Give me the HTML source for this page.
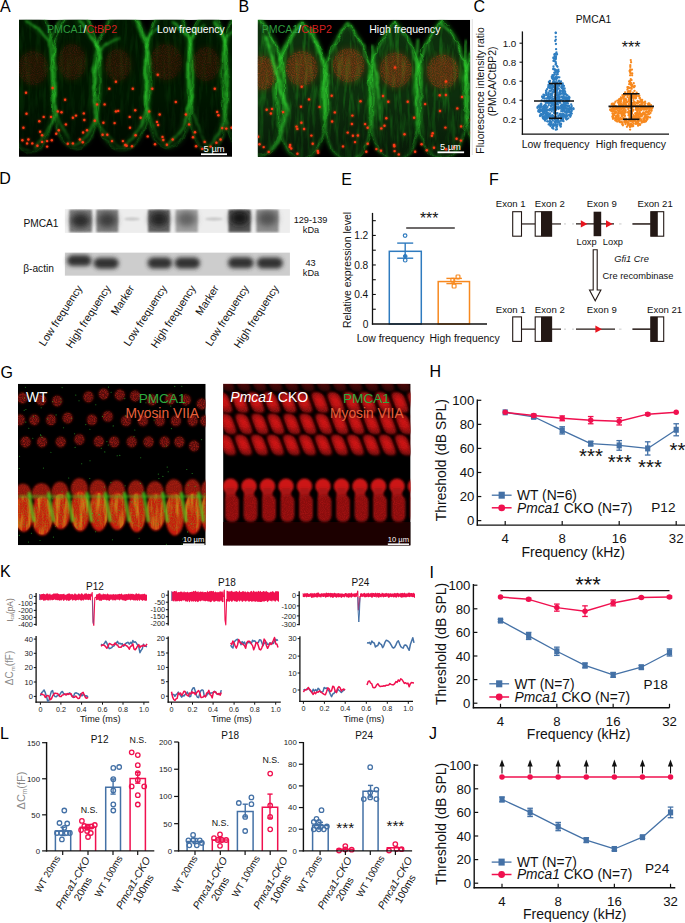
<!DOCTYPE html>
<html><head><meta charset="utf-8"><style>
html,body{margin:0;padding:0;background:#fff;width:685px;height:923px;overflow:hidden}
svg{display:block}
text{font-family:"Liberation Sans",sans-serif}
</style></head><body>
<svg width="685" height="923" viewBox="0 0 685 923">
<defs>
<filter id="b05" x="-50%" y="-50%" width="200%" height="200%"><feGaussianBlur stdDeviation="0.5"/></filter>
<filter id="b1" x="-50%" y="-50%" width="200%" height="200%"><feGaussianBlur stdDeviation="1"/></filter>
<filter id="b2" x="-50%" y="-50%" width="200%" height="200%"><feGaussianBlur stdDeviation="2"/></filter>
<filter id="b3" x="-50%" y="-50%" width="200%" height="200%"><feGaussianBlur stdDeviation="3"/></filter>
<filter id="b5" x="-50%" y="-50%" width="200%" height="200%"><feGaussianBlur stdDeviation="5"/></filter>
<filter id="speck" x="-20%" y="-20%" width="140%" height="140%"><feTurbulence type="fractalNoise" baseFrequency="0.9" numOctaves="2" seed="3" result="n"/><feColorMatrix in="n" type="matrix" values="0 0 0 0 0  0 0 0 0 0  0 0 0 0 0  0 0 0 -2.2 1.4" result="m"/><feComposite in="SourceGraphic" in2="m" operator="in"/></filter>
<filter id="wob" x="-10%" y="-10%" width="120%" height="120%"><feTurbulence type="fractalNoise" baseFrequency="0.06" numOctaves="2" seed="5" result="t"/><feDisplacementMap in="SourceGraphic" in2="t" scale="6" xChannelSelector="R" yChannelSelector="G" result="d"/><feGaussianBlur in="d" stdDeviation="0.9"/></filter>
<filter id="wob2" x="-10%" y="-10%" width="120%" height="120%"><feTurbulence type="fractalNoise" baseFrequency="0.09" numOctaves="2" seed="9" result="t"/><feDisplacementMap in="SourceGraphic" in2="t" scale="8" xChannelSelector="R" yChannelSelector="G" result="d"/><feGaussianBlur in="d" stdDeviation="0.6"/></filter>
<filter id="fib" x="0" y="0" width="100%" height="100%"><feTurbulence type="fractalNoise" baseFrequency="0.25 0.035" numOctaves="3" seed="2" result="n"/><feColorMatrix in="n" type="matrix" values="0 0 0 0 0  0 0 0 0 0  0 0 0 0 0  0 0 0 -3 1.7" result="m"/><feComposite in="SourceGraphic" in2="m" operator="in" result="c"/><feGaussianBlur in="c" stdDeviation="0.5"/></filter>
<filter id="dotglow" x="-100%" y="-100%" width="300%" height="300%"><feGaussianBlur in="SourceGraphic" stdDeviation="1.1" result="g"/><feMerge><feMergeNode in="g"/><feMergeNode in="SourceGraphic"/></feMerge></filter>
<linearGradient id="fadeB" x1="0" y1="0" x2="0" y2="1"><stop offset="0" stop-color="#000" stop-opacity="0"/><stop offset="0.55" stop-color="#000" stop-opacity="0"/><stop offset="1" stop-color="#000" stop-opacity="1"/></linearGradient>
</defs>
<text x="0.0" y="11.6" font-size="16" text-anchor="start" fill="#000" >A</text>
<text x="238.6" y="11.6" font-size="16" text-anchor="start" fill="#000" >B</text>
<text x="473.5" y="11.6" font-size="16" text-anchor="start" fill="#000" >C</text>
<text x="-0.8" y="184.3" font-size="16" text-anchor="start" fill="#000" >D</text>
<text x="341.3" y="185.0" font-size="16" text-anchor="start" fill="#000" >E</text>
<text x="489.0" y="184.5" font-size="16" text-anchor="start" fill="#000" >F</text>
<text x="0.5" y="377.5" font-size="16" text-anchor="start" fill="#000" >G</text>
<text x="429.5" y="377.0" font-size="16" text-anchor="start" fill="#000" >H</text>
<text x="429.5" y="577.6" font-size="16" text-anchor="start" fill="#000" >I</text>
<text x="429.0" y="738.5" font-size="16" text-anchor="start" fill="#000" >J</text>
<text x="0.0" y="576.8" font-size="16" text-anchor="start" fill="#000" >K</text>
<text x="0.0" y="738.7" font-size="16" text-anchor="start" fill="#000" >L</text>
<clipPath id="clipA"><rect x="19" y="19.8" width="213" height="137"/></clipPath>
<g clip-path="url(#clipA)">
<rect x="19.00" y="19.80" width="213.00" height="137.00" fill="#000" stroke="none" stroke-width="1" />
<path d="M30.0,-6.0 C21.2,6.0 5.0,29.5 5.0,73.0 C5.0,120.4 11.2,152.0 30.0,152.0 C48.8,152.0 55.0,120.4 55.0,73.0 C55.0,29.5 38.8,6.0 30.0,-6.0 Z" fill="#021202" filter="url(#b3)"/>
<path d="M76.0,0.0 C67.6,12.0 52.0,33.3 52.0,74.0 C52.0,118.4 58.0,148.0 76.0,148.0 C94.0,148.0 100.0,118.4 100.0,74.0 C100.0,33.3 84.4,12.0 76.0,0.0 Z" fill="#021202" filter="url(#b3)"/>
<path d="M122.0,2.0 C112.2,14.0 94.0,35.3 94.0,76.0 C94.0,120.4 101.0,150.0 122.0,150.0 C143.0,150.0 150.0,120.4 150.0,76.0 C150.0,35.3 131.8,14.0 122.0,2.0 Z" fill="#021202" filter="url(#b3)"/>
<path d="M169.0,-4.0 C160.6,8.0 145.0,30.2 145.0,72.0 C145.0,117.6 151.0,148.0 169.0,148.0 C187.0,148.0 193.0,117.6 193.0,72.0 C193.0,30.2 177.4,8.0 169.0,-4.0 Z" fill="#021202" filter="url(#b3)"/>
<path d="M208.0,0.0 C201.0,12.0 188.0,34.0 188.0,75.5 C188.0,120.8 193.0,151.0 208.0,151.0 C223.0,151.0 228.0,120.8 228.0,75.5 C228.0,34.0 215.0,12.0 208.0,0.0 Z" fill="#021202" filter="url(#b3)"/>
<path d="M246.0,-4.0 C237.6,8.0 222.0,30.6 222.0,73.0 C222.0,119.2 228.0,150.0 246.0,150.0 C264.0,150.0 270.0,119.2 270.0,73.0 C270.0,30.6 254.4,8.0 246.0,-4.0 Z" fill="#021202" filter="url(#b3)"/>
<path d="M30.0,-6.0 C21.2,6.0 5.0,29.5 5.0,73.0 C5.0,120.4 11.2,152.0 30.0,152.0 C48.8,152.0 55.0,120.4 55.0,73.0 C55.0,29.5 38.8,6.0 30.0,-6.0 Z" fill="#1f9a1f" opacity="0.12" filter="url(#fib)"/>
<path d="M76.0,0.0 C67.6,12.0 52.0,33.3 52.0,74.0 C52.0,118.4 58.0,148.0 76.0,148.0 C94.0,148.0 100.0,118.4 100.0,74.0 C100.0,33.3 84.4,12.0 76.0,0.0 Z" fill="#1f9a1f" opacity="0.12" filter="url(#fib)"/>
<path d="M122.0,2.0 C112.2,14.0 94.0,35.3 94.0,76.0 C94.0,120.4 101.0,150.0 122.0,150.0 C143.0,150.0 150.0,120.4 150.0,76.0 C150.0,35.3 131.8,14.0 122.0,2.0 Z" fill="#1f9a1f" opacity="0.12" filter="url(#fib)"/>
<path d="M169.0,-4.0 C160.6,8.0 145.0,30.2 145.0,72.0 C145.0,117.6 151.0,148.0 169.0,148.0 C187.0,148.0 193.0,117.6 193.0,72.0 C193.0,30.2 177.4,8.0 169.0,-4.0 Z" fill="#1f9a1f" opacity="0.12" filter="url(#fib)"/>
<path d="M208.0,0.0 C201.0,12.0 188.0,34.0 188.0,75.5 C188.0,120.8 193.0,151.0 208.0,151.0 C223.0,151.0 228.0,120.8 228.0,75.5 C228.0,34.0 215.0,12.0 208.0,0.0 Z" fill="#1f9a1f" opacity="0.12" filter="url(#fib)"/>
<path d="M246.0,-4.0 C237.6,8.0 222.0,30.6 222.0,73.0 C222.0,119.2 228.0,150.0 246.0,150.0 C264.0,150.0 270.0,119.2 270.0,73.0 C270.0,30.6 254.4,8.0 246.0,-4.0 Z" fill="#1f9a1f" opacity="0.12" filter="url(#fib)"/>
<ellipse cx="33" cy="68" rx="15" ry="17" fill="#6a1a0c" opacity="0.252" filter="url(#b3)"/>
<ellipse cx="33" cy="68" rx="15" ry="17" fill="#6a1a0c" opacity="0.42" filter="url(#speck)"/>
<ellipse cx="72" cy="62" rx="14" ry="18" fill="#6a1a0c" opacity="0.252" filter="url(#b3)"/>
<ellipse cx="72" cy="62" rx="14" ry="18" fill="#6a1a0c" opacity="0.42" filter="url(#speck)"/>
<ellipse cx="118" cy="65" rx="13" ry="16" fill="#6a1a0c" opacity="0.252" filter="url(#b3)"/>
<ellipse cx="118" cy="65" rx="13" ry="16" fill="#6a1a0c" opacity="0.42" filter="url(#speck)"/>
<ellipse cx="166" cy="62" rx="16" ry="18" fill="#6a1a0c" opacity="0.252" filter="url(#b3)"/>
<ellipse cx="166" cy="62" rx="16" ry="18" fill="#6a1a0c" opacity="0.42" filter="url(#speck)"/>
<ellipse cx="206" cy="64" rx="14" ry="17" fill="#6a1a0c" opacity="0.252" filter="url(#b3)"/>
<ellipse cx="206" cy="64" rx="14" ry="17" fill="#6a1a0c" opacity="0.42" filter="url(#speck)"/>
<path d="M30.0,-6.0 C21.2,6.0 5.0,29.5 5.0,73.0 C5.0,120.4 11.2,152.0 30.0,152.0 C48.8,152.0 55.0,120.4 55.0,73.0 C55.0,29.5 38.8,6.0 30.0,-6.0 Z" fill="none" stroke="#2ec82e" stroke-width="3.36" opacity="0.22" filter="url(#b2)"/>
<path d="M30.0,-6.0 C21.2,6.0 5.0,29.5 5.0,73.0 C5.0,120.4 11.2,152.0 30.0,152.0 C48.8,152.0 55.0,120.4 55.0,73.0 C55.0,29.5 38.8,6.0 30.0,-6.0 Z" fill="none" stroke="#2ec82e" stroke-width="1.2" opacity="0.7" filter="url(#wob)"/>
<path d="M30.0,-6.0 C21.2,6.0 5.0,29.5 5.0,73.0 C5.0,120.4 11.2,152.0 30.0,152.0 C48.8,152.0 55.0,120.4 55.0,73.0 C55.0,29.5 38.8,6.0 30.0,-6.0 Z" fill="none" stroke="#2ec82e" stroke-width="0.72" opacity="0.5" filter="url(#wob2)"/>
<path d="M76.0,0.0 C67.6,12.0 52.0,33.3 52.0,74.0 C52.0,118.4 58.0,148.0 76.0,148.0 C94.0,148.0 100.0,118.4 100.0,74.0 C100.0,33.3 84.4,12.0 76.0,0.0 Z" fill="none" stroke="#2ec82e" stroke-width="3.36" opacity="0.22" filter="url(#b2)"/>
<path d="M76.0,0.0 C67.6,12.0 52.0,33.3 52.0,74.0 C52.0,118.4 58.0,148.0 76.0,148.0 C94.0,148.0 100.0,118.4 100.0,74.0 C100.0,33.3 84.4,12.0 76.0,0.0 Z" fill="none" stroke="#2ec82e" stroke-width="1.2" opacity="0.7" filter="url(#wob)"/>
<path d="M76.0,0.0 C67.6,12.0 52.0,33.3 52.0,74.0 C52.0,118.4 58.0,148.0 76.0,148.0 C94.0,148.0 100.0,118.4 100.0,74.0 C100.0,33.3 84.4,12.0 76.0,0.0 Z" fill="none" stroke="#2ec82e" stroke-width="0.72" opacity="0.5" filter="url(#wob2)"/>
<path d="M122.0,2.0 C112.2,14.0 94.0,35.3 94.0,76.0 C94.0,120.4 101.0,150.0 122.0,150.0 C143.0,150.0 150.0,120.4 150.0,76.0 C150.0,35.3 131.8,14.0 122.0,2.0 Z" fill="none" stroke="#2ec82e" stroke-width="3.36" opacity="0.22" filter="url(#b2)"/>
<path d="M122.0,2.0 C112.2,14.0 94.0,35.3 94.0,76.0 C94.0,120.4 101.0,150.0 122.0,150.0 C143.0,150.0 150.0,120.4 150.0,76.0 C150.0,35.3 131.8,14.0 122.0,2.0 Z" fill="none" stroke="#2ec82e" stroke-width="1.2" opacity="0.7" filter="url(#wob)"/>
<path d="M122.0,2.0 C112.2,14.0 94.0,35.3 94.0,76.0 C94.0,120.4 101.0,150.0 122.0,150.0 C143.0,150.0 150.0,120.4 150.0,76.0 C150.0,35.3 131.8,14.0 122.0,2.0 Z" fill="none" stroke="#2ec82e" stroke-width="0.72" opacity="0.5" filter="url(#wob2)"/>
<path d="M169.0,-4.0 C160.6,8.0 145.0,30.2 145.0,72.0 C145.0,117.6 151.0,148.0 169.0,148.0 C187.0,148.0 193.0,117.6 193.0,72.0 C193.0,30.2 177.4,8.0 169.0,-4.0 Z" fill="none" stroke="#2ec82e" stroke-width="3.36" opacity="0.22" filter="url(#b2)"/>
<path d="M169.0,-4.0 C160.6,8.0 145.0,30.2 145.0,72.0 C145.0,117.6 151.0,148.0 169.0,148.0 C187.0,148.0 193.0,117.6 193.0,72.0 C193.0,30.2 177.4,8.0 169.0,-4.0 Z" fill="none" stroke="#2ec82e" stroke-width="1.2" opacity="0.7" filter="url(#wob)"/>
<path d="M169.0,-4.0 C160.6,8.0 145.0,30.2 145.0,72.0 C145.0,117.6 151.0,148.0 169.0,148.0 C187.0,148.0 193.0,117.6 193.0,72.0 C193.0,30.2 177.4,8.0 169.0,-4.0 Z" fill="none" stroke="#2ec82e" stroke-width="0.72" opacity="0.5" filter="url(#wob2)"/>
<path d="M208.0,0.0 C201.0,12.0 188.0,34.0 188.0,75.5 C188.0,120.8 193.0,151.0 208.0,151.0 C223.0,151.0 228.0,120.8 228.0,75.5 C228.0,34.0 215.0,12.0 208.0,0.0 Z" fill="none" stroke="#2ec82e" stroke-width="3.36" opacity="0.22" filter="url(#b2)"/>
<path d="M208.0,0.0 C201.0,12.0 188.0,34.0 188.0,75.5 C188.0,120.8 193.0,151.0 208.0,151.0 C223.0,151.0 228.0,120.8 228.0,75.5 C228.0,34.0 215.0,12.0 208.0,0.0 Z" fill="none" stroke="#2ec82e" stroke-width="1.2" opacity="0.7" filter="url(#wob)"/>
<path d="M208.0,0.0 C201.0,12.0 188.0,34.0 188.0,75.5 C188.0,120.8 193.0,151.0 208.0,151.0 C223.0,151.0 228.0,120.8 228.0,75.5 C228.0,34.0 215.0,12.0 208.0,0.0 Z" fill="none" stroke="#2ec82e" stroke-width="0.72" opacity="0.5" filter="url(#wob2)"/>
<path d="M246.0,-4.0 C237.6,8.0 222.0,30.6 222.0,73.0 C222.0,119.2 228.0,150.0 246.0,150.0 C264.0,150.0 270.0,119.2 270.0,73.0 C270.0,30.6 254.4,8.0 246.0,-4.0 Z" fill="none" stroke="#2ec82e" stroke-width="3.36" opacity="0.22" filter="url(#b2)"/>
<path d="M246.0,-4.0 C237.6,8.0 222.0,30.6 222.0,73.0 C222.0,119.2 228.0,150.0 246.0,150.0 C264.0,150.0 270.0,119.2 270.0,73.0 C270.0,30.6 254.4,8.0 246.0,-4.0 Z" fill="none" stroke="#2ec82e" stroke-width="1.2" opacity="0.7" filter="url(#wob)"/>
<path d="M246.0,-4.0 C237.6,8.0 222.0,30.6 222.0,73.0 C222.0,119.2 228.0,150.0 246.0,150.0 C264.0,150.0 270.0,119.2 270.0,73.0 C270.0,30.6 254.4,8.0 246.0,-4.0 Z" fill="none" stroke="#2ec82e" stroke-width="0.72" opacity="0.5" filter="url(#wob2)"/>
<path d="M25,20 Q40,30 50,42 Q53,75 55,113 Q50,128 35,149" fill="none" stroke="#2ec82e" stroke-width="3.9600000000000004" opacity="0.1875" filter="url(#b2)"/>
<path d="M25,20 Q40,30 50,42 Q53,75 55,113 Q50,128 35,149" fill="none" stroke="#2ec82e" stroke-width="1.8" opacity="0.75" filter="url(#wob)"/>
<path d="M60,20 Q54,30 50,42" fill="none" stroke="#2ec82e" stroke-width="3.5200000000000005" opacity="0.15" filter="url(#b2)"/>
<path d="M60,20 Q54,30 50,42" fill="none" stroke="#2ec82e" stroke-width="1.6" opacity="0.6" filter="url(#wob)"/>
<path d="M55,113 Q64,132 75,146" fill="none" stroke="#2ec82e" stroke-width="3.5200000000000005" opacity="0.15" filter="url(#b2)"/>
<path d="M55,113 Q64,132 75,146" fill="none" stroke="#2ec82e" stroke-width="1.6" opacity="0.6" filter="url(#wob)"/>
<path d="M78,20 Q92,35 100,51 Q93,80 93,100 Q94,110 96,118 Q88,138 75,146" fill="none" stroke="#2ec82e" stroke-width="4.840000000000001" opacity="0.1875" filter="url(#b2)"/>
<path d="M78,20 Q92,35 100,51 Q93,80 93,100 Q94,110 96,118 Q88,138 75,146" fill="none" stroke="#2ec82e" stroke-width="2.2" opacity="0.75" filter="url(#wob)"/>
<path d="M119,38 Q108,42 100,51" fill="none" stroke="#2ec82e" stroke-width="3.5200000000000005" opacity="0.15" filter="url(#b2)"/>
<path d="M119,38 Q108,42 100,51" fill="none" stroke="#2ec82e" stroke-width="1.6" opacity="0.6" filter="url(#wob)"/>
<path d="M96,118 Q106,140 121,147" fill="none" stroke="#2ec82e" stroke-width="3.5200000000000005" opacity="0.15" filter="url(#b2)"/>
<path d="M96,118 Q106,140 121,147" fill="none" stroke="#2ec82e" stroke-width="1.6" opacity="0.6" filter="url(#wob)"/>
<path d="M137,20 Q143,30 147,40 Q145,75 147,107 Q140,135 122,147" fill="none" stroke="#2ec82e" stroke-width="5.28" opacity="0.2" filter="url(#b2)"/>
<path d="M137,20 Q143,30 147,40 Q145,75 147,107 Q140,135 122,147" fill="none" stroke="#2ec82e" stroke-width="2.4" opacity="0.8" filter="url(#wob)"/>
<path d="M158,28 Q150,33 147,40" fill="none" stroke="#2ec82e" stroke-width="3.5200000000000005" opacity="0.15" filter="url(#b2)"/>
<path d="M158,28 Q150,33 147,40" fill="none" stroke="#2ec82e" stroke-width="1.6" opacity="0.6" filter="url(#wob)"/>
<path d="M147,107 Q154,135 168,146" fill="none" stroke="#2ec82e" stroke-width="3.5200000000000005" opacity="0.15" filter="url(#b2)"/>
<path d="M147,107 Q154,135 168,146" fill="none" stroke="#2ec82e" stroke-width="1.6" opacity="0.6" filter="url(#wob)"/>
<path d="M172,22 Q184,30 190,40 Q188,70 191,98 Q186,130 168,146" fill="none" stroke="#2ec82e" stroke-width="5.28" opacity="0.2" filter="url(#b2)"/>
<path d="M172,22 Q184,30 190,40 Q188,70 191,98 Q186,130 168,146" fill="none" stroke="#2ec82e" stroke-width="2.4" opacity="0.8" filter="url(#wob)"/>
<path d="M206,24 Q196,30 190,40" fill="none" stroke="#2ec82e" stroke-width="3.5200000000000005" opacity="0.15" filter="url(#b2)"/>
<path d="M206,24 Q196,30 190,40" fill="none" stroke="#2ec82e" stroke-width="1.6" opacity="0.6" filter="url(#wob)"/>
<path d="M191,98 Q198,132 208,148" fill="none" stroke="#2ec82e" stroke-width="3.5200000000000005" opacity="0.15" filter="url(#b2)"/>
<path d="M191,98 Q198,132 208,148" fill="none" stroke="#2ec82e" stroke-width="1.6" opacity="0.6" filter="url(#wob)"/>
<path d="M215,22 Q222,32 225,43 Q227,80 225,113 Q220,136 208,148" fill="none" stroke="#2ec82e" stroke-width="4.840000000000001" opacity="0.1875" filter="url(#b2)"/>
<path d="M215,22 Q222,32 225,43 Q227,80 225,113 Q220,136 208,148" fill="none" stroke="#2ec82e" stroke-width="2.2" opacity="0.75" filter="url(#wob)"/>
<path d="M234,30 Q228,36 225,43" fill="none" stroke="#2ec82e" stroke-width="3.5200000000000005" opacity="0.15" filter="url(#b2)"/>
<path d="M234,30 Q228,36 225,43" fill="none" stroke="#2ec82e" stroke-width="1.6" opacity="0.6" filter="url(#wob)"/>
<rect x="19" y="19.8" width="213" height="137" fill="url(#fadeB)" opacity="0.60"/>
<circle cx="26.0" cy="92.7" r="1.2" fill="#ff3a14" filter="url(#dotglow)"/>
<circle cx="26.5" cy="113.8" r="1.2" fill="#ff3a14" filter="url(#dotglow)"/>
<circle cx="23.4" cy="127.8" r="1.2" fill="#ff3a14" filter="url(#dotglow)"/>
<circle cx="22.4" cy="140.3" r="1.2" fill="#ff3a14" filter="url(#dotglow)"/>
<circle cx="28.4" cy="139.5" r="1.2" fill="#ff3a14" filter="url(#dotglow)"/>
<circle cx="27.1" cy="143.4" r="1.2" fill="#ff3a14" filter="url(#dotglow)"/>
<circle cx="32.3" cy="143.4" r="1.2" fill="#ff3a14" filter="url(#dotglow)"/>
<circle cx="37.4" cy="145.8" r="1.2" fill="#ff3a14" filter="url(#dotglow)"/>
<circle cx="42.1" cy="141.9" r="1.2" fill="#ff3a14" filter="url(#dotglow)"/>
<circle cx="47.1" cy="141.1" r="1.2" fill="#ff3a14" filter="url(#dotglow)"/>
<circle cx="51.8" cy="140.3" r="1.2" fill="#ff3a14" filter="url(#dotglow)"/>
<circle cx="47.1" cy="146.6" r="1.2" fill="#ff3a14" filter="url(#dotglow)"/>
<circle cx="40.1" cy="131.7" r="1.2" fill="#ff3a14" filter="url(#dotglow)"/>
<circle cx="42.1" cy="135.3" r="1.2" fill="#ff3a14" filter="url(#dotglow)"/>
<circle cx="39.3" cy="121.3" r="1.2" fill="#ff3a14" filter="url(#dotglow)"/>
<circle cx="43.7" cy="116.9" r="1.2" fill="#ff3a14" filter="url(#dotglow)"/>
<circle cx="51.0" cy="116.9" r="1.2" fill="#ff3a14" filter="url(#dotglow)"/>
<circle cx="52.6" cy="88.0" r="1.2" fill="#ff3a14" filter="url(#dotglow)"/>
<circle cx="57.8" cy="111.4" r="1.2" fill="#ff3a14" filter="url(#dotglow)"/>
<circle cx="61.5" cy="112.2" r="1.2" fill="#ff3a14" filter="url(#dotglow)"/>
<circle cx="65.1" cy="99.7" r="1.2" fill="#ff3a14" filter="url(#dotglow)"/>
<circle cx="56.2" cy="133.7" r="1.2" fill="#ff3a14" filter="url(#dotglow)"/>
<circle cx="58.8" cy="130.2" r="1.2" fill="#ff3a14" filter="url(#dotglow)"/>
<circle cx="65.9" cy="124.4" r="1.2" fill="#ff3a14" filter="url(#dotglow)"/>
<circle cx="72.9" cy="117.7" r="1.2" fill="#ff3a14" filter="url(#dotglow)"/>
<circle cx="76.0" cy="115.6" r="1.2" fill="#ff3a14" filter="url(#dotglow)"/>
<circle cx="83.8" cy="113.4" r="1.2" fill="#ff3a14" filter="url(#dotglow)"/>
<circle cx="84.3" cy="120.0" r="1.2" fill="#ff3a14" filter="url(#dotglow)"/>
<circle cx="83.1" cy="132.5" r="1.2" fill="#ff3a14" filter="url(#dotglow)"/>
<circle cx="87.0" cy="130.2" r="1.2" fill="#ff3a14" filter="url(#dotglow)"/>
<circle cx="79.9" cy="139.5" r="1.2" fill="#ff3a14" filter="url(#dotglow)"/>
<circle cx="82.8" cy="142.3" r="1.2" fill="#ff3a14" filter="url(#dotglow)"/>
<circle cx="72.9" cy="143.4" r="1.2" fill="#ff3a14" filter="url(#dotglow)"/>
<circle cx="67.8" cy="143.8" r="1.2" fill="#ff3a14" filter="url(#dotglow)"/>
<circle cx="94.8" cy="120.8" r="1.2" fill="#ff3a14" filter="url(#dotglow)"/>
<circle cx="97.1" cy="104.4" r="1.2" fill="#ff3a14" filter="url(#dotglow)"/>
<circle cx="104.6" cy="104.4" r="1.2" fill="#ff3a14" filter="url(#dotglow)"/>
<circle cx="103.4" cy="122.8" r="1.2" fill="#ff3a14" filter="url(#dotglow)"/>
<circle cx="109.3" cy="88.8" r="1.2" fill="#ff3a14" filter="url(#dotglow)"/>
<circle cx="115.9" cy="81.7" r="1.2" fill="#ff3a14" filter="url(#dotglow)"/>
<circle cx="115.9" cy="111.4" r="1.2" fill="#ff3a14" filter="url(#dotglow)"/>
<circle cx="118.2" cy="110.9" r="1.2" fill="#ff3a14" filter="url(#dotglow)"/>
<circle cx="114.6" cy="123.1" r="1.2" fill="#ff3a14" filter="url(#dotglow)"/>
<circle cx="102.6" cy="134.8" r="1.2" fill="#ff3a14" filter="url(#dotglow)"/>
<circle cx="107.3" cy="134.8" r="1.2" fill="#ff3a14" filter="url(#dotglow)"/>
<circle cx="112.0" cy="141.1" r="1.2" fill="#ff3a14" filter="url(#dotglow)"/>
<circle cx="122.9" cy="141.1" r="1.2" fill="#ff3a14" filter="url(#dotglow)"/>
<circle cx="125.3" cy="145.0" r="1.2" fill="#ff3a14" filter="url(#dotglow)"/>
<circle cx="157.8" cy="74.7" r="1.2" fill="#ff3a14" filter="url(#dotglow)"/>
<circle cx="132.8" cy="88.8" r="1.2" fill="#ff3a14" filter="url(#dotglow)"/>
<circle cx="152.3" cy="88.8" r="1.2" fill="#ff3a14" filter="url(#dotglow)"/>
<circle cx="175.8" cy="102.0" r="1.2" fill="#ff3a14" filter="url(#dotglow)"/>
<circle cx="135.2" cy="110.3" r="1.2" fill="#ff3a14" filter="url(#dotglow)"/>
<circle cx="149.2" cy="111.4" r="1.2" fill="#ff3a14" filter="url(#dotglow)"/>
<circle cx="129.7" cy="116.9" r="1.2" fill="#ff3a14" filter="url(#dotglow)"/>
<circle cx="140.6" cy="117.7" r="1.2" fill="#ff3a14" filter="url(#dotglow)"/>
<circle cx="159.7" cy="114.5" r="1.2" fill="#ff3a14" filter="url(#dotglow)"/>
<circle cx="157.0" cy="121.9" r="1.2" fill="#ff3a14" filter="url(#dotglow)"/>
<circle cx="158.1" cy="125.0" r="1.2" fill="#ff3a14" filter="url(#dotglow)"/>
<circle cx="130.0" cy="127.8" r="1.2" fill="#ff3a14" filter="url(#dotglow)"/>
<circle cx="135.6" cy="135.3" r="1.2" fill="#ff3a14" filter="url(#dotglow)"/>
<circle cx="147.7" cy="136.4" r="1.2" fill="#ff3a14" filter="url(#dotglow)"/>
<circle cx="162.5" cy="136.9" r="1.2" fill="#ff3a14" filter="url(#dotglow)"/>
<circle cx="163.3" cy="140.0" r="1.2" fill="#ff3a14" filter="url(#dotglow)"/>
<circle cx="172.7" cy="139.5" r="1.2" fill="#ff3a14" filter="url(#dotglow)"/>
<circle cx="166.9" cy="144.7" r="1.2" fill="#ff3a14" filter="url(#dotglow)"/>
<circle cx="155.0" cy="144.2" r="1.2" fill="#ff3a14" filter="url(#dotglow)"/>
<circle cx="126.6" cy="145.8" r="1.2" fill="#ff3a14" filter="url(#dotglow)"/>
<circle cx="132.0" cy="146.3" r="1.2" fill="#ff3a14" filter="url(#dotglow)"/>
<circle cx="185.9" cy="114.5" r="1.2" fill="#ff3a14" filter="url(#dotglow)"/>
<circle cx="189.1" cy="124.4" r="1.2" fill="#ff3a14" filter="url(#dotglow)"/>
<circle cx="195.0" cy="132.2" r="1.2" fill="#ff3a14" filter="url(#dotglow)"/>
<circle cx="193.0" cy="137.2" r="1.2" fill="#ff3a14" filter="url(#dotglow)"/>
<circle cx="196.1" cy="146.3" r="1.2" fill="#ff3a14" filter="url(#dotglow)"/>
<circle cx="202.3" cy="148.9" r="1.2" fill="#ff3a14" filter="url(#dotglow)"/>
<circle cx="204.7" cy="141.9" r="1.2" fill="#ff3a14" filter="url(#dotglow)"/>
<circle cx="214.8" cy="88.8" r="1.2" fill="#ff3a14" filter="url(#dotglow)"/>
<circle cx="217.2" cy="111.9" r="1.2" fill="#ff3a14" filter="url(#dotglow)"/>
<circle cx="218.4" cy="115.3" r="1.2" fill="#ff3a14" filter="url(#dotglow)"/>
<circle cx="222.2" cy="128.1" r="1.2" fill="#ff3a14" filter="url(#dotglow)"/>
<circle cx="226.3" cy="128.6" r="1.2" fill="#ff3a14" filter="url(#dotglow)"/>
<circle cx="220.6" cy="139.5" r="1.2" fill="#ff3a14" filter="url(#dotglow)"/>
<circle cx="216.4" cy="142.7" r="1.2" fill="#ff3a14" filter="url(#dotglow)"/>
<circle cx="210.6" cy="146.6" r="1.2" fill="#ff3a14" filter="url(#dotglow)"/>
<circle cx="231.6" cy="127.8" r="1.2" fill="#ff3a14" filter="url(#dotglow)"/>
</g>
<clipPath id="clipB"><rect x="257.8" y="19.8" width="212.4" height="137.2"/></clipPath>
<g clip-path="url(#clipB)">
<rect x="257.80" y="19.80" width="212.40" height="137.20" fill="#000" stroke="none" stroke-width="1" />
<path d="M259.0,18.0 C250.1,30.0 233.5,49.0 233.5,87.0 C233.5,128.4 239.9,156.0 259.0,156.0 C278.1,156.0 284.5,128.4 284.5,87.0 C284.5,49.0 267.9,30.0 259.0,18.0 Z" fill="#082e08" filter="url(#b3)"/>
<path d="M302.0,22.0 C293.1,34.0 276.5,52.6 276.5,90.0 C276.5,130.8 282.9,158.0 302.0,158.0 C321.1,158.0 327.5,130.8 327.5,90.0 C327.5,52.6 310.9,34.0 302.0,22.0 Z" fill="#082e08" filter="url(#b3)"/>
<path d="M348.0,24.0 C339.2,36.0 323.0,54.6 323.0,92.0 C323.0,132.8 329.2,160.0 348.0,160.0 C366.8,160.0 373.0,132.8 373.0,92.0 C373.0,54.6 356.8,36.0 348.0,24.0 Z" fill="#082e08" filter="url(#b3)"/>
<path d="M395.0,22.0 C385.9,34.0 369.0,53.0 369.0,91.0 C369.0,132.4 375.5,160.0 395.0,160.0 C414.5,160.0 421.0,132.4 421.0,91.0 C421.0,53.0 404.1,34.0 395.0,22.0 Z" fill="#082e08" filter="url(#b3)"/>
<path d="M442.0,20.0 C432.9,32.0 416.0,51.0 416.0,89.0 C416.0,130.4 422.5,158.0 442.0,158.0 C461.5,158.0 468.0,130.4 468.0,89.0 C468.0,51.0 451.1,32.0 442.0,20.0 Z" fill="#082e08" filter="url(#b3)"/>
<path d="M489.0,22.0 C480.6,34.0 465.0,52.1 465.0,89.0 C465.0,129.2 471.0,156.0 489.0,156.0 C507.0,156.0 513.0,129.2 513.0,89.0 C513.0,52.1 497.4,34.0 489.0,22.0 Z" fill="#082e08" filter="url(#b3)"/>
<path d="M259.0,18.0 C250.1,30.0 233.5,49.0 233.5,87.0 C233.5,128.4 239.9,156.0 259.0,156.0 C278.1,156.0 284.5,128.4 284.5,87.0 C284.5,49.0 267.9,30.0 259.0,18.0 Z" fill="#22a822" opacity="0.38" filter="url(#fib)"/>
<path d="M302.0,22.0 C293.1,34.0 276.5,52.6 276.5,90.0 C276.5,130.8 282.9,158.0 302.0,158.0 C321.1,158.0 327.5,130.8 327.5,90.0 C327.5,52.6 310.9,34.0 302.0,22.0 Z" fill="#22a822" opacity="0.38" filter="url(#fib)"/>
<path d="M348.0,24.0 C339.2,36.0 323.0,54.6 323.0,92.0 C323.0,132.8 329.2,160.0 348.0,160.0 C366.8,160.0 373.0,132.8 373.0,92.0 C373.0,54.6 356.8,36.0 348.0,24.0 Z" fill="#22a822" opacity="0.38" filter="url(#fib)"/>
<path d="M395.0,22.0 C385.9,34.0 369.0,53.0 369.0,91.0 C369.0,132.4 375.5,160.0 395.0,160.0 C414.5,160.0 421.0,132.4 421.0,91.0 C421.0,53.0 404.1,34.0 395.0,22.0 Z" fill="#22a822" opacity="0.38" filter="url(#fib)"/>
<path d="M442.0,20.0 C432.9,32.0 416.0,51.0 416.0,89.0 C416.0,130.4 422.5,158.0 442.0,158.0 C461.5,158.0 468.0,130.4 468.0,89.0 C468.0,51.0 451.1,32.0 442.0,20.0 Z" fill="#22a822" opacity="0.38" filter="url(#fib)"/>
<path d="M489.0,22.0 C480.6,34.0 465.0,52.1 465.0,89.0 C465.0,129.2 471.0,156.0 489.0,156.0 C507.0,156.0 513.0,129.2 513.0,89.0 C513.0,52.1 497.4,34.0 489.0,22.0 Z" fill="#22a822" opacity="0.38" filter="url(#fib)"/>
<ellipse cx="262" cy="73" rx="15" ry="17" fill="#a03a14" opacity="0.39" filter="url(#b3)"/>
<ellipse cx="262" cy="73" rx="15" ry="17" fill="#a03a14" opacity="0.65" filter="url(#speck)"/>
<ellipse cx="301.7" cy="68.4" rx="16" ry="17.5" fill="#a03a14" opacity="0.39" filter="url(#b3)"/>
<ellipse cx="301.7" cy="68.4" rx="16" ry="17.5" fill="#a03a14" opacity="0.65" filter="url(#speck)"/>
<ellipse cx="348.6" cy="65.3" rx="16" ry="17" fill="#a03a14" opacity="0.39" filter="url(#b3)"/>
<ellipse cx="348.6" cy="65.3" rx="16" ry="17" fill="#a03a14" opacity="0.65" filter="url(#speck)"/>
<ellipse cx="395.8" cy="70" rx="16" ry="17.5" fill="#a03a14" opacity="0.39" filter="url(#b3)"/>
<ellipse cx="395.8" cy="70" rx="16" ry="17.5" fill="#a03a14" opacity="0.65" filter="url(#speck)"/>
<ellipse cx="442.7" cy="71.6" rx="16" ry="17" fill="#a03a14" opacity="0.39" filter="url(#b3)"/>
<ellipse cx="442.7" cy="71.6" rx="16" ry="17" fill="#a03a14" opacity="0.65" filter="url(#speck)"/>
<path d="M259.0,18.0 C250.1,30.0 233.5,49.0 233.5,87.0 C233.5,128.4 239.9,156.0 259.0,156.0 C278.1,156.0 284.5,128.4 284.5,87.0 C284.5,49.0 267.9,30.0 259.0,18.0 Z" fill="none" stroke="#33d633" stroke-width="4.199999999999999" opacity="0.22" filter="url(#b2)"/>
<path d="M259.0,18.0 C250.1,30.0 233.5,49.0 233.5,87.0 C233.5,128.4 239.9,156.0 259.0,156.0 C278.1,156.0 284.5,128.4 284.5,87.0 C284.5,49.0 267.9,30.0 259.0,18.0 Z" fill="none" stroke="#33d633" stroke-width="1.5" opacity="0.7" filter="url(#wob)"/>
<path d="M259.0,18.0 C250.1,30.0 233.5,49.0 233.5,87.0 C233.5,128.4 239.9,156.0 259.0,156.0 C278.1,156.0 284.5,128.4 284.5,87.0 C284.5,49.0 267.9,30.0 259.0,18.0 Z" fill="none" stroke="#33d633" stroke-width="0.8999999999999999" opacity="0.5" filter="url(#wob2)"/>
<path d="M302.0,22.0 C293.1,34.0 276.5,52.6 276.5,90.0 C276.5,130.8 282.9,158.0 302.0,158.0 C321.1,158.0 327.5,130.8 327.5,90.0 C327.5,52.6 310.9,34.0 302.0,22.0 Z" fill="none" stroke="#33d633" stroke-width="4.199999999999999" opacity="0.22" filter="url(#b2)"/>
<path d="M302.0,22.0 C293.1,34.0 276.5,52.6 276.5,90.0 C276.5,130.8 282.9,158.0 302.0,158.0 C321.1,158.0 327.5,130.8 327.5,90.0 C327.5,52.6 310.9,34.0 302.0,22.0 Z" fill="none" stroke="#33d633" stroke-width="1.5" opacity="0.7" filter="url(#wob)"/>
<path d="M302.0,22.0 C293.1,34.0 276.5,52.6 276.5,90.0 C276.5,130.8 282.9,158.0 302.0,158.0 C321.1,158.0 327.5,130.8 327.5,90.0 C327.5,52.6 310.9,34.0 302.0,22.0 Z" fill="none" stroke="#33d633" stroke-width="0.8999999999999999" opacity="0.5" filter="url(#wob2)"/>
<path d="M348.0,24.0 C339.2,36.0 323.0,54.6 323.0,92.0 C323.0,132.8 329.2,160.0 348.0,160.0 C366.8,160.0 373.0,132.8 373.0,92.0 C373.0,54.6 356.8,36.0 348.0,24.0 Z" fill="none" stroke="#33d633" stroke-width="4.199999999999999" opacity="0.22" filter="url(#b2)"/>
<path d="M348.0,24.0 C339.2,36.0 323.0,54.6 323.0,92.0 C323.0,132.8 329.2,160.0 348.0,160.0 C366.8,160.0 373.0,132.8 373.0,92.0 C373.0,54.6 356.8,36.0 348.0,24.0 Z" fill="none" stroke="#33d633" stroke-width="1.5" opacity="0.7" filter="url(#wob)"/>
<path d="M348.0,24.0 C339.2,36.0 323.0,54.6 323.0,92.0 C323.0,132.8 329.2,160.0 348.0,160.0 C366.8,160.0 373.0,132.8 373.0,92.0 C373.0,54.6 356.8,36.0 348.0,24.0 Z" fill="none" stroke="#33d633" stroke-width="0.8999999999999999" opacity="0.5" filter="url(#wob2)"/>
<path d="M395.0,22.0 C385.9,34.0 369.0,53.0 369.0,91.0 C369.0,132.4 375.5,160.0 395.0,160.0 C414.5,160.0 421.0,132.4 421.0,91.0 C421.0,53.0 404.1,34.0 395.0,22.0 Z" fill="none" stroke="#33d633" stroke-width="4.199999999999999" opacity="0.22" filter="url(#b2)"/>
<path d="M395.0,22.0 C385.9,34.0 369.0,53.0 369.0,91.0 C369.0,132.4 375.5,160.0 395.0,160.0 C414.5,160.0 421.0,132.4 421.0,91.0 C421.0,53.0 404.1,34.0 395.0,22.0 Z" fill="none" stroke="#33d633" stroke-width="1.5" opacity="0.7" filter="url(#wob)"/>
<path d="M395.0,22.0 C385.9,34.0 369.0,53.0 369.0,91.0 C369.0,132.4 375.5,160.0 395.0,160.0 C414.5,160.0 421.0,132.4 421.0,91.0 C421.0,53.0 404.1,34.0 395.0,22.0 Z" fill="none" stroke="#33d633" stroke-width="0.8999999999999999" opacity="0.5" filter="url(#wob2)"/>
<path d="M442.0,20.0 C432.9,32.0 416.0,51.0 416.0,89.0 C416.0,130.4 422.5,158.0 442.0,158.0 C461.5,158.0 468.0,130.4 468.0,89.0 C468.0,51.0 451.1,32.0 442.0,20.0 Z" fill="none" stroke="#33d633" stroke-width="4.199999999999999" opacity="0.22" filter="url(#b2)"/>
<path d="M442.0,20.0 C432.9,32.0 416.0,51.0 416.0,89.0 C416.0,130.4 422.5,158.0 442.0,158.0 C461.5,158.0 468.0,130.4 468.0,89.0 C468.0,51.0 451.1,32.0 442.0,20.0 Z" fill="none" stroke="#33d633" stroke-width="1.5" opacity="0.7" filter="url(#wob)"/>
<path d="M442.0,20.0 C432.9,32.0 416.0,51.0 416.0,89.0 C416.0,130.4 422.5,158.0 442.0,158.0 C461.5,158.0 468.0,130.4 468.0,89.0 C468.0,51.0 451.1,32.0 442.0,20.0 Z" fill="none" stroke="#33d633" stroke-width="0.8999999999999999" opacity="0.5" filter="url(#wob2)"/>
<path d="M489.0,22.0 C480.6,34.0 465.0,52.1 465.0,89.0 C465.0,129.2 471.0,156.0 489.0,156.0 C507.0,156.0 513.0,129.2 513.0,89.0 C513.0,52.1 497.4,34.0 489.0,22.0 Z" fill="none" stroke="#33d633" stroke-width="4.199999999999999" opacity="0.22" filter="url(#b2)"/>
<path d="M489.0,22.0 C480.6,34.0 465.0,52.1 465.0,89.0 C465.0,129.2 471.0,156.0 489.0,156.0 C507.0,156.0 513.0,129.2 513.0,89.0 C513.0,52.1 497.4,34.0 489.0,22.0 Z" fill="none" stroke="#33d633" stroke-width="1.5" opacity="0.7" filter="url(#wob)"/>
<path d="M489.0,22.0 C480.6,34.0 465.0,52.1 465.0,89.0 C465.0,129.2 471.0,156.0 489.0,156.0 C507.0,156.0 513.0,129.2 513.0,89.0 C513.0,52.1 497.4,34.0 489.0,22.0 Z" fill="none" stroke="#33d633" stroke-width="0.8999999999999999" opacity="0.5" filter="url(#wob2)"/>
<path d="M266,36 Q276,70 287,112 Q284,135 270,150" fill="none" stroke="#33d633" stroke-width="5.720000000000001" opacity="0.2125" filter="url(#b2)"/>
<path d="M266,36 Q276,70 287,112 Q284,135 270,150" fill="none" stroke="#33d633" stroke-width="2.6" opacity="0.85" filter="url(#wob)"/>
<path d="M300,24 Q284,40 280,60" fill="none" stroke="#33d633" stroke-width="3.5200000000000005" opacity="0.15" filter="url(#b2)"/>
<path d="M300,24 Q284,40 280,60" fill="none" stroke="#33d633" stroke-width="1.6" opacity="0.6" filter="url(#wob)"/>
<path d="M311,28 Q322,50 324,80 Q326,100 323,120" fill="none" stroke="#33d633" stroke-width="4.840000000000001" opacity="0.1875" filter="url(#b2)"/>
<path d="M311,28 Q322,50 324,80 Q326,100 323,120" fill="none" stroke="#33d633" stroke-width="2.2" opacity="0.75" filter="url(#wob)"/>
<path d="M372,45 Q376,80 380,121" fill="none" stroke="#33d633" stroke-width="4.840000000000001" opacity="0.175" filter="url(#b2)"/>
<path d="M372,45 Q376,80 380,121" fill="none" stroke="#33d633" stroke-width="2.2" opacity="0.7" filter="url(#wob)"/>
<path d="M418,40 Q414,80 419,125" fill="none" stroke="#33d633" stroke-width="4.4" opacity="0.175" filter="url(#b2)"/>
<path d="M418,40 Q414,80 419,125" fill="none" stroke="#33d633" stroke-width="2.0" opacity="0.7" filter="url(#wob)"/>
<path d="M465,40 Q468,80 466,120" fill="none" stroke="#33d633" stroke-width="4.4" opacity="0.1625" filter="url(#b2)"/>
<path d="M465,40 Q468,80 466,120" fill="none" stroke="#33d633" stroke-width="2.0" opacity="0.65" filter="url(#wob)"/>
<rect x="257.8" y="19.8" width="212.4" height="137.2" fill="url(#fadeB)" opacity="0.45"/>
<circle cx="266.7" cy="109.7" r="1.2" fill="#ff3a14" filter="url(#dotglow)"/>
<circle cx="258.1" cy="136.7" r="1.2" fill="#ff3a14" filter="url(#dotglow)"/>
<circle cx="270.9" cy="113.5" r="1.2" fill="#ff3a14" filter="url(#dotglow)"/>
<circle cx="259.5" cy="144.3" r="1.2" fill="#ff3a14" filter="url(#dotglow)"/>
<circle cx="248.2" cy="130.5" r="1.2" fill="#ff3a14" filter="url(#dotglow)"/>
<circle cx="253.7" cy="90.0" r="1.2" fill="#ff3a14" filter="url(#dotglow)"/>
<circle cx="241.4" cy="134.4" r="1.2" fill="#ff3a14" filter="url(#dotglow)"/>
<circle cx="248.1" cy="143.7" r="1.2" fill="#ff3a14" filter="url(#dotglow)"/>
<circle cx="240.3" cy="114.7" r="1.2" fill="#ff3a14" filter="url(#dotglow)"/>
<circle cx="268.7" cy="151.9" r="1.2" fill="#ff3a14" filter="url(#dotglow)"/>
<circle cx="263.7" cy="147.1" r="1.2" fill="#ff3a14" filter="url(#dotglow)"/>
<circle cx="252.0" cy="96.4" r="1.2" fill="#ff3a14" filter="url(#dotglow)"/>
<circle cx="243.3" cy="130.1" r="1.2" fill="#ff3a14" filter="url(#dotglow)"/>
<circle cx="253.6" cy="150.1" r="1.2" fill="#ff3a14" filter="url(#dotglow)"/>
<circle cx="272.0" cy="108.9" r="1.2" fill="#ff3a14" filter="url(#dotglow)"/>
<circle cx="319.5" cy="106.9" r="1.2" fill="#ff3a14" filter="url(#dotglow)"/>
<circle cx="304.1" cy="129.0" r="1.2" fill="#ff3a14" filter="url(#dotglow)"/>
<circle cx="301.4" cy="122.7" r="1.2" fill="#ff3a14" filter="url(#dotglow)"/>
<circle cx="283.1" cy="112.1" r="1.2" fill="#ff3a14" filter="url(#dotglow)"/>
<circle cx="291.2" cy="148.5" r="1.2" fill="#ff3a14" filter="url(#dotglow)"/>
<circle cx="290.1" cy="144.9" r="1.2" fill="#ff3a14" filter="url(#dotglow)"/>
<circle cx="318.1" cy="152.8" r="1.2" fill="#ff3a14" filter="url(#dotglow)"/>
<circle cx="312.7" cy="143.7" r="1.2" fill="#ff3a14" filter="url(#dotglow)"/>
<circle cx="311.4" cy="135.6" r="1.2" fill="#ff3a14" filter="url(#dotglow)"/>
<circle cx="301.0" cy="106.7" r="1.2" fill="#ff3a14" filter="url(#dotglow)"/>
<circle cx="289.8" cy="146.9" r="1.2" fill="#ff3a14" filter="url(#dotglow)"/>
<circle cx="317.8" cy="150.9" r="1.2" fill="#ff3a14" filter="url(#dotglow)"/>
<circle cx="296.5" cy="126.6" r="1.2" fill="#ff3a14" filter="url(#dotglow)"/>
<circle cx="297.3" cy="128.9" r="1.2" fill="#ff3a14" filter="url(#dotglow)"/>
<circle cx="297.4" cy="153.8" r="1.2" fill="#ff3a14" filter="url(#dotglow)"/>
<circle cx="331.7" cy="95.8" r="1.2" fill="#ff3a14" filter="url(#dotglow)"/>
<circle cx="367.7" cy="143.7" r="1.2" fill="#ff3a14" filter="url(#dotglow)"/>
<circle cx="347.7" cy="132.6" r="1.2" fill="#ff3a14" filter="url(#dotglow)"/>
<circle cx="357.9" cy="135.5" r="1.2" fill="#ff3a14" filter="url(#dotglow)"/>
<circle cx="352.4" cy="115.6" r="1.2" fill="#ff3a14" filter="url(#dotglow)"/>
<circle cx="352.9" cy="135.8" r="1.2" fill="#ff3a14" filter="url(#dotglow)"/>
<circle cx="334.8" cy="112.4" r="1.2" fill="#ff3a14" filter="url(#dotglow)"/>
<circle cx="365.1" cy="124.1" r="1.2" fill="#ff3a14" filter="url(#dotglow)"/>
<circle cx="351.9" cy="124.0" r="1.2" fill="#ff3a14" filter="url(#dotglow)"/>
<circle cx="332.1" cy="121.5" r="1.2" fill="#ff3a14" filter="url(#dotglow)"/>
<circle cx="360.5" cy="101.3" r="1.2" fill="#ff3a14" filter="url(#dotglow)"/>
<circle cx="343.0" cy="146.4" r="1.2" fill="#ff3a14" filter="url(#dotglow)"/>
<circle cx="355.0" cy="142.1" r="1.2" fill="#ff3a14" filter="url(#dotglow)"/>
<circle cx="366.3" cy="151.8" r="1.2" fill="#ff3a14" filter="url(#dotglow)"/>
<circle cx="367.6" cy="127.7" r="1.2" fill="#ff3a14" filter="url(#dotglow)"/>
<circle cx="398.8" cy="154.4" r="1.2" fill="#ff3a14" filter="url(#dotglow)"/>
<circle cx="394.6" cy="151.1" r="1.2" fill="#ff3a14" filter="url(#dotglow)"/>
<circle cx="384.5" cy="125.8" r="1.2" fill="#ff3a14" filter="url(#dotglow)"/>
<circle cx="381.0" cy="150.8" r="1.2" fill="#ff3a14" filter="url(#dotglow)"/>
<circle cx="407.7" cy="101.7" r="1.2" fill="#ff3a14" filter="url(#dotglow)"/>
<circle cx="394.3" cy="146.3" r="1.2" fill="#ff3a14" filter="url(#dotglow)"/>
<circle cx="376.4" cy="149.1" r="1.2" fill="#ff3a14" filter="url(#dotglow)"/>
<circle cx="386.3" cy="118.2" r="1.2" fill="#ff3a14" filter="url(#dotglow)"/>
<circle cx="381.3" cy="128.4" r="1.2" fill="#ff3a14" filter="url(#dotglow)"/>
<circle cx="388.3" cy="101.7" r="1.2" fill="#ff3a14" filter="url(#dotglow)"/>
<circle cx="415.1" cy="151.8" r="1.2" fill="#ff3a14" filter="url(#dotglow)"/>
<circle cx="394.1" cy="145.0" r="1.2" fill="#ff3a14" filter="url(#dotglow)"/>
<circle cx="414.1" cy="117.8" r="1.2" fill="#ff3a14" filter="url(#dotglow)"/>
<circle cx="404.5" cy="134.2" r="1.2" fill="#ff3a14" filter="url(#dotglow)"/>
<circle cx="383.0" cy="96.0" r="1.2" fill="#ff3a14" filter="url(#dotglow)"/>
<circle cx="454.3" cy="147.4" r="1.2" fill="#ff3a14" filter="url(#dotglow)"/>
<circle cx="446.2" cy="149.2" r="1.2" fill="#ff3a14" filter="url(#dotglow)"/>
<circle cx="445.4" cy="127.6" r="1.2" fill="#ff3a14" filter="url(#dotglow)"/>
<circle cx="434.0" cy="147.8" r="1.2" fill="#ff3a14" filter="url(#dotglow)"/>
<circle cx="432.7" cy="133.3" r="1.2" fill="#ff3a14" filter="url(#dotglow)"/>
<circle cx="421.6" cy="144.3" r="1.2" fill="#ff3a14" filter="url(#dotglow)"/>
<circle cx="460.9" cy="140.6" r="1.2" fill="#ff3a14" filter="url(#dotglow)"/>
<circle cx="445.9" cy="95.0" r="1.2" fill="#ff3a14" filter="url(#dotglow)"/>
<circle cx="456.6" cy="138.7" r="1.2" fill="#ff3a14" filter="url(#dotglow)"/>
<circle cx="431.9" cy="135.8" r="1.2" fill="#ff3a14" filter="url(#dotglow)"/>
<circle cx="461.1" cy="126.4" r="1.2" fill="#ff3a14" filter="url(#dotglow)"/>
<circle cx="426.8" cy="150.2" r="1.2" fill="#ff3a14" filter="url(#dotglow)"/>
<circle cx="425.1" cy="104.1" r="1.2" fill="#ff3a14" filter="url(#dotglow)"/>
<circle cx="439.8" cy="95.3" r="1.2" fill="#ff3a14" filter="url(#dotglow)"/>
<circle cx="457.3" cy="108.4" r="1.2" fill="#ff3a14" filter="url(#dotglow)"/>
<circle cx="474.7" cy="137.7" r="1.2" fill="#ff3a14" filter="url(#dotglow)"/>
<circle cx="482.3" cy="132.2" r="1.2" fill="#ff3a14" filter="url(#dotglow)"/>
<circle cx="478.2" cy="129.9" r="1.2" fill="#ff3a14" filter="url(#dotglow)"/>
<circle cx="476.9" cy="109.8" r="1.2" fill="#ff3a14" filter="url(#dotglow)"/>
<circle cx="497.1" cy="123.7" r="1.2" fill="#ff3a14" filter="url(#dotglow)"/>
<circle cx="471.6" cy="132.7" r="1.2" fill="#ff3a14" filter="url(#dotglow)"/>
<circle cx="503.4" cy="140.2" r="1.2" fill="#ff3a14" filter="url(#dotglow)"/>
<circle cx="500.2" cy="142.9" r="1.2" fill="#ff3a14" filter="url(#dotglow)"/>
<circle cx="487.6" cy="91.5" r="1.2" fill="#ff3a14" filter="url(#dotglow)"/>
<circle cx="499.1" cy="100.2" r="1.2" fill="#ff3a14" filter="url(#dotglow)"/>
<circle cx="497.1" cy="110.5" r="1.2" fill="#ff3a14" filter="url(#dotglow)"/>
<circle cx="496.6" cy="116.1" r="1.2" fill="#ff3a14" filter="url(#dotglow)"/>
<circle cx="471.4" cy="119.9" r="1.2" fill="#ff3a14" filter="url(#dotglow)"/>
<circle cx="481.7" cy="124.3" r="1.2" fill="#ff3a14" filter="url(#dotglow)"/>
<circle cx="481.1" cy="148.1" r="1.2" fill="#ff3a14" filter="url(#dotglow)"/>
<circle cx="301.7" cy="86.8" r="1.2" fill="#ff3a14" filter="url(#dotglow)"/>
<circle cx="395.0" cy="67.5" r="1.2" fill="#ff3a14" filter="url(#dotglow)"/>
<circle cx="446.0" cy="81.5" r="1.2" fill="#ff3a14" filter="url(#dotglow)"/>
<circle cx="462.0" cy="97.0" r="1.2" fill="#ff3a14" filter="url(#dotglow)"/>
<circle cx="440.0" cy="111.0" r="1.2" fill="#ff3a14" filter="url(#dotglow)"/>
<circle cx="309.0" cy="99.4" r="1.2" fill="#ff3a14" filter="url(#dotglow)"/>
</g>
<text x="47" y="33.2" font-size="10.6" fill="#2e9a3e">PMCA1<tspan fill="#ffffff">/</tspan><tspan fill="#d42020">CtBP2</tspan></text>
<text x="157.1" y="33.2" font-size="10.4" text-anchor="start" fill="#fff" >Low frequency</text>
<text x="261.8" y="32.8" font-size="10.6" fill="#2e9a3e">PMCA1<tspan fill="#ffffff">/</tspan><tspan fill="#d42020">CtBP2</tspan></text>
<text x="369.2" y="32.8" font-size="10.6" text-anchor="start" fill="#fff" >High frequency</text>
<text x="214.1" y="151.8" font-size="9.4" text-anchor="middle" fill="#fff" >5 µm</text>
<line x1="201.00" y1="154.20" x2="227.00" y2="154.20" stroke="#fff" stroke-width="1.8" />
<text x="450.4" y="150.0" font-size="9.4" text-anchor="middle" fill="#fff" >5 µm</text>
<line x1="437.50" y1="152.30" x2="464.10" y2="152.30" stroke="#fff" stroke-width="1.8" />
<line x1="472.30" y1="19.00" x2="472.30" y2="155.00" stroke="#d8d8d8" stroke-width="0.8" />
<text x="593.5" y="23.3" font-size="10.3" text-anchor="middle" fill="#111" >PMCA1</text>
<text x="484.4" y="90.4" font-size="10.4" text-anchor="middle" fill="#111" transform="rotate(-90 484.4 90.4)" >Fluorescence intensity ratio</text>
<text x="496.2" y="81.4" font-size="10.4" text-anchor="middle" fill="#111" transform="rotate(-90 496.2 81.4)" >(PMCA/CtBP2)</text>
<circle cx="556.19" cy="78.18" r="1.15" fill="#2f7ec1" stroke="none" stroke-width="1" />
<circle cx="556.27" cy="84.75" r="1.15" fill="#2f7ec1" stroke="none" stroke-width="1" />
<circle cx="559.09" cy="107.80" r="1.15" fill="#2f7ec1" stroke="none" stroke-width="1" />
<circle cx="549.40" cy="101.49" r="1.15" fill="#2f7ec1" stroke="none" stroke-width="1" />
<circle cx="546.05" cy="90.71" r="1.15" fill="#2f7ec1" stroke="none" stroke-width="1" />
<circle cx="540.47" cy="104.47" r="1.15" fill="#2f7ec1" stroke="none" stroke-width="1" />
<circle cx="550.53" cy="116.13" r="1.15" fill="#2f7ec1" stroke="none" stroke-width="1" />
<circle cx="544.55" cy="110.12" r="1.15" fill="#2f7ec1" stroke="none" stroke-width="1" />
<circle cx="556.91" cy="120.85" r="1.15" fill="#2f7ec1" stroke="none" stroke-width="1" />
<circle cx="546.91" cy="107.48" r="1.15" fill="#2f7ec1" stroke="none" stroke-width="1" />
<circle cx="565.19" cy="108.59" r="1.15" fill="#2f7ec1" stroke="none" stroke-width="1" />
<circle cx="557.94" cy="119.45" r="1.15" fill="#2f7ec1" stroke="none" stroke-width="1" />
<circle cx="560.21" cy="100.13" r="1.15" fill="#2f7ec1" stroke="none" stroke-width="1" />
<circle cx="563.03" cy="114.83" r="1.15" fill="#2f7ec1" stroke="none" stroke-width="1" />
<circle cx="555.80" cy="124.39" r="1.15" fill="#2f7ec1" stroke="none" stroke-width="1" />
<circle cx="554.60" cy="125.47" r="1.15" fill="#2f7ec1" stroke="none" stroke-width="1" />
<circle cx="552.92" cy="82.06" r="1.15" fill="#2f7ec1" stroke="none" stroke-width="1" />
<circle cx="547.07" cy="89.21" r="1.15" fill="#2f7ec1" stroke="none" stroke-width="1" />
<circle cx="566.39" cy="108.48" r="1.15" fill="#2f7ec1" stroke="none" stroke-width="1" />
<circle cx="555.50" cy="94.84" r="1.15" fill="#2f7ec1" stroke="none" stroke-width="1" />
<circle cx="540.89" cy="107.37" r="1.15" fill="#2f7ec1" stroke="none" stroke-width="1" />
<circle cx="569.91" cy="112.15" r="1.15" fill="#2f7ec1" stroke="none" stroke-width="1" />
<circle cx="558.13" cy="104.68" r="1.15" fill="#2f7ec1" stroke="none" stroke-width="1" />
<circle cx="557.30" cy="82.88" r="1.15" fill="#2f7ec1" stroke="none" stroke-width="1" />
<circle cx="553.71" cy="117.29" r="1.15" fill="#2f7ec1" stroke="none" stroke-width="1" />
<circle cx="550.56" cy="124.86" r="1.15" fill="#2f7ec1" stroke="none" stroke-width="1" />
<circle cx="560.62" cy="126.63" r="1.15" fill="#2f7ec1" stroke="none" stroke-width="1" />
<circle cx="543.94" cy="111.20" r="1.15" fill="#2f7ec1" stroke="none" stroke-width="1" />
<circle cx="553.60" cy="124.20" r="1.15" fill="#2f7ec1" stroke="none" stroke-width="1" />
<circle cx="571.81" cy="113.59" r="1.15" fill="#2f7ec1" stroke="none" stroke-width="1" />
<circle cx="542.99" cy="112.91" r="1.15" fill="#2f7ec1" stroke="none" stroke-width="1" />
<circle cx="555.49" cy="117.70" r="1.15" fill="#2f7ec1" stroke="none" stroke-width="1" />
<circle cx="554.92" cy="98.10" r="1.15" fill="#2f7ec1" stroke="none" stroke-width="1" />
<circle cx="552.90" cy="126.61" r="1.15" fill="#2f7ec1" stroke="none" stroke-width="1" />
<circle cx="563.11" cy="85.80" r="1.15" fill="#2f7ec1" stroke="none" stroke-width="1" />
<circle cx="553.02" cy="98.97" r="1.15" fill="#2f7ec1" stroke="none" stroke-width="1" />
<circle cx="553.49" cy="66.45" r="1.15" fill="#2f7ec1" stroke="none" stroke-width="1" />
<circle cx="554.54" cy="107.16" r="1.15" fill="#2f7ec1" stroke="none" stroke-width="1" />
<circle cx="537.66" cy="106.94" r="1.15" fill="#2f7ec1" stroke="none" stroke-width="1" />
<circle cx="562.12" cy="115.17" r="1.15" fill="#2f7ec1" stroke="none" stroke-width="1" />
<circle cx="561.02" cy="123.73" r="1.15" fill="#2f7ec1" stroke="none" stroke-width="1" />
<circle cx="569.40" cy="105.84" r="1.15" fill="#2f7ec1" stroke="none" stroke-width="1" />
<circle cx="542.77" cy="97.76" r="1.15" fill="#2f7ec1" stroke="none" stroke-width="1" />
<circle cx="561.62" cy="106.21" r="1.15" fill="#2f7ec1" stroke="none" stroke-width="1" />
<circle cx="552.08" cy="85.32" r="1.15" fill="#2f7ec1" stroke="none" stroke-width="1" />
<circle cx="554.49" cy="109.28" r="1.15" fill="#2f7ec1" stroke="none" stroke-width="1" />
<circle cx="550.65" cy="94.79" r="1.15" fill="#2f7ec1" stroke="none" stroke-width="1" />
<circle cx="555.24" cy="40.88" r="1.15" fill="#2f7ec1" stroke="none" stroke-width="1" />
<circle cx="543.02" cy="111.96" r="1.15" fill="#2f7ec1" stroke="none" stroke-width="1" />
<circle cx="559.13" cy="99.09" r="1.15" fill="#2f7ec1" stroke="none" stroke-width="1" />
<circle cx="543.27" cy="116.95" r="1.15" fill="#2f7ec1" stroke="none" stroke-width="1" />
<circle cx="571.79" cy="110.97" r="1.15" fill="#2f7ec1" stroke="none" stroke-width="1" />
<circle cx="539.02" cy="110.06" r="1.15" fill="#2f7ec1" stroke="none" stroke-width="1" />
<circle cx="565.16" cy="91.99" r="1.15" fill="#2f7ec1" stroke="none" stroke-width="1" />
<circle cx="549.63" cy="88.20" r="1.15" fill="#2f7ec1" stroke="none" stroke-width="1" />
<circle cx="540.76" cy="106.50" r="1.15" fill="#2f7ec1" stroke="none" stroke-width="1" />
<circle cx="563.37" cy="104.69" r="1.15" fill="#2f7ec1" stroke="none" stroke-width="1" />
<circle cx="556.14" cy="91.99" r="1.15" fill="#2f7ec1" stroke="none" stroke-width="1" />
<circle cx="563.30" cy="101.22" r="1.15" fill="#2f7ec1" stroke="none" stroke-width="1" />
<circle cx="555.81" cy="107.77" r="1.15" fill="#2f7ec1" stroke="none" stroke-width="1" />
<circle cx="559.71" cy="114.38" r="1.15" fill="#2f7ec1" stroke="none" stroke-width="1" />
<circle cx="542.15" cy="114.79" r="1.15" fill="#2f7ec1" stroke="none" stroke-width="1" />
<circle cx="558.85" cy="121.38" r="1.15" fill="#2f7ec1" stroke="none" stroke-width="1" />
<circle cx="555.87" cy="103.24" r="1.15" fill="#2f7ec1" stroke="none" stroke-width="1" />
<circle cx="560.72" cy="126.04" r="1.15" fill="#2f7ec1" stroke="none" stroke-width="1" />
<circle cx="548.89" cy="82.00" r="1.15" fill="#2f7ec1" stroke="none" stroke-width="1" />
<circle cx="540.20" cy="110.68" r="1.15" fill="#2f7ec1" stroke="none" stroke-width="1" />
<circle cx="559.22" cy="92.31" r="1.15" fill="#2f7ec1" stroke="none" stroke-width="1" />
<circle cx="562.79" cy="84.90" r="1.15" fill="#2f7ec1" stroke="none" stroke-width="1" />
<circle cx="554.07" cy="86.35" r="1.15" fill="#2f7ec1" stroke="none" stroke-width="1" />
<circle cx="563.20" cy="107.38" r="1.15" fill="#2f7ec1" stroke="none" stroke-width="1" />
<circle cx="557.50" cy="113.10" r="1.15" fill="#2f7ec1" stroke="none" stroke-width="1" />
<circle cx="553.21" cy="92.18" r="1.15" fill="#2f7ec1" stroke="none" stroke-width="1" />
<circle cx="554.36" cy="113.20" r="1.15" fill="#2f7ec1" stroke="none" stroke-width="1" />
<circle cx="557.23" cy="84.87" r="1.15" fill="#2f7ec1" stroke="none" stroke-width="1" />
<circle cx="538.51" cy="110.13" r="1.15" fill="#2f7ec1" stroke="none" stroke-width="1" />
<circle cx="551.77" cy="88.94" r="1.15" fill="#2f7ec1" stroke="none" stroke-width="1" />
<circle cx="562.96" cy="115.69" r="1.15" fill="#2f7ec1" stroke="none" stroke-width="1" />
<circle cx="546.92" cy="110.64" r="1.15" fill="#2f7ec1" stroke="none" stroke-width="1" />
<circle cx="555.24" cy="78.46" r="1.15" fill="#2f7ec1" stroke="none" stroke-width="1" />
<circle cx="547.54" cy="113.52" r="1.15" fill="#2f7ec1" stroke="none" stroke-width="1" />
<circle cx="551.92" cy="95.34" r="1.15" fill="#2f7ec1" stroke="none" stroke-width="1" />
<circle cx="560.65" cy="105.80" r="1.15" fill="#2f7ec1" stroke="none" stroke-width="1" />
<circle cx="559.47" cy="122.91" r="1.15" fill="#2f7ec1" stroke="none" stroke-width="1" />
<circle cx="564.53" cy="90.51" r="1.15" fill="#2f7ec1" stroke="none" stroke-width="1" />
<circle cx="554.95" cy="119.50" r="1.15" fill="#2f7ec1" stroke="none" stroke-width="1" />
<circle cx="546.03" cy="115.01" r="1.15" fill="#2f7ec1" stroke="none" stroke-width="1" />
<circle cx="551.87" cy="93.31" r="1.15" fill="#2f7ec1" stroke="none" stroke-width="1" />
<circle cx="541.17" cy="113.96" r="1.15" fill="#2f7ec1" stroke="none" stroke-width="1" />
<circle cx="550.56" cy="87.97" r="1.15" fill="#2f7ec1" stroke="none" stroke-width="1" />
<circle cx="557.64" cy="95.45" r="1.15" fill="#2f7ec1" stroke="none" stroke-width="1" />
<circle cx="559.60" cy="108.03" r="1.15" fill="#2f7ec1" stroke="none" stroke-width="1" />
<circle cx="547.83" cy="102.90" r="1.15" fill="#2f7ec1" stroke="none" stroke-width="1" />
<circle cx="551.07" cy="124.40" r="1.15" fill="#2f7ec1" stroke="none" stroke-width="1" />
<circle cx="548.58" cy="85.00" r="1.15" fill="#2f7ec1" stroke="none" stroke-width="1" />
<circle cx="543.61" cy="108.48" r="1.15" fill="#2f7ec1" stroke="none" stroke-width="1" />
<circle cx="555.52" cy="123.68" r="1.15" fill="#2f7ec1" stroke="none" stroke-width="1" />
<circle cx="548.13" cy="116.72" r="1.15" fill="#2f7ec1" stroke="none" stroke-width="1" />
<circle cx="562.69" cy="87.24" r="1.15" fill="#2f7ec1" stroke="none" stroke-width="1" />
<circle cx="557.33" cy="97.77" r="1.15" fill="#2f7ec1" stroke="none" stroke-width="1" />
<circle cx="549.73" cy="110.08" r="1.15" fill="#2f7ec1" stroke="none" stroke-width="1" />
<circle cx="552.95" cy="108.08" r="1.15" fill="#2f7ec1" stroke="none" stroke-width="1" />
<circle cx="540.88" cy="115.14" r="1.15" fill="#2f7ec1" stroke="none" stroke-width="1" />
<circle cx="562.67" cy="116.20" r="1.15" fill="#2f7ec1" stroke="none" stroke-width="1" />
<circle cx="563.64" cy="114.05" r="1.15" fill="#2f7ec1" stroke="none" stroke-width="1" />
<circle cx="551.53" cy="101.83" r="1.15" fill="#2f7ec1" stroke="none" stroke-width="1" />
<circle cx="559.95" cy="90.39" r="1.15" fill="#2f7ec1" stroke="none" stroke-width="1" />
<circle cx="548.68" cy="116.80" r="1.15" fill="#2f7ec1" stroke="none" stroke-width="1" />
<circle cx="552.66" cy="78.98" r="1.15" fill="#2f7ec1" stroke="none" stroke-width="1" />
<circle cx="546.28" cy="112.00" r="1.15" fill="#2f7ec1" stroke="none" stroke-width="1" />
<circle cx="554.36" cy="54.51" r="1.15" fill="#2f7ec1" stroke="none" stroke-width="1" />
<circle cx="558.57" cy="99.94" r="1.15" fill="#2f7ec1" stroke="none" stroke-width="1" />
<circle cx="558.95" cy="94.75" r="1.15" fill="#2f7ec1" stroke="none" stroke-width="1" />
<circle cx="563.82" cy="109.61" r="1.15" fill="#2f7ec1" stroke="none" stroke-width="1" />
<circle cx="553.23" cy="69.22" r="1.15" fill="#2f7ec1" stroke="none" stroke-width="1" />
<circle cx="564.00" cy="114.92" r="1.15" fill="#2f7ec1" stroke="none" stroke-width="1" />
<circle cx="554.76" cy="105.65" r="1.15" fill="#2f7ec1" stroke="none" stroke-width="1" />
<circle cx="552.85" cy="120.31" r="1.15" fill="#2f7ec1" stroke="none" stroke-width="1" />
<circle cx="555.59" cy="100.00" r="1.15" fill="#2f7ec1" stroke="none" stroke-width="1" />
<circle cx="554.81" cy="79.09" r="1.15" fill="#2f7ec1" stroke="none" stroke-width="1" />
<circle cx="548.18" cy="94.86" r="1.15" fill="#2f7ec1" stroke="none" stroke-width="1" />
<circle cx="552.09" cy="104.90" r="1.15" fill="#2f7ec1" stroke="none" stroke-width="1" />
<circle cx="559.74" cy="101.18" r="1.15" fill="#2f7ec1" stroke="none" stroke-width="1" />
<circle cx="561.74" cy="99.66" r="1.15" fill="#2f7ec1" stroke="none" stroke-width="1" />
<circle cx="570.86" cy="108.46" r="1.15" fill="#2f7ec1" stroke="none" stroke-width="1" />
<circle cx="548.73" cy="93.23" r="1.15" fill="#2f7ec1" stroke="none" stroke-width="1" />
<circle cx="563.05" cy="89.27" r="1.15" fill="#2f7ec1" stroke="none" stroke-width="1" />
<circle cx="558.98" cy="80.55" r="1.15" fill="#2f7ec1" stroke="none" stroke-width="1" />
<circle cx="563.03" cy="110.77" r="1.15" fill="#2f7ec1" stroke="none" stroke-width="1" />
<circle cx="564.65" cy="88.46" r="1.15" fill="#2f7ec1" stroke="none" stroke-width="1" />
<circle cx="548.74" cy="87.08" r="1.15" fill="#2f7ec1" stroke="none" stroke-width="1" />
<circle cx="564.09" cy="115.96" r="1.15" fill="#2f7ec1" stroke="none" stroke-width="1" />
<circle cx="567.03" cy="99.02" r="1.15" fill="#2f7ec1" stroke="none" stroke-width="1" />
<circle cx="548.92" cy="85.20" r="1.15" fill="#2f7ec1" stroke="none" stroke-width="1" />
<circle cx="558.44" cy="115.97" r="1.15" fill="#2f7ec1" stroke="none" stroke-width="1" />
<circle cx="566.35" cy="119.36" r="1.15" fill="#2f7ec1" stroke="none" stroke-width="1" />
<circle cx="549.78" cy="97.21" r="1.15" fill="#2f7ec1" stroke="none" stroke-width="1" />
<circle cx="566.23" cy="103.42" r="1.15" fill="#2f7ec1" stroke="none" stroke-width="1" />
<circle cx="563.54" cy="90.55" r="1.15" fill="#2f7ec1" stroke="none" stroke-width="1" />
<circle cx="553.62" cy="101.07" r="1.15" fill="#2f7ec1" stroke="none" stroke-width="1" />
<circle cx="542.39" cy="108.91" r="1.15" fill="#2f7ec1" stroke="none" stroke-width="1" />
<circle cx="548.00" cy="96.19" r="1.15" fill="#2f7ec1" stroke="none" stroke-width="1" />
<circle cx="561.53" cy="86.36" r="1.15" fill="#2f7ec1" stroke="none" stroke-width="1" />
<circle cx="552.64" cy="109.33" r="1.15" fill="#2f7ec1" stroke="none" stroke-width="1" />
<circle cx="550.03" cy="116.97" r="1.15" fill="#2f7ec1" stroke="none" stroke-width="1" />
<circle cx="554.76" cy="81.75" r="1.15" fill="#2f7ec1" stroke="none" stroke-width="1" />
<circle cx="559.36" cy="77.36" r="1.15" fill="#2f7ec1" stroke="none" stroke-width="1" />
<circle cx="551.47" cy="122.85" r="1.15" fill="#2f7ec1" stroke="none" stroke-width="1" />
<circle cx="544.91" cy="120.24" r="1.15" fill="#2f7ec1" stroke="none" stroke-width="1" />
<circle cx="566.84" cy="118.99" r="1.15" fill="#2f7ec1" stroke="none" stroke-width="1" />
<circle cx="551.97" cy="89.10" r="1.15" fill="#2f7ec1" stroke="none" stroke-width="1" />
<circle cx="551.99" cy="103.74" r="1.15" fill="#2f7ec1" stroke="none" stroke-width="1" />
<circle cx="573.11" cy="108.29" r="1.15" fill="#2f7ec1" stroke="none" stroke-width="1" />
<circle cx="549.18" cy="99.94" r="1.15" fill="#2f7ec1" stroke="none" stroke-width="1" />
<circle cx="540.51" cy="110.00" r="1.15" fill="#2f7ec1" stroke="none" stroke-width="1" />
<circle cx="566.72" cy="99.37" r="1.15" fill="#2f7ec1" stroke="none" stroke-width="1" />
<circle cx="553.39" cy="75.96" r="1.15" fill="#2f7ec1" stroke="none" stroke-width="1" />
<circle cx="550.61" cy="122.19" r="1.15" fill="#2f7ec1" stroke="none" stroke-width="1" />
<circle cx="571.54" cy="109.47" r="1.15" fill="#2f7ec1" stroke="none" stroke-width="1" />
<circle cx="545.54" cy="107.76" r="1.15" fill="#2f7ec1" stroke="none" stroke-width="1" />
<circle cx="566.43" cy="118.18" r="1.15" fill="#2f7ec1" stroke="none" stroke-width="1" />
<circle cx="549.54" cy="110.44" r="1.15" fill="#2f7ec1" stroke="none" stroke-width="1" />
<circle cx="553.35" cy="126.24" r="1.15" fill="#2f7ec1" stroke="none" stroke-width="1" />
<circle cx="547.36" cy="98.49" r="1.15" fill="#2f7ec1" stroke="none" stroke-width="1" />
<circle cx="556.88" cy="113.62" r="1.15" fill="#2f7ec1" stroke="none" stroke-width="1" />
<circle cx="556.80" cy="92.82" r="1.15" fill="#2f7ec1" stroke="none" stroke-width="1" />
<circle cx="554.72" cy="74.46" r="1.15" fill="#2f7ec1" stroke="none" stroke-width="1" />
<circle cx="555.73" cy="116.39" r="1.15" fill="#2f7ec1" stroke="none" stroke-width="1" />
<circle cx="551.52" cy="90.41" r="1.15" fill="#2f7ec1" stroke="none" stroke-width="1" />
<circle cx="561.93" cy="88.27" r="1.15" fill="#2f7ec1" stroke="none" stroke-width="1" />
<circle cx="565.34" cy="93.63" r="1.15" fill="#2f7ec1" stroke="none" stroke-width="1" />
<circle cx="564.48" cy="106.57" r="1.15" fill="#2f7ec1" stroke="none" stroke-width="1" />
<circle cx="566.35" cy="111.99" r="1.15" fill="#2f7ec1" stroke="none" stroke-width="1" />
<circle cx="547.15" cy="121.29" r="1.15" fill="#2f7ec1" stroke="none" stroke-width="1" />
<circle cx="548.13" cy="117.08" r="1.15" fill="#2f7ec1" stroke="none" stroke-width="1" />
<circle cx="546.89" cy="101.67" r="1.15" fill="#2f7ec1" stroke="none" stroke-width="1" />
<circle cx="542.74" cy="108.88" r="1.15" fill="#2f7ec1" stroke="none" stroke-width="1" />
<circle cx="563.95" cy="85.97" r="1.15" fill="#2f7ec1" stroke="none" stroke-width="1" />
<circle cx="569.20" cy="112.14" r="1.15" fill="#2f7ec1" stroke="none" stroke-width="1" />
<circle cx="565.24" cy="94.24" r="1.15" fill="#2f7ec1" stroke="none" stroke-width="1" />
<circle cx="556.65" cy="90.78" r="1.15" fill="#2f7ec1" stroke="none" stroke-width="1" />
<circle cx="551.92" cy="77.90" r="1.15" fill="#2f7ec1" stroke="none" stroke-width="1" />
<circle cx="553.98" cy="92.02" r="1.15" fill="#2f7ec1" stroke="none" stroke-width="1" />
<circle cx="550.54" cy="126.10" r="1.15" fill="#2f7ec1" stroke="none" stroke-width="1" />
<circle cx="558.18" cy="71.07" r="1.15" fill="#2f7ec1" stroke="none" stroke-width="1" />
<circle cx="551.69" cy="84.15" r="1.15" fill="#2f7ec1" stroke="none" stroke-width="1" />
<circle cx="547.76" cy="109.63" r="1.15" fill="#2f7ec1" stroke="none" stroke-width="1" />
<circle cx="568.43" cy="100.58" r="1.15" fill="#2f7ec1" stroke="none" stroke-width="1" />
<circle cx="546.77" cy="102.00" r="1.15" fill="#2f7ec1" stroke="none" stroke-width="1" />
<circle cx="563.56" cy="88.40" r="1.15" fill="#2f7ec1" stroke="none" stroke-width="1" />
<circle cx="554.39" cy="69.46" r="1.15" fill="#2f7ec1" stroke="none" stroke-width="1" />
<circle cx="555.71" cy="36.81" r="1.15" fill="#2f7ec1" stroke="none" stroke-width="1" />
<circle cx="544.09" cy="101.23" r="1.15" fill="#2f7ec1" stroke="none" stroke-width="1" />
<circle cx="566.68" cy="97.65" r="1.15" fill="#2f7ec1" stroke="none" stroke-width="1" />
<circle cx="552.65" cy="117.81" r="1.15" fill="#2f7ec1" stroke="none" stroke-width="1" />
<circle cx="551.01" cy="100.99" r="1.15" fill="#2f7ec1" stroke="none" stroke-width="1" />
<circle cx="560.49" cy="114.26" r="1.15" fill="#2f7ec1" stroke="none" stroke-width="1" />
<circle cx="556.36" cy="127.23" r="1.15" fill="#2f7ec1" stroke="none" stroke-width="1" />
<circle cx="548.26" cy="101.66" r="1.15" fill="#2f7ec1" stroke="none" stroke-width="1" />
<circle cx="553.52" cy="68.47" r="1.15" fill="#2f7ec1" stroke="none" stroke-width="1" />
<circle cx="556.38" cy="125.79" r="1.15" fill="#2f7ec1" stroke="none" stroke-width="1" />
<circle cx="539.37" cy="111.99" r="1.15" fill="#2f7ec1" stroke="none" stroke-width="1" />
<circle cx="562.94" cy="90.94" r="1.15" fill="#2f7ec1" stroke="none" stroke-width="1" />
<circle cx="554.38" cy="72.76" r="1.15" fill="#2f7ec1" stroke="none" stroke-width="1" />
<circle cx="549.59" cy="122.03" r="1.15" fill="#2f7ec1" stroke="none" stroke-width="1" />
<circle cx="554.89" cy="54.06" r="1.15" fill="#2f7ec1" stroke="none" stroke-width="1" />
<circle cx="548.73" cy="85.35" r="1.15" fill="#2f7ec1" stroke="none" stroke-width="1" />
<circle cx="548.85" cy="109.89" r="1.15" fill="#2f7ec1" stroke="none" stroke-width="1" />
<circle cx="556.17" cy="83.55" r="1.15" fill="#2f7ec1" stroke="none" stroke-width="1" />
<circle cx="553.78" cy="86.76" r="1.15" fill="#2f7ec1" stroke="none" stroke-width="1" />
<circle cx="550.08" cy="113.52" r="1.15" fill="#2f7ec1" stroke="none" stroke-width="1" />
<circle cx="549.19" cy="103.39" r="1.15" fill="#2f7ec1" stroke="none" stroke-width="1" />
<circle cx="555.14" cy="96.32" r="1.15" fill="#2f7ec1" stroke="none" stroke-width="1" />
<circle cx="557.99" cy="77.23" r="1.15" fill="#2f7ec1" stroke="none" stroke-width="1" />
<circle cx="553.20" cy="107.99" r="1.15" fill="#2f7ec1" stroke="none" stroke-width="1" />
<circle cx="564.79" cy="106.07" r="1.15" fill="#2f7ec1" stroke="none" stroke-width="1" />
<circle cx="555.38" cy="72.17" r="1.15" fill="#2f7ec1" stroke="none" stroke-width="1" />
<circle cx="552.49" cy="75.22" r="1.15" fill="#2f7ec1" stroke="none" stroke-width="1" />
<circle cx="543.41" cy="107.57" r="1.15" fill="#2f7ec1" stroke="none" stroke-width="1" />
<circle cx="568.34" cy="108.97" r="1.15" fill="#2f7ec1" stroke="none" stroke-width="1" />
<circle cx="555.13" cy="122.04" r="1.15" fill="#2f7ec1" stroke="none" stroke-width="1" />
<circle cx="554.66" cy="72.82" r="1.15" fill="#2f7ec1" stroke="none" stroke-width="1" />
<circle cx="555.83" cy="120.72" r="1.15" fill="#2f7ec1" stroke="none" stroke-width="1" />
<circle cx="556.83" cy="65.78" r="1.15" fill="#2f7ec1" stroke="none" stroke-width="1" />
<circle cx="550.90" cy="109.11" r="1.15" fill="#2f7ec1" stroke="none" stroke-width="1" />
<circle cx="550.80" cy="105.66" r="1.15" fill="#2f7ec1" stroke="none" stroke-width="1" />
<circle cx="551.45" cy="103.44" r="1.15" fill="#2f7ec1" stroke="none" stroke-width="1" />
<circle cx="545.19" cy="120.60" r="1.15" fill="#2f7ec1" stroke="none" stroke-width="1" />
<circle cx="557.15" cy="107.73" r="1.15" fill="#2f7ec1" stroke="none" stroke-width="1" />
<circle cx="554.90" cy="117.53" r="1.15" fill="#2f7ec1" stroke="none" stroke-width="1" />
<circle cx="555.48" cy="57.94" r="1.15" fill="#2f7ec1" stroke="none" stroke-width="1" />
<circle cx="553.75" cy="109.95" r="1.15" fill="#2f7ec1" stroke="none" stroke-width="1" />
<circle cx="554.50" cy="107.35" r="1.15" fill="#2f7ec1" stroke="none" stroke-width="1" />
<circle cx="557.13" cy="74.22" r="1.15" fill="#2f7ec1" stroke="none" stroke-width="1" />
<circle cx="545.25" cy="113.59" r="1.15" fill="#2f7ec1" stroke="none" stroke-width="1" />
<circle cx="570.76" cy="115.23" r="1.15" fill="#2f7ec1" stroke="none" stroke-width="1" />
<circle cx="546.63" cy="93.89" r="1.15" fill="#2f7ec1" stroke="none" stroke-width="1" />
<circle cx="563.17" cy="92.12" r="1.15" fill="#2f7ec1" stroke="none" stroke-width="1" />
<circle cx="547.08" cy="118.72" r="1.15" fill="#2f7ec1" stroke="none" stroke-width="1" />
<circle cx="564.72" cy="115.81" r="1.15" fill="#2f7ec1" stroke="none" stroke-width="1" />
<circle cx="551.36" cy="85.08" r="1.15" fill="#2f7ec1" stroke="none" stroke-width="1" />
<circle cx="540.23" cy="107.09" r="1.15" fill="#2f7ec1" stroke="none" stroke-width="1" />
<circle cx="556.78" cy="104.34" r="1.15" fill="#2f7ec1" stroke="none" stroke-width="1" />
<circle cx="566.12" cy="115.68" r="1.15" fill="#2f7ec1" stroke="none" stroke-width="1" />
<circle cx="561.98" cy="87.35" r="1.15" fill="#2f7ec1" stroke="none" stroke-width="1" />
<circle cx="569.07" cy="110.18" r="1.15" fill="#2f7ec1" stroke="none" stroke-width="1" />
<circle cx="558.36" cy="69.61" r="1.15" fill="#2f7ec1" stroke="none" stroke-width="1" />
<circle cx="544.43" cy="95.09" r="1.15" fill="#2f7ec1" stroke="none" stroke-width="1" />
<circle cx="552.00" cy="99.29" r="1.15" fill="#2f7ec1" stroke="none" stroke-width="1" />
<circle cx="547.99" cy="121.44" r="1.15" fill="#2f7ec1" stroke="none" stroke-width="1" />
<circle cx="561.25" cy="93.52" r="1.15" fill="#2f7ec1" stroke="none" stroke-width="1" />
<circle cx="554.57" cy="88.63" r="1.15" fill="#2f7ec1" stroke="none" stroke-width="1" />
<circle cx="560.43" cy="120.96" r="1.15" fill="#2f7ec1" stroke="none" stroke-width="1" />
<circle cx="566.44" cy="108.42" r="1.15" fill="#2f7ec1" stroke="none" stroke-width="1" />
<circle cx="569.40" cy="97.42" r="1.15" fill="#2f7ec1" stroke="none" stroke-width="1" />
<circle cx="561.94" cy="107.27" r="1.15" fill="#2f7ec1" stroke="none" stroke-width="1" />
<circle cx="562.98" cy="90.81" r="1.15" fill="#2f7ec1" stroke="none" stroke-width="1" />
<circle cx="557.28" cy="107.53" r="1.15" fill="#2f7ec1" stroke="none" stroke-width="1" />
<circle cx="549.55" cy="124.23" r="1.15" fill="#2f7ec1" stroke="none" stroke-width="1" />
<circle cx="569.97" cy="108.42" r="1.15" fill="#2f7ec1" stroke="none" stroke-width="1" />
<circle cx="540.70" cy="110.01" r="1.15" fill="#2f7ec1" stroke="none" stroke-width="1" />
<circle cx="549.84" cy="124.57" r="1.15" fill="#2f7ec1" stroke="none" stroke-width="1" />
<circle cx="566.20" cy="114.10" r="1.15" fill="#2f7ec1" stroke="none" stroke-width="1" />
<circle cx="548.54" cy="115.25" r="1.15" fill="#2f7ec1" stroke="none" stroke-width="1" />
<circle cx="560.54" cy="115.98" r="1.15" fill="#2f7ec1" stroke="none" stroke-width="1" />
<circle cx="541.15" cy="103.60" r="1.15" fill="#2f7ec1" stroke="none" stroke-width="1" />
<circle cx="546.63" cy="116.29" r="1.15" fill="#2f7ec1" stroke="none" stroke-width="1" />
<circle cx="563.11" cy="106.44" r="1.15" fill="#2f7ec1" stroke="none" stroke-width="1" />
<circle cx="550.02" cy="80.78" r="1.15" fill="#2f7ec1" stroke="none" stroke-width="1" />
<circle cx="555.81" cy="99.55" r="1.15" fill="#2f7ec1" stroke="none" stroke-width="1" />
<circle cx="569.45" cy="114.98" r="1.15" fill="#2f7ec1" stroke="none" stroke-width="1" />
<circle cx="546.84" cy="116.57" r="1.15" fill="#2f7ec1" stroke="none" stroke-width="1" />
<circle cx="563.07" cy="108.83" r="1.15" fill="#2f7ec1" stroke="none" stroke-width="1" />
<circle cx="561.30" cy="119.55" r="1.15" fill="#2f7ec1" stroke="none" stroke-width="1" />
<circle cx="558.97" cy="99.14" r="1.15" fill="#2f7ec1" stroke="none" stroke-width="1" />
<circle cx="562.87" cy="97.25" r="1.15" fill="#2f7ec1" stroke="none" stroke-width="1" />
<circle cx="562.31" cy="111.59" r="1.15" fill="#2f7ec1" stroke="none" stroke-width="1" />
<circle cx="553.52" cy="60.89" r="1.15" fill="#2f7ec1" stroke="none" stroke-width="1" />
<circle cx="544.68" cy="110.95" r="1.15" fill="#2f7ec1" stroke="none" stroke-width="1" />
<circle cx="556.58" cy="116.92" r="1.15" fill="#2f7ec1" stroke="none" stroke-width="1" />
<circle cx="570.94" cy="113.27" r="1.15" fill="#2f7ec1" stroke="none" stroke-width="1" />
<circle cx="546.60" cy="115.55" r="1.15" fill="#2f7ec1" stroke="none" stroke-width="1" />
<circle cx="556.58" cy="125.33" r="1.15" fill="#2f7ec1" stroke="none" stroke-width="1" />
<circle cx="543.56" cy="114.55" r="1.15" fill="#2f7ec1" stroke="none" stroke-width="1" />
<circle cx="565.23" cy="117.83" r="1.15" fill="#2f7ec1" stroke="none" stroke-width="1" />
<circle cx="553.91" cy="101.00" r="1.15" fill="#2f7ec1" stroke="none" stroke-width="1" />
<circle cx="556.13" cy="98.80" r="1.15" fill="#2f7ec1" stroke="none" stroke-width="1" />
<circle cx="558.36" cy="84.73" r="1.15" fill="#2f7ec1" stroke="none" stroke-width="1" />
<circle cx="545.51" cy="118.08" r="1.15" fill="#2f7ec1" stroke="none" stroke-width="1" />
<circle cx="560.21" cy="91.75" r="1.15" fill="#2f7ec1" stroke="none" stroke-width="1" />
<circle cx="560.04" cy="83.29" r="1.15" fill="#2f7ec1" stroke="none" stroke-width="1" />
<circle cx="566.43" cy="116.51" r="1.15" fill="#2f7ec1" stroke="none" stroke-width="1" />
<circle cx="554.54" cy="56.23" r="1.15" fill="#2f7ec1" stroke="none" stroke-width="1" />
<circle cx="547.20" cy="115.79" r="1.15" fill="#2f7ec1" stroke="none" stroke-width="1" />
<circle cx="549.24" cy="87.16" r="1.15" fill="#2f7ec1" stroke="none" stroke-width="1" />
<circle cx="570.06" cy="109.71" r="1.15" fill="#2f7ec1" stroke="none" stroke-width="1" />
<circle cx="553.60" cy="103.82" r="1.15" fill="#2f7ec1" stroke="none" stroke-width="1" />
<circle cx="551.69" cy="111.43" r="1.15" fill="#2f7ec1" stroke="none" stroke-width="1" />
<circle cx="556.09" cy="101.38" r="1.15" fill="#2f7ec1" stroke="none" stroke-width="1" />
<circle cx="559.98" cy="93.56" r="1.15" fill="#2f7ec1" stroke="none" stroke-width="1" />
<circle cx="550.31" cy="98.25" r="1.15" fill="#2f7ec1" stroke="none" stroke-width="1" />
<circle cx="550.67" cy="102.70" r="1.15" fill="#2f7ec1" stroke="none" stroke-width="1" />
<circle cx="559.87" cy="84.30" r="1.15" fill="#2f7ec1" stroke="none" stroke-width="1" />
<circle cx="563.68" cy="102.78" r="1.15" fill="#2f7ec1" stroke="none" stroke-width="1" />
<circle cx="549.65" cy="98.55" r="1.15" fill="#2f7ec1" stroke="none" stroke-width="1" />
<circle cx="539.73" cy="108.46" r="1.15" fill="#2f7ec1" stroke="none" stroke-width="1" />
<circle cx="565.38" cy="93.92" r="1.15" fill="#2f7ec1" stroke="none" stroke-width="1" />
<circle cx="561.70" cy="96.65" r="1.15" fill="#2f7ec1" stroke="none" stroke-width="1" />
<circle cx="558.03" cy="96.58" r="1.15" fill="#2f7ec1" stroke="none" stroke-width="1" />
<circle cx="552.70" cy="102.50" r="1.15" fill="#2f7ec1" stroke="none" stroke-width="1" />
<circle cx="570.82" cy="112.58" r="1.15" fill="#2f7ec1" stroke="none" stroke-width="1" />
<circle cx="553.49" cy="100.28" r="1.15" fill="#2f7ec1" stroke="none" stroke-width="1" />
<circle cx="546.35" cy="114.28" r="1.15" fill="#2f7ec1" stroke="none" stroke-width="1" />
<circle cx="543.82" cy="117.24" r="1.15" fill="#2f7ec1" stroke="none" stroke-width="1" />
<circle cx="550.00" cy="108.93" r="1.15" fill="#2f7ec1" stroke="none" stroke-width="1" />
<circle cx="557.45" cy="89.49" r="1.15" fill="#2f7ec1" stroke="none" stroke-width="1" />
<circle cx="552.12" cy="119.09" r="1.15" fill="#2f7ec1" stroke="none" stroke-width="1" />
<circle cx="568.12" cy="97.85" r="1.15" fill="#2f7ec1" stroke="none" stroke-width="1" />
<circle cx="557.04" cy="126.61" r="1.15" fill="#2f7ec1" stroke="none" stroke-width="1" />
<circle cx="554.15" cy="104.71" r="1.15" fill="#2f7ec1" stroke="none" stroke-width="1" />
<circle cx="560.23" cy="102.71" r="1.15" fill="#2f7ec1" stroke="none" stroke-width="1" />
<circle cx="558.45" cy="100.11" r="1.15" fill="#2f7ec1" stroke="none" stroke-width="1" />
<circle cx="558.51" cy="95.67" r="1.15" fill="#2f7ec1" stroke="none" stroke-width="1" />
<circle cx="555.32" cy="109.54" r="1.15" fill="#2f7ec1" stroke="none" stroke-width="1" />
<circle cx="556.32" cy="106.75" r="1.15" fill="#2f7ec1" stroke="none" stroke-width="1" />
<circle cx="555.39" cy="124.95" r="1.15" fill="#2f7ec1" stroke="none" stroke-width="1" />
<circle cx="566.62" cy="105.46" r="1.15" fill="#2f7ec1" stroke="none" stroke-width="1" />
<circle cx="552.76" cy="77.18" r="1.15" fill="#2f7ec1" stroke="none" stroke-width="1" />
<circle cx="565.42" cy="106.11" r="1.15" fill="#2f7ec1" stroke="none" stroke-width="1" />
<circle cx="554.58" cy="58.67" r="1.15" fill="#2f7ec1" stroke="none" stroke-width="1" />
<circle cx="562.85" cy="92.26" r="1.15" fill="#2f7ec1" stroke="none" stroke-width="1" />
<circle cx="551.81" cy="76.72" r="1.15" fill="#2f7ec1" stroke="none" stroke-width="1" />
<circle cx="554.95" cy="107.90" r="1.15" fill="#2f7ec1" stroke="none" stroke-width="1" />
<circle cx="554.44" cy="121.73" r="1.15" fill="#2f7ec1" stroke="none" stroke-width="1" />
<circle cx="561.67" cy="117.26" r="1.15" fill="#2f7ec1" stroke="none" stroke-width="1" />
<circle cx="544.77" cy="110.13" r="1.15" fill="#2f7ec1" stroke="none" stroke-width="1" />
<circle cx="548.80" cy="97.83" r="1.15" fill="#2f7ec1" stroke="none" stroke-width="1" />
<circle cx="545.02" cy="117.59" r="1.15" fill="#2f7ec1" stroke="none" stroke-width="1" />
<circle cx="556.87" cy="93.29" r="1.15" fill="#2f7ec1" stroke="none" stroke-width="1" />
<circle cx="557.33" cy="119.50" r="1.15" fill="#2f7ec1" stroke="none" stroke-width="1" />
<circle cx="540.00" cy="115.99" r="1.15" fill="#2f7ec1" stroke="none" stroke-width="1" />
<circle cx="545.82" cy="103.27" r="1.15" fill="#2f7ec1" stroke="none" stroke-width="1" />
<circle cx="544.64" cy="107.07" r="1.15" fill="#2f7ec1" stroke="none" stroke-width="1" />
<circle cx="568.52" cy="98.21" r="1.15" fill="#2f7ec1" stroke="none" stroke-width="1" />
<circle cx="553.86" cy="109.71" r="1.15" fill="#2f7ec1" stroke="none" stroke-width="1" />
<circle cx="555.80" cy="57.05" r="1.15" fill="#2f7ec1" stroke="none" stroke-width="1" />
<circle cx="551.54" cy="121.56" r="1.15" fill="#2f7ec1" stroke="none" stroke-width="1" />
<circle cx="560.66" cy="114.19" r="1.15" fill="#2f7ec1" stroke="none" stroke-width="1" />
<circle cx="565.14" cy="116.20" r="1.15" fill="#2f7ec1" stroke="none" stroke-width="1" />
<circle cx="558.77" cy="88.48" r="1.15" fill="#2f7ec1" stroke="none" stroke-width="1" />
<circle cx="542.16" cy="96.48" r="1.15" fill="#2f7ec1" stroke="none" stroke-width="1" />
<circle cx="553.42" cy="105.94" r="1.15" fill="#2f7ec1" stroke="none" stroke-width="1" />
<circle cx="555.10" cy="106.98" r="1.15" fill="#2f7ec1" stroke="none" stroke-width="1" />
<circle cx="546.29" cy="91.25" r="1.15" fill="#2f7ec1" stroke="none" stroke-width="1" />
<circle cx="563.84" cy="98.78" r="1.15" fill="#2f7ec1" stroke="none" stroke-width="1" />
<circle cx="553.49" cy="80.10" r="1.15" fill="#2f7ec1" stroke="none" stroke-width="1" />
<circle cx="548.67" cy="105.19" r="1.15" fill="#2f7ec1" stroke="none" stroke-width="1" />
<circle cx="556.66" cy="77.82" r="1.15" fill="#2f7ec1" stroke="none" stroke-width="1" />
<circle cx="557.11" cy="88.21" r="1.15" fill="#2f7ec1" stroke="none" stroke-width="1" />
<circle cx="555.40" cy="117.12" r="1.15" fill="#2f7ec1" stroke="none" stroke-width="1" />
<circle cx="567.98" cy="106.11" r="1.15" fill="#2f7ec1" stroke="none" stroke-width="1" />
<circle cx="556.03" cy="97.90" r="1.15" fill="#2f7ec1" stroke="none" stroke-width="1" />
<circle cx="549.84" cy="110.08" r="1.15" fill="#2f7ec1" stroke="none" stroke-width="1" />
<circle cx="543.37" cy="97.42" r="1.15" fill="#2f7ec1" stroke="none" stroke-width="1" />
<circle cx="555.68" cy="53.75" r="1.15" fill="#2f7ec1" stroke="none" stroke-width="1" />
<circle cx="552.35" cy="93.92" r="1.15" fill="#2f7ec1" stroke="none" stroke-width="1" />
<circle cx="555.66" cy="59.45" r="1.15" fill="#2f7ec1" stroke="none" stroke-width="1" />
<circle cx="550.75" cy="115.90" r="1.15" fill="#2f7ec1" stroke="none" stroke-width="1" />
<circle cx="548.66" cy="124.43" r="1.15" fill="#2f7ec1" stroke="none" stroke-width="1" />
<circle cx="549.55" cy="81.60" r="1.15" fill="#2f7ec1" stroke="none" stroke-width="1" />
<circle cx="545.57" cy="101.40" r="1.15" fill="#2f7ec1" stroke="none" stroke-width="1" />
<circle cx="544.14" cy="117.86" r="1.15" fill="#2f7ec1" stroke="none" stroke-width="1" />
<circle cx="567.30" cy="112.37" r="1.15" fill="#2f7ec1" stroke="none" stroke-width="1" />
<circle cx="558.48" cy="107.94" r="1.15" fill="#2f7ec1" stroke="none" stroke-width="1" />
<circle cx="545.94" cy="109.60" r="1.15" fill="#2f7ec1" stroke="none" stroke-width="1" />
<circle cx="559.28" cy="85.82" r="1.15" fill="#2f7ec1" stroke="none" stroke-width="1" />
<circle cx="558.69" cy="94.37" r="1.15" fill="#2f7ec1" stroke="none" stroke-width="1" />
<circle cx="542.39" cy="116.82" r="1.15" fill="#2f7ec1" stroke="none" stroke-width="1" />
<circle cx="562.81" cy="117.31" r="1.15" fill="#2f7ec1" stroke="none" stroke-width="1" />
<circle cx="550.47" cy="86.79" r="1.15" fill="#2f7ec1" stroke="none" stroke-width="1" />
<circle cx="571.20" cy="104.37" r="1.15" fill="#2f7ec1" stroke="none" stroke-width="1" />
<circle cx="545.11" cy="101.17" r="1.15" fill="#2f7ec1" stroke="none" stroke-width="1" />
<circle cx="550.65" cy="93.62" r="1.15" fill="#2f7ec1" stroke="none" stroke-width="1" />
<circle cx="547.20" cy="112.98" r="1.15" fill="#2f7ec1" stroke="none" stroke-width="1" />
<circle cx="560.33" cy="124.79" r="1.15" fill="#2f7ec1" stroke="none" stroke-width="1" />
<circle cx="562.08" cy="120.78" r="1.15" fill="#2f7ec1" stroke="none" stroke-width="1" />
<circle cx="558.40" cy="107.39" r="1.15" fill="#2f7ec1" stroke="none" stroke-width="1" />
<circle cx="543.94" cy="113.16" r="1.15" fill="#2f7ec1" stroke="none" stroke-width="1" />
<circle cx="552.87" cy="109.09" r="1.15" fill="#2f7ec1" stroke="none" stroke-width="1" />
<circle cx="561.64" cy="116.50" r="1.15" fill="#2f7ec1" stroke="none" stroke-width="1" />
<circle cx="541.38" cy="104.58" r="1.15" fill="#2f7ec1" stroke="none" stroke-width="1" />
<circle cx="555.93" cy="43.98" r="1.15" fill="#2f7ec1" stroke="none" stroke-width="1" />
<circle cx="564.87" cy="97.04" r="1.15" fill="#2f7ec1" stroke="none" stroke-width="1" />
<circle cx="569.37" cy="114.58" r="1.15" fill="#2f7ec1" stroke="none" stroke-width="1" />
<circle cx="562.55" cy="106.58" r="1.15" fill="#2f7ec1" stroke="none" stroke-width="1" />
<circle cx="558.72" cy="96.94" r="1.15" fill="#2f7ec1" stroke="none" stroke-width="1" />
<circle cx="562.73" cy="83.34" r="1.15" fill="#2f7ec1" stroke="none" stroke-width="1" />
<circle cx="553.67" cy="75.05" r="1.15" fill="#2f7ec1" stroke="none" stroke-width="1" />
<circle cx="549.25" cy="114.58" r="1.15" fill="#2f7ec1" stroke="none" stroke-width="1" />
<circle cx="546.12" cy="95.18" r="1.15" fill="#2f7ec1" stroke="none" stroke-width="1" />
<circle cx="546.23" cy="100.56" r="1.15" fill="#2f7ec1" stroke="none" stroke-width="1" />
<circle cx="557.75" cy="74.21" r="1.15" fill="#2f7ec1" stroke="none" stroke-width="1" />
<circle cx="552.08" cy="127.61" r="1.15" fill="#2f7ec1" stroke="none" stroke-width="1" />
<circle cx="564.49" cy="107.78" r="1.15" fill="#2f7ec1" stroke="none" stroke-width="1" />
<circle cx="552.69" cy="96.78" r="1.15" fill="#2f7ec1" stroke="none" stroke-width="1" />
<circle cx="561.47" cy="83.79" r="1.15" fill="#2f7ec1" stroke="none" stroke-width="1" />
<circle cx="564.86" cy="106.98" r="1.15" fill="#2f7ec1" stroke="none" stroke-width="1" />
<circle cx="556.71" cy="70.72" r="1.15" fill="#2f7ec1" stroke="none" stroke-width="1" />
<circle cx="560.30" cy="82.39" r="1.15" fill="#2f7ec1" stroke="none" stroke-width="1" />
<circle cx="542.98" cy="118.13" r="1.15" fill="#2f7ec1" stroke="none" stroke-width="1" />
<circle cx="550.79" cy="91.07" r="1.15" fill="#2f7ec1" stroke="none" stroke-width="1" />
<circle cx="550.96" cy="105.99" r="1.15" fill="#2f7ec1" stroke="none" stroke-width="1" />
<circle cx="554.19" cy="86.82" r="1.15" fill="#2f7ec1" stroke="none" stroke-width="1" />
<circle cx="561.39" cy="106.01" r="1.15" fill="#2f7ec1" stroke="none" stroke-width="1" />
<circle cx="566.49" cy="100.61" r="1.15" fill="#2f7ec1" stroke="none" stroke-width="1" />
<circle cx="562.42" cy="117.45" r="1.15" fill="#2f7ec1" stroke="none" stroke-width="1" />
<circle cx="571.13" cy="107.33" r="1.15" fill="#2f7ec1" stroke="none" stroke-width="1" />
<circle cx="561.74" cy="104.53" r="1.15" fill="#2f7ec1" stroke="none" stroke-width="1" />
<circle cx="551.33" cy="101.62" r="1.15" fill="#2f7ec1" stroke="none" stroke-width="1" />
<circle cx="555.72" cy="97.72" r="1.15" fill="#2f7ec1" stroke="none" stroke-width="1" />
<circle cx="562.39" cy="97.30" r="1.15" fill="#2f7ec1" stroke="none" stroke-width="1" />
<circle cx="563.61" cy="95.75" r="1.15" fill="#2f7ec1" stroke="none" stroke-width="1" />
<circle cx="554.99" cy="61.33" r="1.15" fill="#2f7ec1" stroke="none" stroke-width="1" />
<circle cx="551.45" cy="97.59" r="1.15" fill="#2f7ec1" stroke="none" stroke-width="1" />
<circle cx="558.81" cy="99.25" r="1.15" fill="#2f7ec1" stroke="none" stroke-width="1" />
<circle cx="547.51" cy="117.13" r="1.15" fill="#2f7ec1" stroke="none" stroke-width="1" />
<circle cx="567.42" cy="115.89" r="1.15" fill="#2f7ec1" stroke="none" stroke-width="1" />
<circle cx="543.49" cy="94.59" r="1.15" fill="#2f7ec1" stroke="none" stroke-width="1" />
<circle cx="557.97" cy="122.73" r="1.15" fill="#2f7ec1" stroke="none" stroke-width="1" />
<circle cx="555.01" cy="105.57" r="1.15" fill="#2f7ec1" stroke="none" stroke-width="1" />
<circle cx="544.27" cy="107.77" r="1.15" fill="#2f7ec1" stroke="none" stroke-width="1" />
<circle cx="557.54" cy="101.42" r="1.15" fill="#2f7ec1" stroke="none" stroke-width="1" />
<circle cx="555.04" cy="122.06" r="1.15" fill="#2f7ec1" stroke="none" stroke-width="1" />
<circle cx="571.01" cy="112.38" r="1.15" fill="#2f7ec1" stroke="none" stroke-width="1" />
<circle cx="560.99" cy="124.18" r="1.15" fill="#2f7ec1" stroke="none" stroke-width="1" />
<circle cx="557.75" cy="118.72" r="1.15" fill="#2f7ec1" stroke="none" stroke-width="1" />
<circle cx="563.63" cy="93.01" r="1.15" fill="#2f7ec1" stroke="none" stroke-width="1" />
<circle cx="564.52" cy="94.23" r="1.15" fill="#2f7ec1" stroke="none" stroke-width="1" />
<circle cx="553.33" cy="128.70" r="1.15" fill="#2f7ec1" stroke="none" stroke-width="1" />
<circle cx="567.61" cy="108.30" r="1.15" fill="#2f7ec1" stroke="none" stroke-width="1" />
<circle cx="561.75" cy="87.30" r="1.15" fill="#2f7ec1" stroke="none" stroke-width="1" />
<circle cx="570.24" cy="116.76" r="1.15" fill="#2f7ec1" stroke="none" stroke-width="1" />
<circle cx="564.56" cy="106.19" r="1.15" fill="#2f7ec1" stroke="none" stroke-width="1" />
<circle cx="554.10" cy="81.71" r="1.15" fill="#2f7ec1" stroke="none" stroke-width="1" />
<circle cx="550.81" cy="83.93" r="1.15" fill="#2f7ec1" stroke="none" stroke-width="1" />
<circle cx="557.59" cy="124.57" r="1.15" fill="#2f7ec1" stroke="none" stroke-width="1" />
<circle cx="545.31" cy="106.40" r="1.15" fill="#2f7ec1" stroke="none" stroke-width="1" />
<circle cx="564.30" cy="111.74" r="1.15" fill="#2f7ec1" stroke="none" stroke-width="1" />
<circle cx="557.71" cy="103.01" r="1.15" fill="#2f7ec1" stroke="none" stroke-width="1" />
<circle cx="559.68" cy="125.09" r="1.15" fill="#2f7ec1" stroke="none" stroke-width="1" />
<circle cx="552.82" cy="87.10" r="1.15" fill="#2f7ec1" stroke="none" stroke-width="1" />
<circle cx="551.78" cy="87.61" r="1.15" fill="#2f7ec1" stroke="none" stroke-width="1" />
<circle cx="563.49" cy="121.16" r="1.15" fill="#2f7ec1" stroke="none" stroke-width="1" />
<circle cx="561.18" cy="111.10" r="1.15" fill="#2f7ec1" stroke="none" stroke-width="1" />
<circle cx="550.99" cy="108.35" r="1.15" fill="#2f7ec1" stroke="none" stroke-width="1" />
<circle cx="556.07" cy="78.01" r="1.15" fill="#2f7ec1" stroke="none" stroke-width="1" />
<circle cx="554.22" cy="90.76" r="1.15" fill="#2f7ec1" stroke="none" stroke-width="1" />
<circle cx="560.16" cy="113.72" r="1.15" fill="#2f7ec1" stroke="none" stroke-width="1" />
<circle cx="555.81" cy="86.69" r="1.15" fill="#2f7ec1" stroke="none" stroke-width="1" />
<circle cx="550.23" cy="94.98" r="1.15" fill="#2f7ec1" stroke="none" stroke-width="1" />
<circle cx="569.18" cy="98.25" r="1.15" fill="#2f7ec1" stroke="none" stroke-width="1" />
<circle cx="566.25" cy="97.49" r="1.15" fill="#2f7ec1" stroke="none" stroke-width="1" />
<circle cx="565.04" cy="107.92" r="1.15" fill="#2f7ec1" stroke="none" stroke-width="1" />
<circle cx="549.51" cy="118.27" r="1.15" fill="#2f7ec1" stroke="none" stroke-width="1" />
<circle cx="545.26" cy="105.42" r="1.15" fill="#2f7ec1" stroke="none" stroke-width="1" />
<circle cx="555.77" cy="33.00" r="1.15" fill="#2f7ec1" stroke="none" stroke-width="1" />
<circle cx="564.73" cy="98.47" r="1.15" fill="#2f7ec1" stroke="none" stroke-width="1" />
<circle cx="560.01" cy="102.67" r="1.15" fill="#2f7ec1" stroke="none" stroke-width="1" />
<circle cx="545.95" cy="105.34" r="1.15" fill="#2f7ec1" stroke="none" stroke-width="1" />
<circle cx="555.75" cy="32.66" r="1.15" fill="#2f7ec1" stroke="none" stroke-width="1" />
<circle cx="555.58" cy="64.38" r="1.15" fill="#2f7ec1" stroke="none" stroke-width="1" />
<circle cx="552.31" cy="119.01" r="1.15" fill="#2f7ec1" stroke="none" stroke-width="1" />
<circle cx="558.08" cy="99.74" r="1.15" fill="#2f7ec1" stroke="none" stroke-width="1" />
<circle cx="553.78" cy="112.34" r="1.15" fill="#2f7ec1" stroke="none" stroke-width="1" />
<circle cx="556.02" cy="63.78" r="1.15" fill="#2f7ec1" stroke="none" stroke-width="1" />
<circle cx="564.66" cy="107.28" r="1.15" fill="#2f7ec1" stroke="none" stroke-width="1" />
<circle cx="573.36" cy="108.34" r="1.15" fill="#2f7ec1" stroke="none" stroke-width="1" />
<circle cx="544.32" cy="98.69" r="1.15" fill="#2f7ec1" stroke="none" stroke-width="1" />
<circle cx="555.83" cy="58.17" r="1.15" fill="#2f7ec1" stroke="none" stroke-width="1" />
<circle cx="566.45" cy="94.97" r="1.15" fill="#2f7ec1" stroke="none" stroke-width="1" />
<circle cx="559.81" cy="97.03" r="1.15" fill="#2f7ec1" stroke="none" stroke-width="1" />
<circle cx="555.80" cy="62.14" r="1.15" fill="#2f7ec1" stroke="none" stroke-width="1" />
<circle cx="565.69" cy="98.99" r="1.15" fill="#2f7ec1" stroke="none" stroke-width="1" />
<circle cx="543.49" cy="118.84" r="1.15" fill="#2f7ec1" stroke="none" stroke-width="1" />
<circle cx="565.30" cy="105.42" r="1.15" fill="#2f7ec1" stroke="none" stroke-width="1" />
<circle cx="556.04" cy="56.12" r="1.15" fill="#2f7ec1" stroke="none" stroke-width="1" />
<circle cx="557.95" cy="101.68" r="1.15" fill="#2f7ec1" stroke="none" stroke-width="1" />
<circle cx="550.01" cy="100.92" r="1.15" fill="#2f7ec1" stroke="none" stroke-width="1" />
<circle cx="556.43" cy="74.81" r="1.15" fill="#2f7ec1" stroke="none" stroke-width="1" />
<circle cx="545.95" cy="118.90" r="1.15" fill="#2f7ec1" stroke="none" stroke-width="1" />
<circle cx="556.24" cy="99.44" r="1.15" fill="#2f7ec1" stroke="none" stroke-width="1" />
<circle cx="549.00" cy="96.54" r="1.15" fill="#2f7ec1" stroke="none" stroke-width="1" />
<circle cx="570.21" cy="111.86" r="1.15" fill="#2f7ec1" stroke="none" stroke-width="1" />
<circle cx="563.08" cy="119.13" r="1.15" fill="#2f7ec1" stroke="none" stroke-width="1" />
<circle cx="554.55" cy="111.05" r="1.15" fill="#2f7ec1" stroke="none" stroke-width="1" />
<circle cx="564.70" cy="110.09" r="1.15" fill="#2f7ec1" stroke="none" stroke-width="1" />
<circle cx="553.13" cy="91.67" r="1.15" fill="#2f7ec1" stroke="none" stroke-width="1" />
<circle cx="556.18" cy="98.78" r="1.15" fill="#2f7ec1" stroke="none" stroke-width="1" />
<circle cx="543.76" cy="106.07" r="1.15" fill="#2f7ec1" stroke="none" stroke-width="1" />
<circle cx="568.71" cy="109.03" r="1.15" fill="#2f7ec1" stroke="none" stroke-width="1" />
<circle cx="563.16" cy="101.17" r="1.15" fill="#2f7ec1" stroke="none" stroke-width="1" />
<circle cx="556.95" cy="129.23" r="1.15" fill="#2f7ec1" stroke="none" stroke-width="1" />
<circle cx="543.58" cy="117.55" r="1.15" fill="#2f7ec1" stroke="none" stroke-width="1" />
<circle cx="567.02" cy="110.12" r="1.15" fill="#2f7ec1" stroke="none" stroke-width="1" />
<circle cx="537.50" cy="107.92" r="1.15" fill="#2f7ec1" stroke="none" stroke-width="1" />
<circle cx="556.43" cy="82.67" r="1.15" fill="#2f7ec1" stroke="none" stroke-width="1" />
<circle cx="555.32" cy="82.97" r="1.15" fill="#2f7ec1" stroke="none" stroke-width="1" />
<circle cx="545.91" cy="92.90" r="1.15" fill="#2f7ec1" stroke="none" stroke-width="1" />
<circle cx="554.32" cy="83.27" r="1.15" fill="#2f7ec1" stroke="none" stroke-width="1" />
<circle cx="569.82" cy="108.14" r="1.15" fill="#2f7ec1" stroke="none" stroke-width="1" />
<circle cx="558.19" cy="120.36" r="1.15" fill="#2f7ec1" stroke="none" stroke-width="1" />
<circle cx="550.87" cy="95.20" r="1.15" fill="#2f7ec1" stroke="none" stroke-width="1" />
<circle cx="565.30" cy="104.13" r="1.15" fill="#2f7ec1" stroke="none" stroke-width="1" />
<circle cx="554.01" cy="79.23" r="1.15" fill="#2f7ec1" stroke="none" stroke-width="1" />
<circle cx="566.87" cy="98.48" r="1.15" fill="#2f7ec1" stroke="none" stroke-width="1" />
<circle cx="551.88" cy="109.63" r="1.15" fill="#2f7ec1" stroke="none" stroke-width="1" />
<circle cx="541.25" cy="105.56" r="1.15" fill="#2f7ec1" stroke="none" stroke-width="1" />
<circle cx="567.41" cy="95.41" r="1.15" fill="#2f7ec1" stroke="none" stroke-width="1" />
<circle cx="544.05" cy="96.44" r="1.15" fill="#2f7ec1" stroke="none" stroke-width="1" />
<circle cx="550.00" cy="120.14" r="1.15" fill="#2f7ec1" stroke="none" stroke-width="1" />
<circle cx="560.94" cy="91.01" r="1.15" fill="#2f7ec1" stroke="none" stroke-width="1" />
<circle cx="553.74" cy="58.57" r="1.15" fill="#2f7ec1" stroke="none" stroke-width="1" />
<circle cx="556.59" cy="95.05" r="1.15" fill="#2f7ec1" stroke="none" stroke-width="1" />
<circle cx="567.55" cy="112.39" r="1.15" fill="#2f7ec1" stroke="none" stroke-width="1" />
<circle cx="557.21" cy="88.21" r="1.15" fill="#2f7ec1" stroke="none" stroke-width="1" />
<circle cx="550.73" cy="115.59" r="1.15" fill="#2f7ec1" stroke="none" stroke-width="1" />
<circle cx="558.75" cy="81.41" r="1.15" fill="#2f7ec1" stroke="none" stroke-width="1" />
<circle cx="563.03" cy="93.95" r="1.15" fill="#2f7ec1" stroke="none" stroke-width="1" />
<circle cx="556.92" cy="122.02" r="1.15" fill="#2f7ec1" stroke="none" stroke-width="1" />
<circle cx="560.19" cy="108.11" r="1.15" fill="#2f7ec1" stroke="none" stroke-width="1" />
<circle cx="552.31" cy="85.86" r="1.15" fill="#2f7ec1" stroke="none" stroke-width="1" />
<circle cx="552.09" cy="109.14" r="1.15" fill="#2f7ec1" stroke="none" stroke-width="1" />
<circle cx="568.79" cy="96.68" r="1.15" fill="#2f7ec1" stroke="none" stroke-width="1" />
<circle cx="569.18" cy="100.11" r="1.15" fill="#2f7ec1" stroke="none" stroke-width="1" />
<circle cx="538.28" cy="111.43" r="1.15" fill="#2f7ec1" stroke="none" stroke-width="1" />
<circle cx="544.28" cy="108.99" r="1.15" fill="#2f7ec1" stroke="none" stroke-width="1" />
<circle cx="550.65" cy="122.14" r="1.15" fill="#2f7ec1" stroke="none" stroke-width="1" />
<circle cx="565.56" cy="111.63" r="1.15" fill="#2f7ec1" stroke="none" stroke-width="1" />
<circle cx="544.80" cy="110.42" r="1.15" fill="#2f7ec1" stroke="none" stroke-width="1" />
<circle cx="544.54" cy="112.87" r="1.15" fill="#2f7ec1" stroke="none" stroke-width="1" />
<circle cx="563.14" cy="98.63" r="1.15" fill="#2f7ec1" stroke="none" stroke-width="1" />
<circle cx="548.35" cy="92.75" r="1.15" fill="#2f7ec1" stroke="none" stroke-width="1" />
<circle cx="568.31" cy="118.36" r="1.15" fill="#2f7ec1" stroke="none" stroke-width="1" />
<circle cx="554.20" cy="102.08" r="1.15" fill="#2f7ec1" stroke="none" stroke-width="1" />
<circle cx="567.20" cy="102.45" r="1.15" fill="#2f7ec1" stroke="none" stroke-width="1" />
<circle cx="566.51" cy="111.54" r="1.15" fill="#2f7ec1" stroke="none" stroke-width="1" />
<circle cx="550.46" cy="85.02" r="1.15" fill="#2f7ec1" stroke="none" stroke-width="1" />
<circle cx="564.94" cy="105.18" r="1.15" fill="#2f7ec1" stroke="none" stroke-width="1" />
<circle cx="552.98" cy="116.99" r="1.15" fill="#2f7ec1" stroke="none" stroke-width="1" />
<circle cx="547.44" cy="101.18" r="1.15" fill="#2f7ec1" stroke="none" stroke-width="1" />
<circle cx="539.15" cy="106.95" r="1.15" fill="#2f7ec1" stroke="none" stroke-width="1" />
<circle cx="560.38" cy="94.57" r="1.15" fill="#2f7ec1" stroke="none" stroke-width="1" />
<circle cx="555.79" cy="129.72" r="1.15" fill="#2f7ec1" stroke="none" stroke-width="1" />
<circle cx="549.62" cy="103.13" r="1.15" fill="#2f7ec1" stroke="none" stroke-width="1" />
<circle cx="565.19" cy="101.91" r="1.15" fill="#2f7ec1" stroke="none" stroke-width="1" />
<circle cx="547.01" cy="117.84" r="1.15" fill="#2f7ec1" stroke="none" stroke-width="1" />
<circle cx="554.48" cy="86.74" r="1.15" fill="#2f7ec1" stroke="none" stroke-width="1" />
<circle cx="543.08" cy="116.71" r="1.15" fill="#2f7ec1" stroke="none" stroke-width="1" />
<circle cx="552.83" cy="85.70" r="1.15" fill="#2f7ec1" stroke="none" stroke-width="1" />
<circle cx="563.04" cy="90.15" r="1.15" fill="#2f7ec1" stroke="none" stroke-width="1" />
<circle cx="555.50" cy="97.47" r="1.15" fill="#2f7ec1" stroke="none" stroke-width="1" />
<circle cx="543.06" cy="106.86" r="1.15" fill="#2f7ec1" stroke="none" stroke-width="1" />
<circle cx="548.08" cy="97.78" r="1.15" fill="#2f7ec1" stroke="none" stroke-width="1" />
<circle cx="559.54" cy="97.54" r="1.15" fill="#2f7ec1" stroke="none" stroke-width="1" />
<circle cx="547.50" cy="106.93" r="1.15" fill="#2f7ec1" stroke="none" stroke-width="1" />
<circle cx="569.17" cy="106.45" r="1.15" fill="#2f7ec1" stroke="none" stroke-width="1" />
<circle cx="540.49" cy="105.79" r="1.15" fill="#2f7ec1" stroke="none" stroke-width="1" />
<circle cx="556.48" cy="52.31" r="1.15" fill="#2f7ec1" stroke="none" stroke-width="1" />
<circle cx="557.75" cy="86.62" r="1.15" fill="#2f7ec1" stroke="none" stroke-width="1" />
<circle cx="566.26" cy="112.57" r="1.15" fill="#2f7ec1" stroke="none" stroke-width="1" />
<circle cx="553.69" cy="125.37" r="1.15" fill="#2f7ec1" stroke="none" stroke-width="1" />
<circle cx="544.58" cy="118.95" r="1.15" fill="#2f7ec1" stroke="none" stroke-width="1" />
<circle cx="546.12" cy="98.41" r="1.15" fill="#2f7ec1" stroke="none" stroke-width="1" />
<circle cx="559.10" cy="98.09" r="1.15" fill="#2f7ec1" stroke="none" stroke-width="1" />
<circle cx="553.32" cy="57.75" r="1.15" fill="#2f7ec1" stroke="none" stroke-width="1" />
<circle cx="553.89" cy="60.69" r="1.15" fill="#2f7ec1" stroke="none" stroke-width="1" />
<circle cx="565.63" cy="106.84" r="1.15" fill="#2f7ec1" stroke="none" stroke-width="1" />
<circle cx="568.70" cy="111.13" r="1.15" fill="#2f7ec1" stroke="none" stroke-width="1" />
<circle cx="563.25" cy="92.91" r="1.15" fill="#2f7ec1" stroke="none" stroke-width="1" />
<circle cx="565.27" cy="99.48" r="1.15" fill="#2f7ec1" stroke="none" stroke-width="1" />
<circle cx="555.98" cy="76.88" r="1.15" fill="#2f7ec1" stroke="none" stroke-width="1" />
<circle cx="569.38" cy="108.28" r="1.15" fill="#2f7ec1" stroke="none" stroke-width="1" />
<circle cx="560.04" cy="93.86" r="1.15" fill="#2f7ec1" stroke="none" stroke-width="1" />
<circle cx="556.68" cy="91.70" r="1.15" fill="#2f7ec1" stroke="none" stroke-width="1" />
<circle cx="555.04" cy="70.00" r="1.15" fill="#2f7ec1" stroke="none" stroke-width="1" />
<circle cx="542.43" cy="97.08" r="1.15" fill="#2f7ec1" stroke="none" stroke-width="1" />
<circle cx="549.42" cy="83.05" r="1.15" fill="#2f7ec1" stroke="none" stroke-width="1" />
<circle cx="546.24" cy="108.28" r="1.15" fill="#2f7ec1" stroke="none" stroke-width="1" />
<circle cx="554.20" cy="112.81" r="1.15" fill="#2f7ec1" stroke="none" stroke-width="1" />
<circle cx="545.29" cy="118.31" r="1.15" fill="#2f7ec1" stroke="none" stroke-width="1" />
<circle cx="558.67" cy="71.35" r="1.15" fill="#2f7ec1" stroke="none" stroke-width="1" />
<circle cx="556.99" cy="89.88" r="1.15" fill="#2f7ec1" stroke="none" stroke-width="1" />
<circle cx="563.24" cy="114.45" r="1.15" fill="#2f7ec1" stroke="none" stroke-width="1" />
<circle cx="566.96" cy="102.10" r="1.15" fill="#2f7ec1" stroke="none" stroke-width="1" />
<circle cx="551.46" cy="123.85" r="1.15" fill="#2f7ec1" stroke="none" stroke-width="1" />
<circle cx="566.91" cy="102.73" r="1.15" fill="#2f7ec1" stroke="none" stroke-width="1" />
<circle cx="556.09" cy="49.20" r="1.15" fill="#2f7ec1" stroke="none" stroke-width="1" />
<circle cx="547.76" cy="112.69" r="1.15" fill="#2f7ec1" stroke="none" stroke-width="1" />
<circle cx="552.53" cy="127.90" r="1.15" fill="#2f7ec1" stroke="none" stroke-width="1" />
<circle cx="564.42" cy="102.96" r="1.15" fill="#2f7ec1" stroke="none" stroke-width="1" />
<circle cx="567.84" cy="115.29" r="1.15" fill="#2f7ec1" stroke="none" stroke-width="1" />
<circle cx="562.81" cy="119.28" r="1.15" fill="#2f7ec1" stroke="none" stroke-width="1" />
<circle cx="553.71" cy="89.90" r="1.15" fill="#2f7ec1" stroke="none" stroke-width="1" />
<circle cx="558.71" cy="115.58" r="1.15" fill="#2f7ec1" stroke="none" stroke-width="1" />
<circle cx="541.84" cy="110.74" r="1.15" fill="#2f7ec1" stroke="none" stroke-width="1" />
<circle cx="548.07" cy="97.56" r="1.15" fill="#2f7ec1" stroke="none" stroke-width="1" />
<circle cx="552.96" cy="115.66" r="1.15" fill="#2f7ec1" stroke="none" stroke-width="1" />
<circle cx="562.15" cy="96.81" r="1.15" fill="#2f7ec1" stroke="none" stroke-width="1" />
<circle cx="544.97" cy="118.85" r="1.15" fill="#2f7ec1" stroke="none" stroke-width="1" />
<circle cx="557.06" cy="54.25" r="1.15" fill="#2f7ec1" stroke="none" stroke-width="1" />
<circle cx="540.41" cy="114.64" r="1.15" fill="#2f7ec1" stroke="none" stroke-width="1" />
<circle cx="571.78" cy="106.06" r="1.15" fill="#2f7ec1" stroke="none" stroke-width="1" />
<circle cx="547.06" cy="114.66" r="1.15" fill="#2f7ec1" stroke="none" stroke-width="1" />
<circle cx="564.85" cy="102.39" r="1.15" fill="#2f7ec1" stroke="none" stroke-width="1" />
<circle cx="565.48" cy="115.65" r="1.15" fill="#2f7ec1" stroke="none" stroke-width="1" />
<circle cx="568.68" cy="101.24" r="1.15" fill="#2f7ec1" stroke="none" stroke-width="1" />
<circle cx="555.32" cy="69.61" r="1.15" fill="#2f7ec1" stroke="none" stroke-width="1" />
<circle cx="562.80" cy="109.35" r="1.15" fill="#2f7ec1" stroke="none" stroke-width="1" />
<circle cx="551.50" cy="89.01" r="1.15" fill="#2f7ec1" stroke="none" stroke-width="1" />
<circle cx="557.84" cy="72.37" r="1.15" fill="#2f7ec1" stroke="none" stroke-width="1" />
<circle cx="548.17" cy="87.26" r="1.15" fill="#2f7ec1" stroke="none" stroke-width="1" />
<circle cx="562.24" cy="85.37" r="1.15" fill="#2f7ec1" stroke="none" stroke-width="1" />
<circle cx="558.85" cy="107.22" r="1.15" fill="#2f7ec1" stroke="none" stroke-width="1" />
<circle cx="543.27" cy="97.49" r="1.15" fill="#2f7ec1" stroke="none" stroke-width="1" />
<circle cx="561.00" cy="81.29" r="1.15" fill="#2f7ec1" stroke="none" stroke-width="1" />
<circle cx="550.41" cy="97.26" r="1.15" fill="#2f7ec1" stroke="none" stroke-width="1" />
<circle cx="540.48" cy="111.25" r="1.15" fill="#2f7ec1" stroke="none" stroke-width="1" />
<circle cx="547.86" cy="115.24" r="1.15" fill="#2f7ec1" stroke="none" stroke-width="1" />
<circle cx="541.79" cy="100.40" r="1.15" fill="#2f7ec1" stroke="none" stroke-width="1" />
<circle cx="551.36" cy="87.91" r="1.15" fill="#2f7ec1" stroke="none" stroke-width="1" />
<circle cx="562.98" cy="106.65" r="1.15" fill="#2f7ec1" stroke="none" stroke-width="1" />
<circle cx="573.49" cy="109.19" r="1.15" fill="#2f7ec1" stroke="none" stroke-width="1" />
<circle cx="559.28" cy="98.81" r="1.15" fill="#2f7ec1" stroke="none" stroke-width="1" />
<circle cx="567.87" cy="106.23" r="1.15" fill="#2f7ec1" stroke="none" stroke-width="1" />
<circle cx="566.76" cy="111.11" r="1.15" fill="#2f7ec1" stroke="none" stroke-width="1" />
<circle cx="559.95" cy="91.86" r="1.15" fill="#2f7ec1" stroke="none" stroke-width="1" />
<circle cx="551.43" cy="106.40" r="1.15" fill="#2f7ec1" stroke="none" stroke-width="1" />
<circle cx="552.35" cy="125.19" r="1.15" fill="#2f7ec1" stroke="none" stroke-width="1" />
<circle cx="549.12" cy="86.81" r="1.15" fill="#2f7ec1" stroke="none" stroke-width="1" />
<circle cx="557.04" cy="113.41" r="1.15" fill="#2f7ec1" stroke="none" stroke-width="1" />
<circle cx="549.59" cy="90.88" r="1.15" fill="#2f7ec1" stroke="none" stroke-width="1" />
<circle cx="557.08" cy="70.97" r="1.15" fill="#2f7ec1" stroke="none" stroke-width="1" />
<circle cx="553.88" cy="77.41" r="1.15" fill="#2f7ec1" stroke="none" stroke-width="1" />
<circle cx="556.37" cy="79.95" r="1.15" fill="#2f7ec1" stroke="none" stroke-width="1" />
<circle cx="555.83" cy="72.45" r="1.15" fill="#2f7ec1" stroke="none" stroke-width="1" />
<circle cx="559.00" cy="118.12" r="1.15" fill="#2f7ec1" stroke="none" stroke-width="1" />
<circle cx="544.87" cy="116.15" r="1.15" fill="#2f7ec1" stroke="none" stroke-width="1" />
<circle cx="547.53" cy="113.54" r="1.15" fill="#2f7ec1" stroke="none" stroke-width="1" />
<circle cx="562.45" cy="109.16" r="1.15" fill="#2f7ec1" stroke="none" stroke-width="1" />
<circle cx="547.18" cy="100.78" r="1.15" fill="#2f7ec1" stroke="none" stroke-width="1" />
<circle cx="557.12" cy="78.09" r="1.15" fill="#2f7ec1" stroke="none" stroke-width="1" />
<circle cx="557.49" cy="66.81" r="1.15" fill="#2f7ec1" stroke="none" stroke-width="1" />
<circle cx="551.84" cy="105.15" r="1.15" fill="#2f7ec1" stroke="none" stroke-width="1" />
<circle cx="566.79" cy="119.29" r="1.15" fill="#2f7ec1" stroke="none" stroke-width="1" />
<circle cx="558.81" cy="100.54" r="1.15" fill="#2f7ec1" stroke="none" stroke-width="1" />
<circle cx="570.67" cy="111.82" r="1.15" fill="#2f7ec1" stroke="none" stroke-width="1" />
<circle cx="556.47" cy="108.59" r="1.15" fill="#2f7ec1" stroke="none" stroke-width="1" />
<circle cx="555.84" cy="39.54" r="1.15" fill="#2f7ec1" stroke="none" stroke-width="1" />
<circle cx="560.63" cy="117.81" r="1.15" fill="#2f7ec1" stroke="none" stroke-width="1" />
<circle cx="545.06" cy="111.71" r="1.15" fill="#2f7ec1" stroke="none" stroke-width="1" />
<circle cx="556.15" cy="109.71" r="1.15" fill="#2f7ec1" stroke="none" stroke-width="1" />
<circle cx="558.48" cy="109.11" r="1.15" fill="#2f7ec1" stroke="none" stroke-width="1" />
<circle cx="554.96" cy="83.08" r="1.15" fill="#2f7ec1" stroke="none" stroke-width="1" />
<circle cx="561.40" cy="109.14" r="1.15" fill="#2f7ec1" stroke="none" stroke-width="1" />
<circle cx="568.01" cy="103.71" r="1.15" fill="#2f7ec1" stroke="none" stroke-width="1" />
<circle cx="564.61" cy="116.11" r="1.15" fill="#2f7ec1" stroke="none" stroke-width="1" />
<circle cx="561.37" cy="87.44" r="1.15" fill="#2f7ec1" stroke="none" stroke-width="1" />
<circle cx="542.97" cy="110.92" r="1.15" fill="#2f7ec1" stroke="none" stroke-width="1" />
<circle cx="562.11" cy="104.91" r="1.15" fill="#2f7ec1" stroke="none" stroke-width="1" />
<circle cx="556.31" cy="70.47" r="1.15" fill="#2f7ec1" stroke="none" stroke-width="1" />
<circle cx="568.21" cy="100.33" r="1.15" fill="#2f7ec1" stroke="none" stroke-width="1" />
<circle cx="538.74" cy="105.53" r="1.15" fill="#2f7ec1" stroke="none" stroke-width="1" />
<circle cx="544.63" cy="105.26" r="1.15" fill="#2f7ec1" stroke="none" stroke-width="1" />
<circle cx="570.36" cy="115.79" r="1.15" fill="#2f7ec1" stroke="none" stroke-width="1" />
<circle cx="551.64" cy="116.59" r="1.15" fill="#2f7ec1" stroke="none" stroke-width="1" />
<circle cx="562.17" cy="114.04" r="1.15" fill="#2f7ec1" stroke="none" stroke-width="1" />
<circle cx="556.79" cy="82.51" r="1.15" fill="#2f7ec1" stroke="none" stroke-width="1" />
<circle cx="552.26" cy="115.13" r="1.15" fill="#2f7ec1" stroke="none" stroke-width="1" />
<circle cx="554.52" cy="83.87" r="1.15" fill="#2f7ec1" stroke="none" stroke-width="1" />
<circle cx="557.08" cy="95.49" r="1.15" fill="#2f7ec1" stroke="none" stroke-width="1" />
<circle cx="641.22" cy="119.78" r="1.15" fill="#f7891f" stroke="none" stroke-width="1" />
<circle cx="629.88" cy="126.28" r="1.15" fill="#f7891f" stroke="none" stroke-width="1" />
<circle cx="633.22" cy="126.11" r="1.15" fill="#f7891f" stroke="none" stroke-width="1" />
<circle cx="637.81" cy="107.42" r="1.15" fill="#f7891f" stroke="none" stroke-width="1" />
<circle cx="646.54" cy="114.67" r="1.15" fill="#f7891f" stroke="none" stroke-width="1" />
<circle cx="639.71" cy="112.63" r="1.15" fill="#f7891f" stroke="none" stroke-width="1" />
<circle cx="628.57" cy="108.08" r="1.15" fill="#f7891f" stroke="none" stroke-width="1" />
<circle cx="618.39" cy="113.29" r="1.15" fill="#f7891f" stroke="none" stroke-width="1" />
<circle cx="623.70" cy="109.07" r="1.15" fill="#f7891f" stroke="none" stroke-width="1" />
<circle cx="630.20" cy="72.71" r="1.15" fill="#f7891f" stroke="none" stroke-width="1" />
<circle cx="638.34" cy="115.40" r="1.15" fill="#f7891f" stroke="none" stroke-width="1" />
<circle cx="641.93" cy="114.83" r="1.15" fill="#f7891f" stroke="none" stroke-width="1" />
<circle cx="618.45" cy="113.25" r="1.15" fill="#f7891f" stroke="none" stroke-width="1" />
<circle cx="632.41" cy="109.45" r="1.15" fill="#f7891f" stroke="none" stroke-width="1" />
<circle cx="641.30" cy="101.38" r="1.15" fill="#f7891f" stroke="none" stroke-width="1" />
<circle cx="625.51" cy="112.02" r="1.15" fill="#f7891f" stroke="none" stroke-width="1" />
<circle cx="630.32" cy="65.21" r="1.15" fill="#f7891f" stroke="none" stroke-width="1" />
<circle cx="635.30" cy="113.41" r="1.15" fill="#f7891f" stroke="none" stroke-width="1" />
<circle cx="630.57" cy="70.32" r="1.15" fill="#f7891f" stroke="none" stroke-width="1" />
<circle cx="626.96" cy="126.87" r="1.15" fill="#f7891f" stroke="none" stroke-width="1" />
<circle cx="622.40" cy="114.82" r="1.15" fill="#f7891f" stroke="none" stroke-width="1" />
<circle cx="611.73" cy="104.24" r="1.15" fill="#f7891f" stroke="none" stroke-width="1" />
<circle cx="616.00" cy="106.37" r="1.15" fill="#f7891f" stroke="none" stroke-width="1" />
<circle cx="630.19" cy="91.68" r="1.15" fill="#f7891f" stroke="none" stroke-width="1" />
<circle cx="614.37" cy="109.35" r="1.15" fill="#f7891f" stroke="none" stroke-width="1" />
<circle cx="617.29" cy="100.54" r="1.15" fill="#f7891f" stroke="none" stroke-width="1" />
<circle cx="632.82" cy="119.01" r="1.15" fill="#f7891f" stroke="none" stroke-width="1" />
<circle cx="639.35" cy="95.74" r="1.15" fill="#f7891f" stroke="none" stroke-width="1" />
<circle cx="644.62" cy="113.05" r="1.15" fill="#f7891f" stroke="none" stroke-width="1" />
<circle cx="623.76" cy="110.06" r="1.15" fill="#f7891f" stroke="none" stroke-width="1" />
<circle cx="639.32" cy="124.52" r="1.15" fill="#f7891f" stroke="none" stroke-width="1" />
<circle cx="612.93" cy="107.46" r="1.15" fill="#f7891f" stroke="none" stroke-width="1" />
<circle cx="623.98" cy="96.85" r="1.15" fill="#f7891f" stroke="none" stroke-width="1" />
<circle cx="610.29" cy="109.51" r="1.15" fill="#f7891f" stroke="none" stroke-width="1" />
<circle cx="629.59" cy="70.91" r="1.15" fill="#f7891f" stroke="none" stroke-width="1" />
<circle cx="631.76" cy="86.15" r="1.15" fill="#f7891f" stroke="none" stroke-width="1" />
<circle cx="640.43" cy="118.86" r="1.15" fill="#f7891f" stroke="none" stroke-width="1" />
<circle cx="630.42" cy="99.92" r="1.15" fill="#f7891f" stroke="none" stroke-width="1" />
<circle cx="643.38" cy="112.45" r="1.15" fill="#f7891f" stroke="none" stroke-width="1" />
<circle cx="630.10" cy="95.84" r="1.15" fill="#f7891f" stroke="none" stroke-width="1" />
<circle cx="639.49" cy="124.33" r="1.15" fill="#f7891f" stroke="none" stroke-width="1" />
<circle cx="634.85" cy="103.06" r="1.15" fill="#f7891f" stroke="none" stroke-width="1" />
<circle cx="632.40" cy="103.80" r="1.15" fill="#f7891f" stroke="none" stroke-width="1" />
<circle cx="621.24" cy="121.68" r="1.15" fill="#f7891f" stroke="none" stroke-width="1" />
<circle cx="630.77" cy="79.13" r="1.15" fill="#f7891f" stroke="none" stroke-width="1" />
<circle cx="628.56" cy="112.21" r="1.15" fill="#f7891f" stroke="none" stroke-width="1" />
<circle cx="642.24" cy="102.80" r="1.15" fill="#f7891f" stroke="none" stroke-width="1" />
<circle cx="619.40" cy="106.65" r="1.15" fill="#f7891f" stroke="none" stroke-width="1" />
<circle cx="630.10" cy="129.55" r="1.15" fill="#f7891f" stroke="none" stroke-width="1" />
<circle cx="644.58" cy="106.64" r="1.15" fill="#f7891f" stroke="none" stroke-width="1" />
<circle cx="613.32" cy="110.79" r="1.15" fill="#f7891f" stroke="none" stroke-width="1" />
<circle cx="632.50" cy="104.89" r="1.15" fill="#f7891f" stroke="none" stroke-width="1" />
<circle cx="620.78" cy="119.02" r="1.15" fill="#f7891f" stroke="none" stroke-width="1" />
<circle cx="638.06" cy="106.41" r="1.15" fill="#f7891f" stroke="none" stroke-width="1" />
<circle cx="633.51" cy="100.11" r="1.15" fill="#f7891f" stroke="none" stroke-width="1" />
<circle cx="613.56" cy="107.00" r="1.15" fill="#f7891f" stroke="none" stroke-width="1" />
<circle cx="640.37" cy="114.17" r="1.15" fill="#f7891f" stroke="none" stroke-width="1" />
<circle cx="629.95" cy="126.88" r="1.15" fill="#f7891f" stroke="none" stroke-width="1" />
<circle cx="625.18" cy="120.72" r="1.15" fill="#f7891f" stroke="none" stroke-width="1" />
<circle cx="641.96" cy="101.53" r="1.15" fill="#f7891f" stroke="none" stroke-width="1" />
<circle cx="633.11" cy="86.72" r="1.15" fill="#f7891f" stroke="none" stroke-width="1" />
<circle cx="627.56" cy="95.64" r="1.15" fill="#f7891f" stroke="none" stroke-width="1" />
<circle cx="638.43" cy="109.79" r="1.15" fill="#f7891f" stroke="none" stroke-width="1" />
<circle cx="615.57" cy="111.43" r="1.15" fill="#f7891f" stroke="none" stroke-width="1" />
<circle cx="631.81" cy="108.37" r="1.15" fill="#f7891f" stroke="none" stroke-width="1" />
<circle cx="613.18" cy="108.50" r="1.15" fill="#f7891f" stroke="none" stroke-width="1" />
<circle cx="636.97" cy="106.02" r="1.15" fill="#f7891f" stroke="none" stroke-width="1" />
<circle cx="632.13" cy="75.28" r="1.15" fill="#f7891f" stroke="none" stroke-width="1" />
<circle cx="636.56" cy="113.26" r="1.15" fill="#f7891f" stroke="none" stroke-width="1" />
<circle cx="611.76" cy="109.66" r="1.15" fill="#f7891f" stroke="none" stroke-width="1" />
<circle cx="631.53" cy="104.72" r="1.15" fill="#f7891f" stroke="none" stroke-width="1" />
<circle cx="630.42" cy="124.72" r="1.15" fill="#f7891f" stroke="none" stroke-width="1" />
<circle cx="630.45" cy="90.71" r="1.15" fill="#f7891f" stroke="none" stroke-width="1" />
<circle cx="621.28" cy="122.21" r="1.15" fill="#f7891f" stroke="none" stroke-width="1" />
<circle cx="624.49" cy="121.76" r="1.15" fill="#f7891f" stroke="none" stroke-width="1" />
<circle cx="630.28" cy="93.55" r="1.15" fill="#f7891f" stroke="none" stroke-width="1" />
<circle cx="624.22" cy="94.39" r="1.15" fill="#f7891f" stroke="none" stroke-width="1" />
<circle cx="635.86" cy="122.21" r="1.15" fill="#f7891f" stroke="none" stroke-width="1" />
<circle cx="630.26" cy="69.34" r="1.15" fill="#f7891f" stroke="none" stroke-width="1" />
<circle cx="623.43" cy="119.19" r="1.15" fill="#f7891f" stroke="none" stroke-width="1" />
<circle cx="613.59" cy="108.69" r="1.15" fill="#f7891f" stroke="none" stroke-width="1" />
<circle cx="629.45" cy="87.95" r="1.15" fill="#f7891f" stroke="none" stroke-width="1" />
<circle cx="648.33" cy="104.70" r="1.15" fill="#f7891f" stroke="none" stroke-width="1" />
<circle cx="624.81" cy="121.64" r="1.15" fill="#f7891f" stroke="none" stroke-width="1" />
<circle cx="625.16" cy="93.68" r="1.15" fill="#f7891f" stroke="none" stroke-width="1" />
<circle cx="627.80" cy="124.20" r="1.15" fill="#f7891f" stroke="none" stroke-width="1" />
<circle cx="634.37" cy="86.72" r="1.15" fill="#f7891f" stroke="none" stroke-width="1" />
<circle cx="616.42" cy="119.53" r="1.15" fill="#f7891f" stroke="none" stroke-width="1" />
<circle cx="624.58" cy="113.48" r="1.15" fill="#f7891f" stroke="none" stroke-width="1" />
<circle cx="619.05" cy="111.17" r="1.15" fill="#f7891f" stroke="none" stroke-width="1" />
<circle cx="632.27" cy="84.94" r="1.15" fill="#f7891f" stroke="none" stroke-width="1" />
<circle cx="629.44" cy="114.06" r="1.15" fill="#f7891f" stroke="none" stroke-width="1" />
<circle cx="619.53" cy="122.01" r="1.15" fill="#f7891f" stroke="none" stroke-width="1" />
<circle cx="645.59" cy="115.59" r="1.15" fill="#f7891f" stroke="none" stroke-width="1" />
<circle cx="625.44" cy="120.78" r="1.15" fill="#f7891f" stroke="none" stroke-width="1" />
<circle cx="638.09" cy="117.97" r="1.15" fill="#f7891f" stroke="none" stroke-width="1" />
<circle cx="629.40" cy="120.21" r="1.15" fill="#f7891f" stroke="none" stroke-width="1" />
<circle cx="643.58" cy="120.20" r="1.15" fill="#f7891f" stroke="none" stroke-width="1" />
<circle cx="612.16" cy="108.57" r="1.15" fill="#f7891f" stroke="none" stroke-width="1" />
<circle cx="621.01" cy="103.41" r="1.15" fill="#f7891f" stroke="none" stroke-width="1" />
<circle cx="629.32" cy="87.93" r="1.15" fill="#f7891f" stroke="none" stroke-width="1" />
<circle cx="621.37" cy="111.93" r="1.15" fill="#f7891f" stroke="none" stroke-width="1" />
<circle cx="644.78" cy="108.29" r="1.15" fill="#f7891f" stroke="none" stroke-width="1" />
<circle cx="631.10" cy="107.70" r="1.15" fill="#f7891f" stroke="none" stroke-width="1" />
<circle cx="625.71" cy="102.71" r="1.15" fill="#f7891f" stroke="none" stroke-width="1" />
<circle cx="631.29" cy="106.83" r="1.15" fill="#f7891f" stroke="none" stroke-width="1" />
<circle cx="645.87" cy="107.32" r="1.15" fill="#f7891f" stroke="none" stroke-width="1" />
<circle cx="633.69" cy="117.67" r="1.15" fill="#f7891f" stroke="none" stroke-width="1" />
<circle cx="630.85" cy="73.57" r="1.15" fill="#f7891f" stroke="none" stroke-width="1" />
<circle cx="637.57" cy="109.65" r="1.15" fill="#f7891f" stroke="none" stroke-width="1" />
<circle cx="633.22" cy="96.35" r="1.15" fill="#f7891f" stroke="none" stroke-width="1" />
<circle cx="629.86" cy="92.40" r="1.15" fill="#f7891f" stroke="none" stroke-width="1" />
<circle cx="627.83" cy="107.53" r="1.15" fill="#f7891f" stroke="none" stroke-width="1" />
<circle cx="615.98" cy="112.69" r="1.15" fill="#f7891f" stroke="none" stroke-width="1" />
<circle cx="628.51" cy="112.33" r="1.15" fill="#f7891f" stroke="none" stroke-width="1" />
<circle cx="643.71" cy="120.32" r="1.15" fill="#f7891f" stroke="none" stroke-width="1" />
<circle cx="623.70" cy="118.31" r="1.15" fill="#f7891f" stroke="none" stroke-width="1" />
<circle cx="626.71" cy="120.96" r="1.15" fill="#f7891f" stroke="none" stroke-width="1" />
<circle cx="635.21" cy="104.96" r="1.15" fill="#f7891f" stroke="none" stroke-width="1" />
<circle cx="634.58" cy="116.61" r="1.15" fill="#f7891f" stroke="none" stroke-width="1" />
<circle cx="618.08" cy="116.33" r="1.15" fill="#f7891f" stroke="none" stroke-width="1" />
<circle cx="628.82" cy="115.39" r="1.15" fill="#f7891f" stroke="none" stroke-width="1" />
<circle cx="640.75" cy="109.99" r="1.15" fill="#f7891f" stroke="none" stroke-width="1" />
<circle cx="619.58" cy="99.42" r="1.15" fill="#f7891f" stroke="none" stroke-width="1" />
<circle cx="615.05" cy="113.39" r="1.15" fill="#f7891f" stroke="none" stroke-width="1" />
<circle cx="638.07" cy="122.27" r="1.15" fill="#f7891f" stroke="none" stroke-width="1" />
<circle cx="642.02" cy="100.33" r="1.15" fill="#f7891f" stroke="none" stroke-width="1" />
<circle cx="620.39" cy="99.27" r="1.15" fill="#f7891f" stroke="none" stroke-width="1" />
<circle cx="613.86" cy="111.47" r="1.15" fill="#f7891f" stroke="none" stroke-width="1" />
<circle cx="636.13" cy="114.94" r="1.15" fill="#f7891f" stroke="none" stroke-width="1" />
<circle cx="622.23" cy="114.08" r="1.15" fill="#f7891f" stroke="none" stroke-width="1" />
<circle cx="637.43" cy="111.17" r="1.15" fill="#f7891f" stroke="none" stroke-width="1" />
<circle cx="612.54" cy="104.46" r="1.15" fill="#f7891f" stroke="none" stroke-width="1" />
<circle cx="629.21" cy="110.92" r="1.15" fill="#f7891f" stroke="none" stroke-width="1" />
<circle cx="625.41" cy="94.77" r="1.15" fill="#f7891f" stroke="none" stroke-width="1" />
<circle cx="627.57" cy="97.05" r="1.15" fill="#f7891f" stroke="none" stroke-width="1" />
<circle cx="639.27" cy="106.38" r="1.15" fill="#f7891f" stroke="none" stroke-width="1" />
<circle cx="631.22" cy="124.01" r="1.15" fill="#f7891f" stroke="none" stroke-width="1" />
<circle cx="646.07" cy="108.57" r="1.15" fill="#f7891f" stroke="none" stroke-width="1" />
<circle cx="632.00" cy="69.54" r="1.15" fill="#f7891f" stroke="none" stroke-width="1" />
<circle cx="635.72" cy="116.65" r="1.15" fill="#f7891f" stroke="none" stroke-width="1" />
<circle cx="643.02" cy="102.72" r="1.15" fill="#f7891f" stroke="none" stroke-width="1" />
<circle cx="617.63" cy="110.33" r="1.15" fill="#f7891f" stroke="none" stroke-width="1" />
<circle cx="629.99" cy="116.46" r="1.15" fill="#f7891f" stroke="none" stroke-width="1" />
<circle cx="624.51" cy="119.26" r="1.15" fill="#f7891f" stroke="none" stroke-width="1" />
<circle cx="636.08" cy="114.64" r="1.15" fill="#f7891f" stroke="none" stroke-width="1" />
<circle cx="615.96" cy="117.52" r="1.15" fill="#f7891f" stroke="none" stroke-width="1" />
<circle cx="646.76" cy="111.68" r="1.15" fill="#f7891f" stroke="none" stroke-width="1" />
<circle cx="629.14" cy="93.65" r="1.15" fill="#f7891f" stroke="none" stroke-width="1" />
<circle cx="643.20" cy="107.33" r="1.15" fill="#f7891f" stroke="none" stroke-width="1" />
<circle cx="644.97" cy="121.05" r="1.15" fill="#f7891f" stroke="none" stroke-width="1" />
<circle cx="649.93" cy="107.76" r="1.15" fill="#f7891f" stroke="none" stroke-width="1" />
<circle cx="627.38" cy="102.22" r="1.15" fill="#f7891f" stroke="none" stroke-width="1" />
<circle cx="644.91" cy="117.28" r="1.15" fill="#f7891f" stroke="none" stroke-width="1" />
<circle cx="652.35" cy="107.93" r="1.15" fill="#f7891f" stroke="none" stroke-width="1" />
<circle cx="618.18" cy="102.75" r="1.15" fill="#f7891f" stroke="none" stroke-width="1" />
<circle cx="638.67" cy="121.24" r="1.15" fill="#f7891f" stroke="none" stroke-width="1" />
<circle cx="640.77" cy="106.86" r="1.15" fill="#f7891f" stroke="none" stroke-width="1" />
<circle cx="629.69" cy="101.61" r="1.15" fill="#f7891f" stroke="none" stroke-width="1" />
<circle cx="622.00" cy="114.90" r="1.15" fill="#f7891f" stroke="none" stroke-width="1" />
<circle cx="629.42" cy="81.65" r="1.15" fill="#f7891f" stroke="none" stroke-width="1" />
<circle cx="628.66" cy="100.05" r="1.15" fill="#f7891f" stroke="none" stroke-width="1" />
<circle cx="646.96" cy="118.72" r="1.15" fill="#f7891f" stroke="none" stroke-width="1" />
<circle cx="630.37" cy="83.89" r="1.15" fill="#f7891f" stroke="none" stroke-width="1" />
<circle cx="621.02" cy="112.73" r="1.15" fill="#f7891f" stroke="none" stroke-width="1" />
<circle cx="636.14" cy="107.79" r="1.15" fill="#f7891f" stroke="none" stroke-width="1" />
<circle cx="628.37" cy="109.56" r="1.15" fill="#f7891f" stroke="none" stroke-width="1" />
<circle cx="632.93" cy="95.05" r="1.15" fill="#f7891f" stroke="none" stroke-width="1" />
<circle cx="629.15" cy="113.23" r="1.15" fill="#f7891f" stroke="none" stroke-width="1" />
<circle cx="630.08" cy="80.94" r="1.15" fill="#f7891f" stroke="none" stroke-width="1" />
<circle cx="617.15" cy="121.62" r="1.15" fill="#f7891f" stroke="none" stroke-width="1" />
<circle cx="644.68" cy="106.79" r="1.15" fill="#f7891f" stroke="none" stroke-width="1" />
<circle cx="637.46" cy="114.43" r="1.15" fill="#f7891f" stroke="none" stroke-width="1" />
<circle cx="620.55" cy="112.79" r="1.15" fill="#f7891f" stroke="none" stroke-width="1" />
<circle cx="630.97" cy="115.42" r="1.15" fill="#f7891f" stroke="none" stroke-width="1" />
<circle cx="632.55" cy="124.65" r="1.15" fill="#f7891f" stroke="none" stroke-width="1" />
<circle cx="631.15" cy="114.84" r="1.15" fill="#f7891f" stroke="none" stroke-width="1" />
<circle cx="632.23" cy="73.51" r="1.15" fill="#f7891f" stroke="none" stroke-width="1" />
<circle cx="635.59" cy="94.75" r="1.15" fill="#f7891f" stroke="none" stroke-width="1" />
<circle cx="622.76" cy="106.20" r="1.15" fill="#f7891f" stroke="none" stroke-width="1" />
<circle cx="624.41" cy="111.86" r="1.15" fill="#f7891f" stroke="none" stroke-width="1" />
<circle cx="634.68" cy="102.21" r="1.15" fill="#f7891f" stroke="none" stroke-width="1" />
<circle cx="616.51" cy="108.02" r="1.15" fill="#f7891f" stroke="none" stroke-width="1" />
<circle cx="648.13" cy="116.77" r="1.15" fill="#f7891f" stroke="none" stroke-width="1" />
<circle cx="612.47" cy="113.45" r="1.15" fill="#f7891f" stroke="none" stroke-width="1" />
<circle cx="630.98" cy="105.50" r="1.15" fill="#f7891f" stroke="none" stroke-width="1" />
<circle cx="621.96" cy="116.21" r="1.15" fill="#f7891f" stroke="none" stroke-width="1" />
<circle cx="632.06" cy="113.39" r="1.15" fill="#f7891f" stroke="none" stroke-width="1" />
<circle cx="614.41" cy="103.33" r="1.15" fill="#f7891f" stroke="none" stroke-width="1" />
<circle cx="626.79" cy="94.10" r="1.15" fill="#f7891f" stroke="none" stroke-width="1" />
<circle cx="651.21" cy="110.56" r="1.15" fill="#f7891f" stroke="none" stroke-width="1" />
<circle cx="642.71" cy="114.37" r="1.15" fill="#f7891f" stroke="none" stroke-width="1" />
<circle cx="627.74" cy="92.16" r="1.15" fill="#f7891f" stroke="none" stroke-width="1" />
<circle cx="630.70" cy="84.52" r="1.15" fill="#f7891f" stroke="none" stroke-width="1" />
<circle cx="611.61" cy="110.31" r="1.15" fill="#f7891f" stroke="none" stroke-width="1" />
<circle cx="623.20" cy="97.17" r="1.15" fill="#f7891f" stroke="none" stroke-width="1" />
<circle cx="618.62" cy="115.74" r="1.15" fill="#f7891f" stroke="none" stroke-width="1" />
<circle cx="645.49" cy="121.59" r="1.15" fill="#f7891f" stroke="none" stroke-width="1" />
<circle cx="625.96" cy="100.19" r="1.15" fill="#f7891f" stroke="none" stroke-width="1" />
<circle cx="620.20" cy="106.50" r="1.15" fill="#f7891f" stroke="none" stroke-width="1" />
<circle cx="613.29" cy="113.82" r="1.15" fill="#f7891f" stroke="none" stroke-width="1" />
<circle cx="615.76" cy="117.17" r="1.15" fill="#f7891f" stroke="none" stroke-width="1" />
<circle cx="634.64" cy="85.88" r="1.15" fill="#f7891f" stroke="none" stroke-width="1" />
<circle cx="641.25" cy="106.31" r="1.15" fill="#f7891f" stroke="none" stroke-width="1" />
<circle cx="649.07" cy="107.58" r="1.15" fill="#f7891f" stroke="none" stroke-width="1" />
<circle cx="644.66" cy="114.17" r="1.15" fill="#f7891f" stroke="none" stroke-width="1" />
<circle cx="641.76" cy="103.87" r="1.15" fill="#f7891f" stroke="none" stroke-width="1" />
<circle cx="621.00" cy="112.31" r="1.15" fill="#f7891f" stroke="none" stroke-width="1" />
<circle cx="617.56" cy="114.59" r="1.15" fill="#f7891f" stroke="none" stroke-width="1" />
<circle cx="621.79" cy="116.03" r="1.15" fill="#f7891f" stroke="none" stroke-width="1" />
<circle cx="621.32" cy="98.13" r="1.15" fill="#f7891f" stroke="none" stroke-width="1" />
<circle cx="617.93" cy="115.57" r="1.15" fill="#f7891f" stroke="none" stroke-width="1" />
<circle cx="640.19" cy="105.57" r="1.15" fill="#f7891f" stroke="none" stroke-width="1" />
<circle cx="630.70" cy="120.55" r="1.15" fill="#f7891f" stroke="none" stroke-width="1" />
<circle cx="612.92" cy="118.74" r="1.15" fill="#f7891f" stroke="none" stroke-width="1" />
<circle cx="623.71" cy="118.48" r="1.15" fill="#f7891f" stroke="none" stroke-width="1" />
<circle cx="644.87" cy="116.50" r="1.15" fill="#f7891f" stroke="none" stroke-width="1" />
<circle cx="643.97" cy="118.72" r="1.15" fill="#f7891f" stroke="none" stroke-width="1" />
<circle cx="640.85" cy="108.04" r="1.15" fill="#f7891f" stroke="none" stroke-width="1" />
<circle cx="640.92" cy="106.61" r="1.15" fill="#f7891f" stroke="none" stroke-width="1" />
<circle cx="647.29" cy="116.64" r="1.15" fill="#f7891f" stroke="none" stroke-width="1" />
<circle cx="633.38" cy="110.02" r="1.15" fill="#f7891f" stroke="none" stroke-width="1" />
<circle cx="626.21" cy="105.13" r="1.15" fill="#f7891f" stroke="none" stroke-width="1" />
<circle cx="633.90" cy="116.54" r="1.15" fill="#f7891f" stroke="none" stroke-width="1" />
<circle cx="621.73" cy="108.61" r="1.15" fill="#f7891f" stroke="none" stroke-width="1" />
<circle cx="613.29" cy="103.92" r="1.15" fill="#f7891f" stroke="none" stroke-width="1" />
<circle cx="624.00" cy="101.02" r="1.15" fill="#f7891f" stroke="none" stroke-width="1" />
<circle cx="629.27" cy="113.65" r="1.15" fill="#f7891f" stroke="none" stroke-width="1" />
<circle cx="621.48" cy="99.49" r="1.15" fill="#f7891f" stroke="none" stroke-width="1" />
<circle cx="618.76" cy="101.03" r="1.15" fill="#f7891f" stroke="none" stroke-width="1" />
<circle cx="627.09" cy="94.21" r="1.15" fill="#f7891f" stroke="none" stroke-width="1" />
<circle cx="625.82" cy="104.32" r="1.15" fill="#f7891f" stroke="none" stroke-width="1" />
<circle cx="633.73" cy="83.22" r="1.15" fill="#f7891f" stroke="none" stroke-width="1" />
<circle cx="630.60" cy="121.35" r="1.15" fill="#f7891f" stroke="none" stroke-width="1" />
<circle cx="644.53" cy="104.69" r="1.15" fill="#f7891f" stroke="none" stroke-width="1" />
<circle cx="635.76" cy="96.48" r="1.15" fill="#f7891f" stroke="none" stroke-width="1" />
<circle cx="631.75" cy="88.78" r="1.15" fill="#f7891f" stroke="none" stroke-width="1" />
<circle cx="623.83" cy="115.44" r="1.15" fill="#f7891f" stroke="none" stroke-width="1" />
<circle cx="626.38" cy="107.28" r="1.15" fill="#f7891f" stroke="none" stroke-width="1" />
<circle cx="623.53" cy="105.01" r="1.15" fill="#f7891f" stroke="none" stroke-width="1" />
<circle cx="632.01" cy="86.45" r="1.15" fill="#f7891f" stroke="none" stroke-width="1" />
<circle cx="642.10" cy="101.70" r="1.15" fill="#f7891f" stroke="none" stroke-width="1" />
<circle cx="643.49" cy="107.88" r="1.15" fill="#f7891f" stroke="none" stroke-width="1" />
<circle cx="625.55" cy="122.57" r="1.15" fill="#f7891f" stroke="none" stroke-width="1" />
<circle cx="619.78" cy="101.93" r="1.15" fill="#f7891f" stroke="none" stroke-width="1" />
<circle cx="622.88" cy="125.35" r="1.15" fill="#f7891f" stroke="none" stroke-width="1" />
<circle cx="634.27" cy="117.51" r="1.15" fill="#f7891f" stroke="none" stroke-width="1" />
<circle cx="619.65" cy="109.89" r="1.15" fill="#f7891f" stroke="none" stroke-width="1" />
<circle cx="615.48" cy="101.73" r="1.15" fill="#f7891f" stroke="none" stroke-width="1" />
<circle cx="622.49" cy="107.89" r="1.15" fill="#f7891f" stroke="none" stroke-width="1" />
<circle cx="620.66" cy="118.00" r="1.15" fill="#f7891f" stroke="none" stroke-width="1" />
<circle cx="618.86" cy="110.87" r="1.15" fill="#f7891f" stroke="none" stroke-width="1" />
<circle cx="638.07" cy="107.29" r="1.15" fill="#f7891f" stroke="none" stroke-width="1" />
<circle cx="634.36" cy="116.28" r="1.15" fill="#f7891f" stroke="none" stroke-width="1" />
<circle cx="622.03" cy="111.08" r="1.15" fill="#f7891f" stroke="none" stroke-width="1" />
<circle cx="640.77" cy="106.00" r="1.15" fill="#f7891f" stroke="none" stroke-width="1" />
<circle cx="618.38" cy="107.31" r="1.15" fill="#f7891f" stroke="none" stroke-width="1" />
<circle cx="638.99" cy="96.17" r="1.15" fill="#f7891f" stroke="none" stroke-width="1" />
<circle cx="614.77" cy="106.20" r="1.15" fill="#f7891f" stroke="none" stroke-width="1" />
<circle cx="633.98" cy="102.06" r="1.15" fill="#f7891f" stroke="none" stroke-width="1" />
<circle cx="634.58" cy="95.29" r="1.15" fill="#f7891f" stroke="none" stroke-width="1" />
<circle cx="637.69" cy="100.89" r="1.15" fill="#f7891f" stroke="none" stroke-width="1" />
<circle cx="630.49" cy="104.53" r="1.15" fill="#f7891f" stroke="none" stroke-width="1" />
<circle cx="640.59" cy="99.81" r="1.15" fill="#f7891f" stroke="none" stroke-width="1" />
<circle cx="636.18" cy="115.86" r="1.15" fill="#f7891f" stroke="none" stroke-width="1" />
<circle cx="638.73" cy="115.02" r="1.15" fill="#f7891f" stroke="none" stroke-width="1" />
<circle cx="612.96" cy="108.19" r="1.15" fill="#f7891f" stroke="none" stroke-width="1" />
<circle cx="617.63" cy="108.48" r="1.15" fill="#f7891f" stroke="none" stroke-width="1" />
<circle cx="630.31" cy="96.84" r="1.15" fill="#f7891f" stroke="none" stroke-width="1" />
<circle cx="631.68" cy="125.77" r="1.15" fill="#f7891f" stroke="none" stroke-width="1" />
<circle cx="623.31" cy="96.19" r="1.15" fill="#f7891f" stroke="none" stroke-width="1" />
<circle cx="640.71" cy="115.78" r="1.15" fill="#f7891f" stroke="none" stroke-width="1" />
<circle cx="625.68" cy="102.75" r="1.15" fill="#f7891f" stroke="none" stroke-width="1" />
<circle cx="630.45" cy="98.08" r="1.15" fill="#f7891f" stroke="none" stroke-width="1" />
<circle cx="631.86" cy="117.05" r="1.15" fill="#f7891f" stroke="none" stroke-width="1" />
<circle cx="645.44" cy="106.24" r="1.15" fill="#f7891f" stroke="none" stroke-width="1" />
<circle cx="623.02" cy="104.77" r="1.15" fill="#f7891f" stroke="none" stroke-width="1" />
<circle cx="633.09" cy="102.83" r="1.15" fill="#f7891f" stroke="none" stroke-width="1" />
<circle cx="635.41" cy="105.57" r="1.15" fill="#f7891f" stroke="none" stroke-width="1" />
<circle cx="637.34" cy="112.76" r="1.15" fill="#f7891f" stroke="none" stroke-width="1" />
<circle cx="626.13" cy="99.86" r="1.15" fill="#f7891f" stroke="none" stroke-width="1" />
<circle cx="621.65" cy="105.96" r="1.15" fill="#f7891f" stroke="none" stroke-width="1" />
<circle cx="629.80" cy="104.83" r="1.15" fill="#f7891f" stroke="none" stroke-width="1" />
<circle cx="634.30" cy="120.64" r="1.15" fill="#f7891f" stroke="none" stroke-width="1" />
<circle cx="636.54" cy="117.84" r="1.15" fill="#f7891f" stroke="none" stroke-width="1" />
<circle cx="619.23" cy="120.84" r="1.15" fill="#f7891f" stroke="none" stroke-width="1" />
<circle cx="629.32" cy="101.65" r="1.15" fill="#f7891f" stroke="none" stroke-width="1" />
<circle cx="632.03" cy="125.18" r="1.15" fill="#f7891f" stroke="none" stroke-width="1" />
<circle cx="622.61" cy="122.32" r="1.15" fill="#f7891f" stroke="none" stroke-width="1" />
<circle cx="629.16" cy="81.35" r="1.15" fill="#f7891f" stroke="none" stroke-width="1" />
<circle cx="648.94" cy="105.57" r="1.15" fill="#f7891f" stroke="none" stroke-width="1" />
<circle cx="610.39" cy="106.92" r="1.15" fill="#f7891f" stroke="none" stroke-width="1" />
<circle cx="630.99" cy="87.87" r="1.15" fill="#f7891f" stroke="none" stroke-width="1" />
<circle cx="622.40" cy="105.60" r="1.15" fill="#f7891f" stroke="none" stroke-width="1" />
<circle cx="615.64" cy="120.62" r="1.15" fill="#f7891f" stroke="none" stroke-width="1" />
<circle cx="621.27" cy="109.09" r="1.15" fill="#f7891f" stroke="none" stroke-width="1" />
<circle cx="620.93" cy="101.22" r="1.15" fill="#f7891f" stroke="none" stroke-width="1" />
<circle cx="628.95" cy="124.27" r="1.15" fill="#f7891f" stroke="none" stroke-width="1" />
<circle cx="647.67" cy="114.35" r="1.15" fill="#f7891f" stroke="none" stroke-width="1" />
<circle cx="613.92" cy="104.90" r="1.15" fill="#f7891f" stroke="none" stroke-width="1" />
<circle cx="624.64" cy="108.16" r="1.15" fill="#f7891f" stroke="none" stroke-width="1" />
<circle cx="638.33" cy="118.32" r="1.15" fill="#f7891f" stroke="none" stroke-width="1" />
<circle cx="636.08" cy="114.11" r="1.15" fill="#f7891f" stroke="none" stroke-width="1" />
<circle cx="611.28" cy="110.93" r="1.15" fill="#f7891f" stroke="none" stroke-width="1" />
<circle cx="621.16" cy="119.09" r="1.15" fill="#f7891f" stroke="none" stroke-width="1" />
<circle cx="622.25" cy="116.11" r="1.15" fill="#f7891f" stroke="none" stroke-width="1" />
<circle cx="644.41" cy="102.53" r="1.15" fill="#f7891f" stroke="none" stroke-width="1" />
<circle cx="628.66" cy="115.22" r="1.15" fill="#f7891f" stroke="none" stroke-width="1" />
<circle cx="621.32" cy="104.59" r="1.15" fill="#f7891f" stroke="none" stroke-width="1" />
<circle cx="630.75" cy="126.45" r="1.15" fill="#f7891f" stroke="none" stroke-width="1" />
<circle cx="630.40" cy="114.97" r="1.15" fill="#f7891f" stroke="none" stroke-width="1" />
<circle cx="616.70" cy="112.43" r="1.15" fill="#f7891f" stroke="none" stroke-width="1" />
<circle cx="637.26" cy="118.40" r="1.15" fill="#f7891f" stroke="none" stroke-width="1" />
<circle cx="635.95" cy="98.20" r="1.15" fill="#f7891f" stroke="none" stroke-width="1" />
<circle cx="630.02" cy="106.63" r="1.15" fill="#f7891f" stroke="none" stroke-width="1" />
<circle cx="632.61" cy="107.06" r="1.15" fill="#f7891f" stroke="none" stroke-width="1" />
<circle cx="641.80" cy="104.58" r="1.15" fill="#f7891f" stroke="none" stroke-width="1" />
<circle cx="645.08" cy="101.57" r="1.15" fill="#f7891f" stroke="none" stroke-width="1" />
<circle cx="635.60" cy="113.34" r="1.15" fill="#f7891f" stroke="none" stroke-width="1" />
<circle cx="613.00" cy="116.72" r="1.15" fill="#f7891f" stroke="none" stroke-width="1" />
<circle cx="631.17" cy="102.32" r="1.15" fill="#f7891f" stroke="none" stroke-width="1" />
<circle cx="637.63" cy="111.90" r="1.15" fill="#f7891f" stroke="none" stroke-width="1" />
<circle cx="625.04" cy="119.60" r="1.15" fill="#f7891f" stroke="none" stroke-width="1" />
<circle cx="638.80" cy="105.96" r="1.15" fill="#f7891f" stroke="none" stroke-width="1" />
<circle cx="626.13" cy="118.79" r="1.15" fill="#f7891f" stroke="none" stroke-width="1" />
<circle cx="635.99" cy="108.11" r="1.15" fill="#f7891f" stroke="none" stroke-width="1" />
<circle cx="633.46" cy="97.70" r="1.15" fill="#f7891f" stroke="none" stroke-width="1" />
<circle cx="637.93" cy="113.64" r="1.15" fill="#f7891f" stroke="none" stroke-width="1" />
<circle cx="647.45" cy="117.54" r="1.15" fill="#f7891f" stroke="none" stroke-width="1" />
<circle cx="635.52" cy="123.93" r="1.15" fill="#f7891f" stroke="none" stroke-width="1" />
<circle cx="637.92" cy="120.50" r="1.15" fill="#f7891f" stroke="none" stroke-width="1" />
<circle cx="639.70" cy="108.60" r="1.15" fill="#f7891f" stroke="none" stroke-width="1" />
<circle cx="619.89" cy="110.74" r="1.15" fill="#f7891f" stroke="none" stroke-width="1" />
<circle cx="633.50" cy="97.92" r="1.15" fill="#f7891f" stroke="none" stroke-width="1" />
<circle cx="636.18" cy="107.29" r="1.15" fill="#f7891f" stroke="none" stroke-width="1" />
<circle cx="621.37" cy="97.95" r="1.15" fill="#f7891f" stroke="none" stroke-width="1" />
<circle cx="641.93" cy="107.06" r="1.15" fill="#f7891f" stroke="none" stroke-width="1" />
<circle cx="629.20" cy="84.16" r="1.15" fill="#f7891f" stroke="none" stroke-width="1" />
<circle cx="630.87" cy="125.27" r="1.15" fill="#f7891f" stroke="none" stroke-width="1" />
<circle cx="631.72" cy="121.42" r="1.15" fill="#f7891f" stroke="none" stroke-width="1" />
<circle cx="640.05" cy="113.81" r="1.15" fill="#f7891f" stroke="none" stroke-width="1" />
<circle cx="636.06" cy="96.23" r="1.15" fill="#f7891f" stroke="none" stroke-width="1" />
<circle cx="629.86" cy="119.42" r="1.15" fill="#f7891f" stroke="none" stroke-width="1" />
<circle cx="649.04" cy="105.11" r="1.15" fill="#f7891f" stroke="none" stroke-width="1" />
<circle cx="628.83" cy="103.88" r="1.15" fill="#f7891f" stroke="none" stroke-width="1" />
<circle cx="633.59" cy="117.31" r="1.15" fill="#f7891f" stroke="none" stroke-width="1" />
<circle cx="650.06" cy="117.45" r="1.15" fill="#f7891f" stroke="none" stroke-width="1" />
<circle cx="623.82" cy="113.20" r="1.15" fill="#f7891f" stroke="none" stroke-width="1" />
<circle cx="639.72" cy="113.51" r="1.15" fill="#f7891f" stroke="none" stroke-width="1" />
<circle cx="644.02" cy="122.01" r="1.15" fill="#f7891f" stroke="none" stroke-width="1" />
<circle cx="614.20" cy="115.25" r="1.15" fill="#f7891f" stroke="none" stroke-width="1" />
<circle cx="637.34" cy="123.62" r="1.15" fill="#f7891f" stroke="none" stroke-width="1" />
<circle cx="635.69" cy="121.27" r="1.15" fill="#f7891f" stroke="none" stroke-width="1" />
<circle cx="631.58" cy="93.82" r="1.15" fill="#f7891f" stroke="none" stroke-width="1" />
<circle cx="642.78" cy="114.17" r="1.15" fill="#f7891f" stroke="none" stroke-width="1" />
<circle cx="645.72" cy="111.77" r="1.15" fill="#f7891f" stroke="none" stroke-width="1" />
<circle cx="616.08" cy="109.18" r="1.15" fill="#f7891f" stroke="none" stroke-width="1" />
<circle cx="630.45" cy="105.04" r="1.15" fill="#f7891f" stroke="none" stroke-width="1" />
<circle cx="633.66" cy="123.59" r="1.15" fill="#f7891f" stroke="none" stroke-width="1" />
<circle cx="638.86" cy="116.67" r="1.15" fill="#f7891f" stroke="none" stroke-width="1" />
<circle cx="650.47" cy="106.09" r="1.15" fill="#f7891f" stroke="none" stroke-width="1" />
<circle cx="641.42" cy="119.98" r="1.15" fill="#f7891f" stroke="none" stroke-width="1" />
<circle cx="643.36" cy="118.30" r="1.15" fill="#f7891f" stroke="none" stroke-width="1" />
<circle cx="613.28" cy="114.19" r="1.15" fill="#f7891f" stroke="none" stroke-width="1" />
<circle cx="628.98" cy="100.42" r="1.15" fill="#f7891f" stroke="none" stroke-width="1" />
<circle cx="642.86" cy="121.97" r="1.15" fill="#f7891f" stroke="none" stroke-width="1" />
<circle cx="636.66" cy="92.73" r="1.15" fill="#f7891f" stroke="none" stroke-width="1" />
<circle cx="641.17" cy="116.44" r="1.15" fill="#f7891f" stroke="none" stroke-width="1" />
<circle cx="624.70" cy="103.79" r="1.15" fill="#f7891f" stroke="none" stroke-width="1" />
<circle cx="636.99" cy="123.81" r="1.15" fill="#f7891f" stroke="none" stroke-width="1" />
<circle cx="632.16" cy="118.92" r="1.15" fill="#f7891f" stroke="none" stroke-width="1" />
<circle cx="636.95" cy="103.02" r="1.15" fill="#f7891f" stroke="none" stroke-width="1" />
<circle cx="636.59" cy="114.43" r="1.15" fill="#f7891f" stroke="none" stroke-width="1" />
<circle cx="634.54" cy="90.81" r="1.15" fill="#f7891f" stroke="none" stroke-width="1" />
<circle cx="639.80" cy="111.12" r="1.15" fill="#f7891f" stroke="none" stroke-width="1" />
<circle cx="651.03" cy="108.66" r="1.15" fill="#f7891f" stroke="none" stroke-width="1" />
<circle cx="630.74" cy="114.82" r="1.15" fill="#f7891f" stroke="none" stroke-width="1" />
<circle cx="630.78" cy="102.48" r="1.15" fill="#f7891f" stroke="none" stroke-width="1" />
<circle cx="637.14" cy="117.23" r="1.15" fill="#f7891f" stroke="none" stroke-width="1" />
<circle cx="632.75" cy="122.10" r="1.15" fill="#f7891f" stroke="none" stroke-width="1" />
<circle cx="612.98" cy="104.60" r="1.15" fill="#f7891f" stroke="none" stroke-width="1" />
<circle cx="638.07" cy="125.68" r="1.15" fill="#f7891f" stroke="none" stroke-width="1" />
<circle cx="630.03" cy="82.33" r="1.15" fill="#f7891f" stroke="none" stroke-width="1" />
<circle cx="630.99" cy="123.86" r="1.15" fill="#f7891f" stroke="none" stroke-width="1" />
<circle cx="627.48" cy="87.20" r="1.15" fill="#f7891f" stroke="none" stroke-width="1" />
<circle cx="619.39" cy="118.40" r="1.15" fill="#f7891f" stroke="none" stroke-width="1" />
<circle cx="648.64" cy="105.17" r="1.15" fill="#f7891f" stroke="none" stroke-width="1" />
<circle cx="621.74" cy="105.43" r="1.15" fill="#f7891f" stroke="none" stroke-width="1" />
<circle cx="627.80" cy="94.43" r="1.15" fill="#f7891f" stroke="none" stroke-width="1" />
<circle cx="636.84" cy="96.02" r="1.15" fill="#f7891f" stroke="none" stroke-width="1" />
<circle cx="625.44" cy="124.00" r="1.15" fill="#f7891f" stroke="none" stroke-width="1" />
<circle cx="635.77" cy="122.03" r="1.15" fill="#f7891f" stroke="none" stroke-width="1" />
<circle cx="633.38" cy="119.80" r="1.15" fill="#f7891f" stroke="none" stroke-width="1" />
<circle cx="639.53" cy="124.00" r="1.15" fill="#f7891f" stroke="none" stroke-width="1" />
<circle cx="630.01" cy="106.48" r="1.15" fill="#f7891f" stroke="none" stroke-width="1" />
<circle cx="623.65" cy="106.65" r="1.15" fill="#f7891f" stroke="none" stroke-width="1" />
<circle cx="624.80" cy="99.78" r="1.15" fill="#f7891f" stroke="none" stroke-width="1" />
<circle cx="627.13" cy="122.04" r="1.15" fill="#f7891f" stroke="none" stroke-width="1" />
<circle cx="612.35" cy="103.60" r="1.15" fill="#f7891f" stroke="none" stroke-width="1" />
<circle cx="615.47" cy="112.40" r="1.15" fill="#f7891f" stroke="none" stroke-width="1" />
<circle cx="623.28" cy="97.96" r="1.15" fill="#f7891f" stroke="none" stroke-width="1" />
<circle cx="627.76" cy="95.29" r="1.15" fill="#f7891f" stroke="none" stroke-width="1" />
<circle cx="642.39" cy="108.91" r="1.15" fill="#f7891f" stroke="none" stroke-width="1" />
<circle cx="649.16" cy="111.08" r="1.15" fill="#f7891f" stroke="none" stroke-width="1" />
<circle cx="627.16" cy="122.66" r="1.15" fill="#f7891f" stroke="none" stroke-width="1" />
<circle cx="621.37" cy="104.02" r="1.15" fill="#f7891f" stroke="none" stroke-width="1" />
<circle cx="622.16" cy="108.34" r="1.15" fill="#f7891f" stroke="none" stroke-width="1" />
<circle cx="632.84" cy="125.99" r="1.15" fill="#f7891f" stroke="none" stroke-width="1" />
<circle cx="630.25" cy="102.95" r="1.15" fill="#f7891f" stroke="none" stroke-width="1" />
<circle cx="614.95" cy="109.57" r="1.15" fill="#f7891f" stroke="none" stroke-width="1" />
<circle cx="631.78" cy="120.61" r="1.15" fill="#f7891f" stroke="none" stroke-width="1" />
<circle cx="625.67" cy="98.55" r="1.15" fill="#f7891f" stroke="none" stroke-width="1" />
<circle cx="617.78" cy="118.62" r="1.15" fill="#f7891f" stroke="none" stroke-width="1" />
<circle cx="643.07" cy="105.95" r="1.15" fill="#f7891f" stroke="none" stroke-width="1" />
<circle cx="627.87" cy="88.24" r="1.15" fill="#f7891f" stroke="none" stroke-width="1" />
<circle cx="628.46" cy="105.60" r="1.15" fill="#f7891f" stroke="none" stroke-width="1" />
<circle cx="639.37" cy="101.76" r="1.15" fill="#f7891f" stroke="none" stroke-width="1" />
<circle cx="632.76" cy="110.97" r="1.15" fill="#f7891f" stroke="none" stroke-width="1" />
<circle cx="633.88" cy="87.28" r="1.15" fill="#f7891f" stroke="none" stroke-width="1" />
<circle cx="624.19" cy="103.59" r="1.15" fill="#f7891f" stroke="none" stroke-width="1" />
<circle cx="649.41" cy="110.70" r="1.15" fill="#f7891f" stroke="none" stroke-width="1" />
<circle cx="613.80" cy="118.27" r="1.15" fill="#f7891f" stroke="none" stroke-width="1" />
<circle cx="647.78" cy="108.84" r="1.15" fill="#f7891f" stroke="none" stroke-width="1" />
<circle cx="627.75" cy="106.80" r="1.15" fill="#f7891f" stroke="none" stroke-width="1" />
<circle cx="610.32" cy="110.07" r="1.15" fill="#f7891f" stroke="none" stroke-width="1" />
<circle cx="630.76" cy="60.08" r="1.15" fill="#f7891f" stroke="none" stroke-width="1" />
<circle cx="650.99" cy="105.04" r="1.15" fill="#f7891f" stroke="none" stroke-width="1" />
<circle cx="639.76" cy="104.85" r="1.15" fill="#f7891f" stroke="none" stroke-width="1" />
<circle cx="640.66" cy="113.97" r="1.15" fill="#f7891f" stroke="none" stroke-width="1" />
<circle cx="643.98" cy="109.87" r="1.15" fill="#f7891f" stroke="none" stroke-width="1" />
<circle cx="622.48" cy="95.18" r="1.15" fill="#f7891f" stroke="none" stroke-width="1" />
<circle cx="623.99" cy="103.27" r="1.15" fill="#f7891f" stroke="none" stroke-width="1" />
<circle cx="629.67" cy="117.40" r="1.15" fill="#f7891f" stroke="none" stroke-width="1" />
<circle cx="647.73" cy="111.83" r="1.15" fill="#f7891f" stroke="none" stroke-width="1" />
<circle cx="648.53" cy="106.79" r="1.15" fill="#f7891f" stroke="none" stroke-width="1" />
<circle cx="624.67" cy="95.63" r="1.15" fill="#f7891f" stroke="none" stroke-width="1" />
<circle cx="640.14" cy="124.75" r="1.15" fill="#f7891f" stroke="none" stroke-width="1" />
<circle cx="631.07" cy="62.27" r="1.15" fill="#f7891f" stroke="none" stroke-width="1" />
<circle cx="627.80" cy="125.40" r="1.15" fill="#f7891f" stroke="none" stroke-width="1" />
<circle cx="627.39" cy="89.72" r="1.15" fill="#f7891f" stroke="none" stroke-width="1" />
<circle cx="630.13" cy="92.24" r="1.15" fill="#f7891f" stroke="none" stroke-width="1" />
<circle cx="631.86" cy="109.98" r="1.15" fill="#f7891f" stroke="none" stroke-width="1" />
<circle cx="629.07" cy="105.31" r="1.15" fill="#f7891f" stroke="none" stroke-width="1" />
<circle cx="622.86" cy="107.97" r="1.15" fill="#f7891f" stroke="none" stroke-width="1" />
<circle cx="649.22" cy="114.13" r="1.15" fill="#f7891f" stroke="none" stroke-width="1" />
<circle cx="630.50" cy="97.05" r="1.15" fill="#f7891f" stroke="none" stroke-width="1" />
<circle cx="623.35" cy="104.53" r="1.15" fill="#f7891f" stroke="none" stroke-width="1" />
<circle cx="640.20" cy="120.48" r="1.15" fill="#f7891f" stroke="none" stroke-width="1" />
<circle cx="620.00" cy="107.66" r="1.15" fill="#f7891f" stroke="none" stroke-width="1" />
<circle cx="629.91" cy="126.05" r="1.15" fill="#f7891f" stroke="none" stroke-width="1" />
<circle cx="614.86" cy="112.92" r="1.15" fill="#f7891f" stroke="none" stroke-width="1" />
<circle cx="630.15" cy="71.43" r="1.15" fill="#f7891f" stroke="none" stroke-width="1" />
<circle cx="651.50" cy="110.72" r="1.15" fill="#f7891f" stroke="none" stroke-width="1" />
<circle cx="633.46" cy="96.98" r="1.15" fill="#f7891f" stroke="none" stroke-width="1" />
<circle cx="631.16" cy="84.54" r="1.15" fill="#f7891f" stroke="none" stroke-width="1" />
<circle cx="633.15" cy="92.59" r="1.15" fill="#f7891f" stroke="none" stroke-width="1" />
<circle cx="634.43" cy="96.74" r="1.15" fill="#f7891f" stroke="none" stroke-width="1" />
<circle cx="631.87" cy="112.22" r="1.15" fill="#f7891f" stroke="none" stroke-width="1" />
<circle cx="625.28" cy="106.74" r="1.15" fill="#f7891f" stroke="none" stroke-width="1" />
<circle cx="617.11" cy="116.85" r="1.15" fill="#f7891f" stroke="none" stroke-width="1" />
<circle cx="619.70" cy="99.03" r="1.15" fill="#f7891f" stroke="none" stroke-width="1" />
<circle cx="618.62" cy="120.65" r="1.15" fill="#f7891f" stroke="none" stroke-width="1" />
<circle cx="629.98" cy="91.59" r="1.15" fill="#f7891f" stroke="none" stroke-width="1" />
<circle cx="625.12" cy="92.35" r="1.15" fill="#f7891f" stroke="none" stroke-width="1" />
<circle cx="638.08" cy="114.92" r="1.15" fill="#f7891f" stroke="none" stroke-width="1" />
<circle cx="624.00" cy="107.63" r="1.15" fill="#f7891f" stroke="none" stroke-width="1" />
<circle cx="619.67" cy="108.73" r="1.15" fill="#f7891f" stroke="none" stroke-width="1" />
<circle cx="624.57" cy="102.70" r="1.15" fill="#f7891f" stroke="none" stroke-width="1" />
<circle cx="630.75" cy="119.69" r="1.15" fill="#f7891f" stroke="none" stroke-width="1" />
<circle cx="619.18" cy="104.94" r="1.15" fill="#f7891f" stroke="none" stroke-width="1" />
<circle cx="646.15" cy="107.04" r="1.15" fill="#f7891f" stroke="none" stroke-width="1" />
<circle cx="630.27" cy="107.78" r="1.15" fill="#f7891f" stroke="none" stroke-width="1" />
<circle cx="623.08" cy="95.81" r="1.15" fill="#f7891f" stroke="none" stroke-width="1" />
<circle cx="622.47" cy="124.25" r="1.15" fill="#f7891f" stroke="none" stroke-width="1" />
<circle cx="639.73" cy="98.18" r="1.15" fill="#f7891f" stroke="none" stroke-width="1" />
<circle cx="632.04" cy="126.27" r="1.15" fill="#f7891f" stroke="none" stroke-width="1" />
<circle cx="623.10" cy="118.15" r="1.15" fill="#f7891f" stroke="none" stroke-width="1" />
<circle cx="638.41" cy="102.78" r="1.15" fill="#f7891f" stroke="none" stroke-width="1" />
<circle cx="612.40" cy="111.45" r="1.15" fill="#f7891f" stroke="none" stroke-width="1" />
<circle cx="645.41" cy="103.51" r="1.15" fill="#f7891f" stroke="none" stroke-width="1" />
<circle cx="648.87" cy="111.57" r="1.15" fill="#f7891f" stroke="none" stroke-width="1" />
<circle cx="637.70" cy="113.58" r="1.15" fill="#f7891f" stroke="none" stroke-width="1" />
<circle cx="612.88" cy="115.52" r="1.15" fill="#f7891f" stroke="none" stroke-width="1" />
<circle cx="628.86" cy="100.89" r="1.15" fill="#f7891f" stroke="none" stroke-width="1" />
<circle cx="645.22" cy="109.19" r="1.15" fill="#f7891f" stroke="none" stroke-width="1" />
<circle cx="632.67" cy="95.55" r="1.15" fill="#f7891f" stroke="none" stroke-width="1" />
<circle cx="618.50" cy="107.94" r="1.15" fill="#f7891f" stroke="none" stroke-width="1" />
<circle cx="620.67" cy="104.17" r="1.15" fill="#f7891f" stroke="none" stroke-width="1" />
<circle cx="613.11" cy="111.36" r="1.15" fill="#f7891f" stroke="none" stroke-width="1" />
<circle cx="631.13" cy="83.26" r="1.15" fill="#f7891f" stroke="none" stroke-width="1" />
<circle cx="618.50" cy="117.00" r="1.15" fill="#f7891f" stroke="none" stroke-width="1" />
<circle cx="629.18" cy="120.36" r="1.15" fill="#f7891f" stroke="none" stroke-width="1" />
<circle cx="639.70" cy="97.97" r="1.15" fill="#f7891f" stroke="none" stroke-width="1" />
<circle cx="641.38" cy="99.84" r="1.15" fill="#f7891f" stroke="none" stroke-width="1" />
<circle cx="630.68" cy="116.79" r="1.15" fill="#f7891f" stroke="none" stroke-width="1" />
<circle cx="642.57" cy="113.49" r="1.15" fill="#f7891f" stroke="none" stroke-width="1" />
<circle cx="615.26" cy="106.88" r="1.15" fill="#f7891f" stroke="none" stroke-width="1" />
<circle cx="645.59" cy="120.68" r="1.15" fill="#f7891f" stroke="none" stroke-width="1" />
<circle cx="646.35" cy="109.50" r="1.15" fill="#f7891f" stroke="none" stroke-width="1" />
<circle cx="630.37" cy="119.03" r="1.15" fill="#f7891f" stroke="none" stroke-width="1" />
<circle cx="646.78" cy="111.85" r="1.15" fill="#f7891f" stroke="none" stroke-width="1" />
<circle cx="622.73" cy="112.43" r="1.15" fill="#f7891f" stroke="none" stroke-width="1" />
<circle cx="646.01" cy="121.15" r="1.15" fill="#f7891f" stroke="none" stroke-width="1" />
<circle cx="623.79" cy="114.25" r="1.15" fill="#f7891f" stroke="none" stroke-width="1" />
<circle cx="648.40" cy="111.31" r="1.15" fill="#f7891f" stroke="none" stroke-width="1" />
<circle cx="642.39" cy="102.48" r="1.15" fill="#f7891f" stroke="none" stroke-width="1" />
<circle cx="649.68" cy="107.39" r="1.15" fill="#f7891f" stroke="none" stroke-width="1" />
<circle cx="640.49" cy="105.56" r="1.15" fill="#f7891f" stroke="none" stroke-width="1" />
<circle cx="615.23" cy="118.73" r="1.15" fill="#f7891f" stroke="none" stroke-width="1" />
<circle cx="623.66" cy="102.32" r="1.15" fill="#f7891f" stroke="none" stroke-width="1" />
<circle cx="637.34" cy="113.92" r="1.15" fill="#f7891f" stroke="none" stroke-width="1" />
<circle cx="647.05" cy="116.96" r="1.15" fill="#f7891f" stroke="none" stroke-width="1" />
<circle cx="638.65" cy="109.13" r="1.15" fill="#f7891f" stroke="none" stroke-width="1" />
<circle cx="615.34" cy="120.15" r="1.15" fill="#f7891f" stroke="none" stroke-width="1" />
<circle cx="624.89" cy="115.91" r="1.15" fill="#f7891f" stroke="none" stroke-width="1" />
<circle cx="625.66" cy="102.69" r="1.15" fill="#f7891f" stroke="none" stroke-width="1" />
<circle cx="630.31" cy="66.89" r="1.15" fill="#f7891f" stroke="none" stroke-width="1" />
<circle cx="619.85" cy="104.86" r="1.15" fill="#f7891f" stroke="none" stroke-width="1" />
<circle cx="631.68" cy="105.96" r="1.15" fill="#f7891f" stroke="none" stroke-width="1" />
<circle cx="626.91" cy="101.97" r="1.15" fill="#f7891f" stroke="none" stroke-width="1" />
<circle cx="621.54" cy="114.66" r="1.15" fill="#f7891f" stroke="none" stroke-width="1" />
<circle cx="629.03" cy="98.23" r="1.15" fill="#f7891f" stroke="none" stroke-width="1" />
<circle cx="647.51" cy="118.75" r="1.15" fill="#f7891f" stroke="none" stroke-width="1" />
<circle cx="634.60" cy="118.56" r="1.15" fill="#f7891f" stroke="none" stroke-width="1" />
<circle cx="639.18" cy="102.07" r="1.15" fill="#f7891f" stroke="none" stroke-width="1" />
<circle cx="649.27" cy="109.17" r="1.15" fill="#f7891f" stroke="none" stroke-width="1" />
<circle cx="612.48" cy="116.74" r="1.15" fill="#f7891f" stroke="none" stroke-width="1" />
<circle cx="645.55" cy="117.87" r="1.15" fill="#f7891f" stroke="none" stroke-width="1" />
<circle cx="622.49" cy="124.13" r="1.15" fill="#f7891f" stroke="none" stroke-width="1" />
<circle cx="619.12" cy="104.26" r="1.15" fill="#f7891f" stroke="none" stroke-width="1" />
<circle cx="636.06" cy="97.48" r="1.15" fill="#f7891f" stroke="none" stroke-width="1" />
<circle cx="641.27" cy="114.64" r="1.15" fill="#f7891f" stroke="none" stroke-width="1" />
<circle cx="635.19" cy="119.00" r="1.15" fill="#f7891f" stroke="none" stroke-width="1" />
<circle cx="630.02" cy="111.13" r="1.15" fill="#f7891f" stroke="none" stroke-width="1" />
<circle cx="639.48" cy="117.94" r="1.15" fill="#f7891f" stroke="none" stroke-width="1" />
<circle cx="629.30" cy="98.80" r="1.15" fill="#f7891f" stroke="none" stroke-width="1" />
<circle cx="620.10" cy="119.41" r="1.15" fill="#f7891f" stroke="none" stroke-width="1" />
<circle cx="624.15" cy="99.22" r="1.15" fill="#f7891f" stroke="none" stroke-width="1" />
<circle cx="622.89" cy="97.36" r="1.15" fill="#f7891f" stroke="none" stroke-width="1" />
<circle cx="612.78" cy="116.90" r="1.15" fill="#f7891f" stroke="none" stroke-width="1" />
<circle cx="648.26" cy="103.91" r="1.15" fill="#f7891f" stroke="none" stroke-width="1" />
<circle cx="650.36" cy="107.37" r="1.15" fill="#f7891f" stroke="none" stroke-width="1" />
<circle cx="625.41" cy="118.75" r="1.15" fill="#f7891f" stroke="none" stroke-width="1" />
<circle cx="627.43" cy="112.41" r="1.15" fill="#f7891f" stroke="none" stroke-width="1" />
<circle cx="623.56" cy="102.43" r="1.15" fill="#f7891f" stroke="none" stroke-width="1" />
<circle cx="642.32" cy="115.64" r="1.15" fill="#f7891f" stroke="none" stroke-width="1" />
<circle cx="630.70" cy="116.52" r="1.15" fill="#f7891f" stroke="none" stroke-width="1" />
<circle cx="620.41" cy="101.97" r="1.15" fill="#f7891f" stroke="none" stroke-width="1" />
<circle cx="647.52" cy="107.09" r="1.15" fill="#f7891f" stroke="none" stroke-width="1" />
<circle cx="648.48" cy="113.05" r="1.15" fill="#f7891f" stroke="none" stroke-width="1" />
<circle cx="618.72" cy="100.29" r="1.15" fill="#f7891f" stroke="none" stroke-width="1" />
<circle cx="629.48" cy="118.60" r="1.15" fill="#f7891f" stroke="none" stroke-width="1" />
<circle cx="619.11" cy="108.61" r="1.15" fill="#f7891f" stroke="none" stroke-width="1" />
<circle cx="636.65" cy="114.55" r="1.15" fill="#f7891f" stroke="none" stroke-width="1" />
<circle cx="625.17" cy="110.74" r="1.15" fill="#f7891f" stroke="none" stroke-width="1" />
<circle cx="622.67" cy="110.77" r="1.15" fill="#f7891f" stroke="none" stroke-width="1" />
<circle cx="622.59" cy="106.20" r="1.15" fill="#f7891f" stroke="none" stroke-width="1" />
<circle cx="635.15" cy="117.53" r="1.15" fill="#f7891f" stroke="none" stroke-width="1" />
<circle cx="631.14" cy="106.26" r="1.15" fill="#f7891f" stroke="none" stroke-width="1" />
<circle cx="630.50" cy="111.84" r="1.15" fill="#f7891f" stroke="none" stroke-width="1" />
<circle cx="634.73" cy="97.17" r="1.15" fill="#f7891f" stroke="none" stroke-width="1" />
<circle cx="629.91" cy="114.03" r="1.15" fill="#f7891f" stroke="none" stroke-width="1" />
<circle cx="646.65" cy="119.71" r="1.15" fill="#f7891f" stroke="none" stroke-width="1" />
<circle cx="628.36" cy="106.80" r="1.15" fill="#f7891f" stroke="none" stroke-width="1" />
<circle cx="642.88" cy="113.89" r="1.15" fill="#f7891f" stroke="none" stroke-width="1" />
<circle cx="642.17" cy="99.85" r="1.15" fill="#f7891f" stroke="none" stroke-width="1" />
<circle cx="635.93" cy="114.88" r="1.15" fill="#f7891f" stroke="none" stroke-width="1" />
<circle cx="631.65" cy="85.59" r="1.15" fill="#f7891f" stroke="none" stroke-width="1" />
<circle cx="635.62" cy="94.47" r="1.15" fill="#f7891f" stroke="none" stroke-width="1" />
<circle cx="637.59" cy="121.21" r="1.15" fill="#f7891f" stroke="none" stroke-width="1" />
<circle cx="619.47" cy="103.70" r="1.15" fill="#f7891f" stroke="none" stroke-width="1" />
<circle cx="628.68" cy="122.21" r="1.15" fill="#f7891f" stroke="none" stroke-width="1" />
<circle cx="630.07" cy="75.34" r="1.15" fill="#f7891f" stroke="none" stroke-width="1" />
<circle cx="612.12" cy="104.38" r="1.15" fill="#f7891f" stroke="none" stroke-width="1" />
<circle cx="637.44" cy="102.66" r="1.15" fill="#f7891f" stroke="none" stroke-width="1" />
<circle cx="625.63" cy="121.12" r="1.15" fill="#f7891f" stroke="none" stroke-width="1" />
<circle cx="628.54" cy="91.06" r="1.15" fill="#f7891f" stroke="none" stroke-width="1" />
<circle cx="619.18" cy="99.44" r="1.15" fill="#f7891f" stroke="none" stroke-width="1" />
<circle cx="620.90" cy="97.49" r="1.15" fill="#f7891f" stroke="none" stroke-width="1" />
<circle cx="637.36" cy="103.51" r="1.15" fill="#f7891f" stroke="none" stroke-width="1" />
<circle cx="628.98" cy="93.55" r="1.15" fill="#f7891f" stroke="none" stroke-width="1" />
<circle cx="630.02" cy="94.15" r="1.15" fill="#f7891f" stroke="none" stroke-width="1" />
<circle cx="637.73" cy="117.86" r="1.15" fill="#f7891f" stroke="none" stroke-width="1" />
<circle cx="641.70" cy="122.68" r="1.15" fill="#f7891f" stroke="none" stroke-width="1" />
<circle cx="635.55" cy="98.34" r="1.15" fill="#f7891f" stroke="none" stroke-width="1" />
<circle cx="619.56" cy="113.47" r="1.15" fill="#f7891f" stroke="none" stroke-width="1" />
<circle cx="649.47" cy="103.76" r="1.15" fill="#f7891f" stroke="none" stroke-width="1" />
<circle cx="617.92" cy="110.53" r="1.15" fill="#f7891f" stroke="none" stroke-width="1" />
<circle cx="633.46" cy="121.41" r="1.15" fill="#f7891f" stroke="none" stroke-width="1" />
<circle cx="636.98" cy="110.19" r="1.15" fill="#f7891f" stroke="none" stroke-width="1" />
<circle cx="622.33" cy="112.77" r="1.15" fill="#f7891f" stroke="none" stroke-width="1" />
<circle cx="644.40" cy="119.95" r="1.15" fill="#f7891f" stroke="none" stroke-width="1" />
<circle cx="633.41" cy="97.92" r="1.15" fill="#f7891f" stroke="none" stroke-width="1" />
<circle cx="639.18" cy="117.28" r="1.15" fill="#f7891f" stroke="none" stroke-width="1" />
<circle cx="618.58" cy="119.99" r="1.15" fill="#f7891f" stroke="none" stroke-width="1" />
<circle cx="641.46" cy="121.07" r="1.15" fill="#f7891f" stroke="none" stroke-width="1" />
<circle cx="622.40" cy="115.20" r="1.15" fill="#f7891f" stroke="none" stroke-width="1" />
<circle cx="635.95" cy="109.68" r="1.15" fill="#f7891f" stroke="none" stroke-width="1" />
<circle cx="636.92" cy="123.05" r="1.15" fill="#f7891f" stroke="none" stroke-width="1" />
<circle cx="623.74" cy="112.32" r="1.15" fill="#f7891f" stroke="none" stroke-width="1" />
<circle cx="621.42" cy="112.29" r="1.15" fill="#f7891f" stroke="none" stroke-width="1" />
<circle cx="624.36" cy="104.27" r="1.15" fill="#f7891f" stroke="none" stroke-width="1" />
<circle cx="650.50" cy="112.91" r="1.15" fill="#f7891f" stroke="none" stroke-width="1" />
<circle cx="631.59" cy="80.09" r="1.15" fill="#f7891f" stroke="none" stroke-width="1" />
<circle cx="629.88" cy="117.18" r="1.15" fill="#f7891f" stroke="none" stroke-width="1" />
<circle cx="633.50" cy="115.24" r="1.15" fill="#f7891f" stroke="none" stroke-width="1" />
<circle cx="637.68" cy="108.13" r="1.15" fill="#f7891f" stroke="none" stroke-width="1" />
<circle cx="622.53" cy="119.43" r="1.15" fill="#f7891f" stroke="none" stroke-width="1" />
<circle cx="616.45" cy="120.02" r="1.15" fill="#f7891f" stroke="none" stroke-width="1" />
<circle cx="614.55" cy="105.76" r="1.15" fill="#f7891f" stroke="none" stroke-width="1" />
<circle cx="634.07" cy="118.42" r="1.15" fill="#f7891f" stroke="none" stroke-width="1" />
<circle cx="634.70" cy="118.42" r="1.15" fill="#f7891f" stroke="none" stroke-width="1" />
<circle cx="648.65" cy="103.47" r="1.15" fill="#f7891f" stroke="none" stroke-width="1" />
<circle cx="636.16" cy="106.34" r="1.15" fill="#f7891f" stroke="none" stroke-width="1" />
<circle cx="645.35" cy="114.41" r="1.15" fill="#f7891f" stroke="none" stroke-width="1" />
<circle cx="651.60" cy="109.05" r="1.15" fill="#f7891f" stroke="none" stroke-width="1" />
<circle cx="630.85" cy="114.38" r="1.15" fill="#f7891f" stroke="none" stroke-width="1" />
<circle cx="627.65" cy="106.51" r="1.15" fill="#f7891f" stroke="none" stroke-width="1" />
<circle cx="629.96" cy="119.26" r="1.15" fill="#f7891f" stroke="none" stroke-width="1" />
<circle cx="625.66" cy="110.03" r="1.15" fill="#f7891f" stroke="none" stroke-width="1" />
<circle cx="637.62" cy="122.91" r="1.15" fill="#f7891f" stroke="none" stroke-width="1" />
<circle cx="633.38" cy="121.00" r="1.15" fill="#f7891f" stroke="none" stroke-width="1" />
<circle cx="617.25" cy="119.02" r="1.15" fill="#f7891f" stroke="none" stroke-width="1" />
<circle cx="647.10" cy="119.55" r="1.15" fill="#f7891f" stroke="none" stroke-width="1" />
<circle cx="632.13" cy="106.69" r="1.15" fill="#f7891f" stroke="none" stroke-width="1" />
<circle cx="641.33" cy="110.17" r="1.15" fill="#f7891f" stroke="none" stroke-width="1" />
<circle cx="632.97" cy="105.43" r="1.15" fill="#f7891f" stroke="none" stroke-width="1" />
<circle cx="634.10" cy="102.87" r="1.15" fill="#f7891f" stroke="none" stroke-width="1" />
<circle cx="634.16" cy="105.34" r="1.15" fill="#f7891f" stroke="none" stroke-width="1" />
<circle cx="614.81" cy="109.46" r="1.15" fill="#f7891f" stroke="none" stroke-width="1" />
<circle cx="628.17" cy="87.10" r="1.15" fill="#f7891f" stroke="none" stroke-width="1" />
<circle cx="640.50" cy="105.18" r="1.15" fill="#f7891f" stroke="none" stroke-width="1" />
<circle cx="624.94" cy="115.62" r="1.15" fill="#f7891f" stroke="none" stroke-width="1" />
<circle cx="616.12" cy="115.93" r="1.15" fill="#f7891f" stroke="none" stroke-width="1" />
<circle cx="641.18" cy="102.00" r="1.15" fill="#f7891f" stroke="none" stroke-width="1" />
<circle cx="641.61" cy="108.31" r="1.15" fill="#f7891f" stroke="none" stroke-width="1" />
<circle cx="641.24" cy="104.14" r="1.15" fill="#f7891f" stroke="none" stroke-width="1" />
<circle cx="628.63" cy="124.14" r="1.15" fill="#f7891f" stroke="none" stroke-width="1" />
<circle cx="620.94" cy="122.37" r="1.15" fill="#f7891f" stroke="none" stroke-width="1" />
<circle cx="637.71" cy="122.80" r="1.15" fill="#f7891f" stroke="none" stroke-width="1" />
<line x1="522.40" y1="31.40" x2="522.40" y2="134.80" stroke="#111" stroke-width="1.3" />
<line x1="521.80" y1="134.20" x2="669.00" y2="134.20" stroke="#111" stroke-width="1.3" />
<line x1="519.50" y1="119.20" x2="522.40" y2="119.20" stroke="#111" stroke-width="1.1" />
<text x="516.3" y="122.7" font-size="9.8" text-anchor="end" fill="#111" >0.2</text>
<line x1="519.50" y1="100.20" x2="522.40" y2="100.20" stroke="#111" stroke-width="1.1" />
<text x="516.3" y="103.7" font-size="9.8" text-anchor="end" fill="#111" >0.4</text>
<line x1="519.50" y1="81.20" x2="522.40" y2="81.20" stroke="#111" stroke-width="1.1" />
<text x="516.3" y="84.7" font-size="9.8" text-anchor="end" fill="#111" >0.6</text>
<line x1="519.50" y1="62.20" x2="522.40" y2="62.20" stroke="#111" stroke-width="1.1" />
<text x="516.3" y="65.7" font-size="9.8" text-anchor="end" fill="#111" >0.8</text>
<line x1="519.50" y1="43.20" x2="522.40" y2="43.20" stroke="#111" stroke-width="1.1" />
<text x="516.3" y="46.7" font-size="9.8" text-anchor="end" fill="#111" >1.0</text>
<line x1="534.00" y1="101.00" x2="574.00" y2="101.00" stroke="#111" stroke-width="1.6" />
<line x1="555.30" y1="83.50" x2="555.30" y2="118.30" stroke="#111" stroke-width="1.6" />
<line x1="549.00" y1="83.50" x2="562.00" y2="83.50" stroke="#111" stroke-width="1.6" />
<line x1="549.00" y1="118.30" x2="562.00" y2="118.30" stroke="#111" stroke-width="1.6" />
<line x1="608.50" y1="106.40" x2="654.00" y2="106.40" stroke="#111" stroke-width="1.6" />
<line x1="631.30" y1="93.80" x2="631.30" y2="119.30" stroke="#111" stroke-width="1.6" />
<line x1="623.00" y1="93.80" x2="639.50" y2="93.80" stroke="#111" stroke-width="1.6" />
<line x1="623.00" y1="119.30" x2="639.50" y2="119.30" stroke="#111" stroke-width="1.6" />
<text x="631.2" y="53.4" font-size="16" text-anchor="middle" fill="#111" >***</text>
<text x="555.6" y="148.3" font-size="10.45" text-anchor="middle" fill="#111" >Low frequency</text>
<text x="630.9" y="148.3" font-size="10.45" text-anchor="middle" fill="#111" >High frequency</text>
<g>
<rect x="64.90" y="209.10" width="225.00" height="23.80" fill="#ededed" stroke="none" stroke-width="1" />
<rect x="69.30" y="209.60" width="22.60" height="22.80" fill="#7e7e7e" stroke="none" stroke-width="1" filter="url(#b1)"/>
<ellipse cx="80.6" cy="220.5" rx="9.8" ry="7.5" fill="#2a2a2a" filter="url(#b3)"/>
<rect x="96.40" y="209.60" width="21.80" height="22.80" fill="#808080" stroke="none" stroke-width="1" filter="url(#b1)"/>
<ellipse cx="107.3" cy="220" rx="9.4" ry="7.5" fill="#3e3e3e" filter="url(#b3)"/>
<rect x="148.10" y="209.60" width="21.80" height="22.80" fill="#646464" stroke="none" stroke-width="1" filter="url(#b1)"/>
<ellipse cx="159.0" cy="219" rx="9.4" ry="7.5" fill="#222222" filter="url(#b3)"/>
<rect x="175.60" y="209.60" width="22.20" height="22.80" fill="#a2a2a2" stroke="none" stroke-width="1" filter="url(#b1)"/>
<ellipse cx="186.7" cy="219" rx="9.6" ry="7.5" fill="#646464" filter="url(#b3)"/>
<rect x="228.50" y="209.60" width="22.20" height="22.80" fill="#555555" stroke="none" stroke-width="1" filter="url(#b1)"/>
<ellipse cx="239.6" cy="218" rx="9.6" ry="7.5" fill="#191919" filter="url(#b3)"/>
<rect x="256.30" y="209.60" width="22.30" height="22.80" fill="#8e8e8e" stroke="none" stroke-width="1" filter="url(#b1)"/>
<ellipse cx="267.5" cy="218.5" rx="9.7" ry="7.5" fill="#525252" filter="url(#b3)"/>
<ellipse cx="132.0" cy="219" rx="8.0" ry="1.5" fill="#c4c4c4" filter="url(#b1)"/>
<ellipse cx="214.0" cy="219" rx="9.0" ry="1.5" fill="#c4c4c4" filter="url(#b1)"/>
<rect x="60.00" y="204.00" width="235.00" height="5.10" fill="#fff" stroke="none" stroke-width="1" />
<rect x="60.00" y="232.90" width="235.00" height="6.00" fill="#fff" stroke="none" stroke-width="1" />
<rect x="64.90" y="252.40" width="225.00" height="23.40" fill="#cdcdcd" stroke="none" stroke-width="1" />
<rect x="67.0" y="255.1" width="24.5" height="11" rx="5.5" fill="#303030" filter="url(#b2)"/>
<rect x="93.6" y="257.7" width="25.1" height="11" rx="5.5" fill="#303030" filter="url(#b2)"/>
<rect x="147.6" y="257.5" width="24.5" height="11" rx="5.5" fill="#303030" filter="url(#b2)"/>
<rect x="174.6" y="257.5" width="25.4" height="11" rx="5.5" fill="#303030" filter="url(#b2)"/>
<rect x="228.0" y="257.3" width="25.6" height="11" rx="5.5" fill="#303030" filter="url(#b2)"/>
<rect x="256.7" y="257.5" width="26.1" height="11" rx="5.5" fill="#303030" filter="url(#b2)"/>
<rect x="60.00" y="247.00" width="235.00" height="5.40" fill="#fff" stroke="none" stroke-width="1" />
<rect x="60.00" y="275.80" width="235.00" height="6.00" fill="#fff" stroke="none" stroke-width="1" />
</g>
<text x="23.4" y="227.0" font-size="10.2" text-anchor="start" fill="#111" >PMCA1</text>
<text x="23.2" y="272.3" font-size="10.2" text-anchor="start" fill="#111" >&#946;-actin</text>
<text x="310.5" y="222.5" font-size="9.2" text-anchor="middle" fill="#111" >129-139</text>
<text x="311.0" y="233.0" font-size="9.2" text-anchor="middle" fill="#111" >kDa</text>
<text x="310.5" y="265.5" font-size="9.2" text-anchor="middle" fill="#111" >43</text>
<text x="311.0" y="276.0" font-size="9.2" text-anchor="middle" fill="#111" >kDa</text>
<text x="0" y="0" font-size="10.8" text-anchor="end" fill="#111" transform="translate(82.8,288.2) rotate(-57)">Low frequency</text>
<text x="0" y="0" font-size="10.8" text-anchor="end" fill="#111" transform="translate(111.1,288.2) rotate(-57)">High frequency</text>
<text x="0" y="0" font-size="10.8" text-anchor="end" fill="#111" transform="translate(134.8,288.2) rotate(-57)">Marker</text>
<text x="0" y="0" font-size="10.8" text-anchor="end" fill="#111" transform="translate(167.5,288.2) rotate(-57)">Low frequency</text>
<text x="0" y="0" font-size="10.8" text-anchor="end" fill="#111" transform="translate(196.1,288.2) rotate(-57)">High frequency</text>
<text x="0" y="0" font-size="10.8" text-anchor="end" fill="#111" transform="translate(219.3,288.2) rotate(-57)">Marker</text>
<text x="0" y="0" font-size="10.8" text-anchor="end" fill="#111" transform="translate(249.3,288.2) rotate(-57)">Low frequency</text>
<text x="0" y="0" font-size="10.8" text-anchor="end" fill="#111" transform="translate(279.1,288.2) rotate(-57)">High frequency</text>
<rect x="389.30" y="251.31" width="32.00" height="72.69" fill="none" stroke="#2f7bbf" stroke-width="1.5" />
<rect x="438.20" y="281.56" width="31.30" height="42.44" fill="none" stroke="#f7891f" stroke-width="1.5" />
<line x1="405.20" y1="243.10" x2="405.20" y2="258.20" stroke="#2f7bbf" stroke-width="1.4" />
<line x1="397.20" y1="243.10" x2="413.20" y2="243.10" stroke="#2f7bbf" stroke-width="1.4" />
<line x1="397.20" y1="258.20" x2="413.20" y2="258.20" stroke="#2f7bbf" stroke-width="1.4" />
<circle cx="405.10" cy="235.60" r="1.80" fill="none" stroke="#2f7bbf" stroke-width="1.2" />
<circle cx="405.20" cy="256.20" r="1.80" fill="#2f7bbf" stroke="#2f7bbf" stroke-width="1.0" />
<circle cx="405.20" cy="260.20" r="1.80" fill="none" stroke="#2f7bbf" stroke-width="1.2" />
<line x1="454.00" y1="278.40" x2="454.00" y2="283.60" stroke="#f7891f" stroke-width="1.4" />
<line x1="446.40" y1="278.40" x2="461.90" y2="278.40" stroke="#f7891f" stroke-width="1.4" />
<line x1="446.40" y1="283.60" x2="461.90" y2="283.60" stroke="#f7891f" stroke-width="1.4" />
<rect x="456.10" y="275.00" width="3.80" height="3.80" fill="none" stroke="#f7891f" stroke-width="1.2" rx="0.8"/>
<rect x="450.90" y="278.30" width="3.80" height="3.80" fill="none" stroke="#f7891f" stroke-width="1.2" rx="0.8"/>
<rect x="452.20" y="284.20" width="3.80" height="3.80" fill="none" stroke="#f7891f" stroke-width="1.2" rx="0.8"/>
<line x1="372.50" y1="212.90" x2="372.50" y2="324.60" stroke="#111" stroke-width="1.3" />
<line x1="371.90" y1="324.00" x2="487.00" y2="324.00" stroke="#111" stroke-width="1.3" />
<line x1="372.50" y1="309.24" x2="375.80" y2="309.24" stroke="#111" stroke-width="1.1" />
<line x1="372.50" y1="294.48" x2="375.80" y2="294.48" stroke="#111" stroke-width="1.1" />
<line x1="372.50" y1="279.72" x2="375.80" y2="279.72" stroke="#111" stroke-width="1.1" />
<line x1="372.50" y1="264.96" x2="375.80" y2="264.96" stroke="#111" stroke-width="1.1" />
<line x1="372.50" y1="250.20" x2="375.80" y2="250.20" stroke="#111" stroke-width="1.1" />
<line x1="372.50" y1="235.44" x2="375.80" y2="235.44" stroke="#111" stroke-width="1.1" />
<line x1="372.50" y1="220.68" x2="375.80" y2="220.68" stroke="#111" stroke-width="1.1" />
<text x="368.3" y="327.6" font-size="10.2" text-anchor="end" fill="#111" >0</text>
<text x="368.3" y="298.1" font-size="10.2" text-anchor="end" fill="#111" >0.4</text>
<text x="368.3" y="268.6" font-size="10.2" text-anchor="end" fill="#111" >0.8</text>
<text x="368.3" y="239.0" font-size="10.2" text-anchor="end" fill="#111" >1.2</text>
<line x1="406.20" y1="228.00" x2="454.80" y2="228.00" stroke="#3d3838" stroke-width="1.4" />
<text x="429.2" y="224.3" font-size="15.8" text-anchor="middle" fill="#111" >***</text>
<text x="350.5" y="270.0" font-size="10.5" text-anchor="middle" fill="#111" transform="rotate(-90 350.5 270.0)" >Relative expression level</text>
<text x="390.6" y="342.0" font-size="10.45" text-anchor="middle" fill="#111" >Low frequency</text>
<text x="464.7" y="342.0" font-size="10.45" text-anchor="middle" fill="#111" >High frequency</text>
<text x="510.7" y="207.4" font-size="9.6" text-anchor="middle" fill="#111" >Exon 1</text>
<text x="549.8" y="207.4" font-size="9.6" text-anchor="middle" fill="#111" >Exon 2</text>
<text x="601.8" y="207.4" font-size="9.6" text-anchor="middle" fill="#111" >Exon 9</text>
<text x="655.2" y="207.4" font-size="9.6" text-anchor="middle" fill="#111" >Exon 21</text>
<line x1="521.50" y1="223.95" x2="535.20" y2="223.95" stroke="#231815" stroke-width="1.2" />
<line x1="551.60" y1="223.95" x2="561.00" y2="223.95" stroke="#231815" stroke-width="1.2" />
<line x1="564.00" y1="223.95" x2="566.00" y2="223.95" stroke="#bbb" stroke-width="0.8" />
<line x1="572.00" y1="223.95" x2="574.00" y2="223.95" stroke="#bbb" stroke-width="0.8" />
<line x1="576.00" y1="223.95" x2="614.00" y2="223.95" stroke="#231815" stroke-width="1.2" />
<line x1="619.00" y1="223.95" x2="621.50" y2="223.95" stroke="#bbb" stroke-width="0.8" />
<line x1="632.40" y1="223.95" x2="651.00" y2="223.95" stroke="#231815" stroke-width="1.5" />
<rect x="512.70" y="211.70" width="8.80" height="24.50" fill="#fff" stroke="#231815" stroke-width="1.1" />
<rect x="535.20" y="211.70" width="16.40" height="24.50" fill="#fff" stroke="#231815" stroke-width="1.1" />
<rect x="541.00" y="211.70" width="10.60" height="24.50" fill="#231815" stroke="none" stroke-width="1" />
<rect x="650.80" y="211.70" width="12.90" height="24.50" fill="#fff" stroke="#231815" stroke-width="1.1" />
<rect x="650.80" y="211.70" width="7.00" height="24.50" fill="#231815" stroke="none" stroke-width="1" />
<rect x="593.60" y="211.70" width="7.60" height="24.50" fill="#231815" stroke="none" stroke-width="1" />
<polygon points="580.8,220.35 587.4,223.95 580.8,227.54999999999998" fill="#e8141e"/>
<polygon points="606,220.35 612.6,223.95 606,227.54999999999998" fill="#e8141e"/>
<text x="586.6" y="244.8" font-size="9.3" text-anchor="middle" fill="#111" >Loxp</text>
<text x="612.9" y="244.8" font-size="9.3" text-anchor="middle" fill="#111" >Loxp</text>
<path d="M593.2,249.7 L593.2,290 L589.5,290 L595.2,300.8 L600.9,290 L597.2,290 L597.2,249.7 Z" fill="#fff" stroke="#231815" stroke-width="1.1"/>
<text x="631.5" y="262.2" font-size="9.3" text-anchor="middle" fill="#111" font-style="italic" >Gfi1 Cre</text>
<text x="638.0" y="279.3" font-size="9.3" text-anchor="middle" fill="#111" >Cre recombinase</text>
<text x="510.7" y="312.6" font-size="9.6" text-anchor="middle" fill="#111" >Exon 1</text>
<text x="549.8" y="312.6" font-size="9.6" text-anchor="middle" fill="#111" >Exon 2</text>
<text x="601.8" y="312.6" font-size="9.6" text-anchor="middle" fill="#111" >Exon 9</text>
<text x="664.6" y="312.6" font-size="9.6" text-anchor="middle" fill="#111" >Exon 21</text>
<line x1="521.50" y1="329.15" x2="535.20" y2="329.15" stroke="#231815" stroke-width="1.2" />
<line x1="551.60" y1="329.15" x2="561.00" y2="329.15" stroke="#231815" stroke-width="1.2" />
<line x1="564.00" y1="329.15" x2="566.00" y2="329.15" stroke="#bbb" stroke-width="0.8" />
<line x1="572.00" y1="329.15" x2="574.00" y2="329.15" stroke="#bbb" stroke-width="0.8" />
<line x1="576.00" y1="329.15" x2="615.00" y2="329.15" stroke="#231815" stroke-width="1.2" />
<line x1="619.00" y1="329.15" x2="621.50" y2="329.15" stroke="#bbb" stroke-width="0.8" />
<line x1="632.40" y1="329.15" x2="651.00" y2="329.15" stroke="#231815" stroke-width="1.5" />
<rect x="512.70" y="316.90" width="8.80" height="24.50" fill="#fff" stroke="#231815" stroke-width="1.1" />
<rect x="535.20" y="316.90" width="16.40" height="24.50" fill="#fff" stroke="#231815" stroke-width="1.1" />
<rect x="541.00" y="316.90" width="10.60" height="24.50" fill="#231815" stroke="none" stroke-width="1" />
<rect x="650.80" y="316.90" width="12.90" height="24.50" fill="#fff" stroke="#231815" stroke-width="1.1" />
<rect x="650.80" y="316.90" width="7.00" height="24.50" fill="#231815" stroke="none" stroke-width="1" />
<polygon points="595.4,325.54999999999995 602,329.15 595.4,332.75" fill="#e8141e"/>
<clipPath id="clipG1"><rect x="18" y="383.8" width="187.7" height="161.4"/></clipPath><g clip-path="url(#clipG1)">
<rect x="18.00" y="383.80" width="187.70" height="161.40" fill="#000" stroke="none" stroke-width="1" />
<ellipse cx="22.5" cy="398" rx="5.4" ry="5.8" fill="#5a0f08" opacity="0.95" filter="url(#b1)"/>
<ellipse cx="22.5" cy="398" rx="5" ry="5.4" fill="#e02a18" opacity="0.55" filter="url(#speck)"/>
<ellipse cx="41.3" cy="400" rx="5.4" ry="5.8" fill="#5a0f08" opacity="0.95" filter="url(#b1)"/>
<ellipse cx="41.3" cy="400" rx="5" ry="5.4" fill="#e02a18" opacity="0.55" filter="url(#speck)"/>
<ellipse cx="57.2" cy="401" rx="5.4" ry="5.8" fill="#5a0f08" opacity="0.95" filter="url(#b1)"/>
<ellipse cx="57.2" cy="401" rx="5" ry="5.4" fill="#e02a18" opacity="0.55" filter="url(#speck)"/>
<ellipse cx="88.4" cy="396.9" rx="5.4" ry="5.8" fill="#5a0f08" opacity="0.95" filter="url(#b1)"/>
<ellipse cx="88.4" cy="396.9" rx="5" ry="5.4" fill="#e02a18" opacity="0.55" filter="url(#speck)"/>
<ellipse cx="103.7" cy="394" rx="5.4" ry="5.8" fill="#5a0f08" opacity="0.95" filter="url(#b1)"/>
<ellipse cx="103.7" cy="394" rx="5" ry="5.4" fill="#e02a18" opacity="0.55" filter="url(#speck)"/>
<ellipse cx="119.8" cy="395" rx="5.4" ry="5.8" fill="#5a0f08" opacity="0.95" filter="url(#b1)"/>
<ellipse cx="119.8" cy="395" rx="5" ry="5.4" fill="#e02a18" opacity="0.55" filter="url(#speck)"/>
<ellipse cx="135.2" cy="396" rx="5.4" ry="5.8" fill="#5a0f08" opacity="0.95" filter="url(#b1)"/>
<ellipse cx="135.2" cy="396" rx="5" ry="5.4" fill="#e02a18" opacity="0.55" filter="url(#speck)"/>
<ellipse cx="152" cy="400" rx="5.4" ry="5.8" fill="#5a0f08" opacity="0.95" filter="url(#b1)"/>
<ellipse cx="152" cy="400" rx="5" ry="5.4" fill="#e02a18" opacity="0.55" filter="url(#speck)"/>
<ellipse cx="170.3" cy="399" rx="5.4" ry="5.8" fill="#5a0f08" opacity="0.95" filter="url(#b1)"/>
<ellipse cx="170.3" cy="399" rx="5" ry="5.4" fill="#e02a18" opacity="0.55" filter="url(#speck)"/>
<ellipse cx="185.7" cy="400" rx="5.4" ry="5.8" fill="#5a0f08" opacity="0.95" filter="url(#b1)"/>
<ellipse cx="185.7" cy="400" rx="5" ry="5.4" fill="#e02a18" opacity="0.55" filter="url(#speck)"/>
<ellipse cx="201.8" cy="404" rx="5.4" ry="5.8" fill="#5a0f08" opacity="0.95" filter="url(#b1)"/>
<ellipse cx="201.8" cy="404" rx="5" ry="5.4" fill="#e02a18" opacity="0.55" filter="url(#speck)"/>
<ellipse cx="19.8" cy="419.8" rx="5.4" ry="5.8" fill="#5a0f08" opacity="0.95" filter="url(#b1)"/>
<ellipse cx="19.8" cy="419.8" rx="5" ry="5.4" fill="#e02a18" opacity="0.55" filter="url(#speck)"/>
<ellipse cx="34.3" cy="419.8" rx="5.4" ry="5.8" fill="#5a0f08" opacity="0.95" filter="url(#b1)"/>
<ellipse cx="34.3" cy="419.8" rx="5" ry="5.4" fill="#e02a18" opacity="0.55" filter="url(#speck)"/>
<ellipse cx="51" cy="419.8" rx="5.4" ry="5.8" fill="#5a0f08" opacity="0.95" filter="url(#b1)"/>
<ellipse cx="51" cy="419.8" rx="5" ry="5.4" fill="#e02a18" opacity="0.55" filter="url(#speck)"/>
<ellipse cx="67.6" cy="418" rx="5.4" ry="5.8" fill="#5a0f08" opacity="0.95" filter="url(#b1)"/>
<ellipse cx="67.6" cy="418" rx="5" ry="5.4" fill="#e02a18" opacity="0.55" filter="url(#speck)"/>
<ellipse cx="91.9" cy="419.8" rx="5.4" ry="5.8" fill="#5a0f08" opacity="0.95" filter="url(#b1)"/>
<ellipse cx="91.9" cy="419.8" rx="5" ry="5.4" fill="#e02a18" opacity="0.55" filter="url(#speck)"/>
<ellipse cx="107.8" cy="416.5" rx="5.4" ry="5.8" fill="#5a0f08" opacity="0.95" filter="url(#b1)"/>
<ellipse cx="107.8" cy="416.5" rx="5" ry="5.4" fill="#e02a18" opacity="0.55" filter="url(#speck)"/>
<ellipse cx="126.1" cy="420.8" rx="5.4" ry="5.8" fill="#5a0f08" opacity="0.95" filter="url(#b1)"/>
<ellipse cx="126.1" cy="420.8" rx="5" ry="5.4" fill="#e02a18" opacity="0.55" filter="url(#speck)"/>
<ellipse cx="143" cy="420.8" rx="5.4" ry="5.8" fill="#5a0f08" opacity="0.95" filter="url(#b1)"/>
<ellipse cx="143" cy="420.8" rx="5" ry="5.4" fill="#e02a18" opacity="0.55" filter="url(#speck)"/>
<ellipse cx="159.8" cy="420.8" rx="5.4" ry="5.8" fill="#5a0f08" opacity="0.95" filter="url(#b1)"/>
<ellipse cx="159.8" cy="420.8" rx="5" ry="5.4" fill="#e02a18" opacity="0.55" filter="url(#speck)"/>
<ellipse cx="175.9" cy="420.8" rx="5.4" ry="5.8" fill="#5a0f08" opacity="0.95" filter="url(#b1)"/>
<ellipse cx="175.9" cy="420.8" rx="5" ry="5.4" fill="#e02a18" opacity="0.55" filter="url(#speck)"/>
<ellipse cx="192.7" cy="420.8" rx="5.4" ry="5.8" fill="#5a0f08" opacity="0.95" filter="url(#b1)"/>
<ellipse cx="192.7" cy="420.8" rx="5" ry="5.4" fill="#e02a18" opacity="0.55" filter="url(#speck)"/>
<ellipse cx="205.3" cy="420.8" rx="5.4" ry="5.8" fill="#5a0f08" opacity="0.95" filter="url(#b1)"/>
<ellipse cx="205.3" cy="420.8" rx="5" ry="5.4" fill="#e02a18" opacity="0.55" filter="url(#speck)"/>
<ellipse cx="25.6" cy="442" rx="5.4" ry="5.8" fill="#5a0f08" opacity="0.95" filter="url(#b1)"/>
<ellipse cx="25.6" cy="442" rx="5" ry="5.4" fill="#e02a18" opacity="0.55" filter="url(#speck)"/>
<ellipse cx="42" cy="442" rx="5.4" ry="5.8" fill="#5a0f08" opacity="0.95" filter="url(#b1)"/>
<ellipse cx="42" cy="442" rx="5" ry="5.4" fill="#e02a18" opacity="0.55" filter="url(#speck)"/>
<ellipse cx="60.7" cy="442" rx="5.4" ry="5.8" fill="#5a0f08" opacity="0.95" filter="url(#b1)"/>
<ellipse cx="60.7" cy="442" rx="5" ry="5.4" fill="#e02a18" opacity="0.55" filter="url(#speck)"/>
<ellipse cx="79.4" cy="439.5" rx="5.4" ry="5.8" fill="#5a0f08" opacity="0.95" filter="url(#b1)"/>
<ellipse cx="79.4" cy="439.5" rx="5" ry="5.4" fill="#e02a18" opacity="0.55" filter="url(#speck)"/>
<ellipse cx="98.8" cy="441.5" rx="5.4" ry="5.8" fill="#5a0f08" opacity="0.95" filter="url(#b1)"/>
<ellipse cx="98.8" cy="441.5" rx="5" ry="5.4" fill="#e02a18" opacity="0.55" filter="url(#speck)"/>
<ellipse cx="114.2" cy="441.9" rx="5.4" ry="5.8" fill="#5a0f08" opacity="0.95" filter="url(#b1)"/>
<ellipse cx="114.2" cy="441.9" rx="5" ry="5.4" fill="#e02a18" opacity="0.55" filter="url(#speck)"/>
<ellipse cx="131.7" cy="441.9" rx="5.4" ry="5.8" fill="#5a0f08" opacity="0.95" filter="url(#b1)"/>
<ellipse cx="131.7" cy="441.9" rx="5" ry="5.4" fill="#e02a18" opacity="0.55" filter="url(#speck)"/>
<ellipse cx="148.5" cy="441.9" rx="5.4" ry="5.8" fill="#5a0f08" opacity="0.95" filter="url(#b1)"/>
<ellipse cx="148.5" cy="441.9" rx="5" ry="5.4" fill="#e02a18" opacity="0.55" filter="url(#speck)"/>
<ellipse cx="164.7" cy="441.9" rx="5.4" ry="5.8" fill="#5a0f08" opacity="0.95" filter="url(#b1)"/>
<ellipse cx="164.7" cy="441.9" rx="5" ry="5.4" fill="#e02a18" opacity="0.55" filter="url(#speck)"/>
<ellipse cx="179.4" cy="442" rx="5.4" ry="5.8" fill="#5a0f08" opacity="0.95" filter="url(#b1)"/>
<ellipse cx="179.4" cy="442" rx="5" ry="5.4" fill="#e02a18" opacity="0.55" filter="url(#speck)"/>
<ellipse cx="194.1" cy="446" rx="5.4" ry="5.8" fill="#5a0f08" opacity="0.95" filter="url(#b1)"/>
<ellipse cx="194.1" cy="446" rx="5" ry="5.4" fill="#e02a18" opacity="0.55" filter="url(#speck)"/>
<ellipse cx="23.0" cy="494.6" rx="8.7" ry="11" fill="#8a160c" filter="url(#b1)"/>
<ellipse cx="23.8" cy="513.6" rx="9.7" ry="18.4" fill="#c81c0c" filter="url(#b1)"/>
<ellipse cx="23.0" cy="493.6" rx="8.0" ry="9" fill="#d83018" opacity="0.35" filter="url(#speck)"/>
<ellipse cx="41.5" cy="493.9" rx="9.7" ry="11" fill="#8a160c" filter="url(#b1)"/>
<ellipse cx="42.3" cy="515.6" rx="10.7" ry="20.0" fill="#c81c0c" filter="url(#b1)"/>
<ellipse cx="41.5" cy="492.9" rx="9.0" ry="9" fill="#d83018" opacity="0.35" filter="url(#speck)"/>
<ellipse cx="60.0" cy="492.5" rx="8.7" ry="11" fill="#8a160c" filter="url(#b1)"/>
<ellipse cx="60.8" cy="511.1" rx="9.7" ry="18.2" fill="#c81c0c" filter="url(#b1)"/>
<ellipse cx="60.0" cy="491.5" rx="8.0" ry="9" fill="#d83018" opacity="0.35" filter="url(#speck)"/>
<ellipse cx="79.4" cy="489.0" rx="8.7" ry="11" fill="#8a160c" filter="url(#b1)"/>
<ellipse cx="80.2" cy="511.1" rx="9.7" ry="20.3" fill="#c81c0c" filter="url(#b1)"/>
<ellipse cx="79.4" cy="488.0" rx="8.0" ry="9" fill="#d83018" opacity="0.35" filter="url(#speck)"/>
<ellipse cx="98.0" cy="490.4" rx="8.7" ry="11" fill="#8a160c" filter="url(#b1)"/>
<ellipse cx="98.8" cy="511.6" rx="9.7" ry="19.8" fill="#c81c0c" filter="url(#b1)"/>
<ellipse cx="98.0" cy="489.4" rx="8.0" ry="9" fill="#d83018" opacity="0.35" filter="url(#speck)"/>
<ellipse cx="116.5" cy="491.3" rx="8.7" ry="11" fill="#8a160c" filter="url(#b1)"/>
<ellipse cx="117.3" cy="511.1" rx="9.7" ry="18.9" fill="#c81c0c" filter="url(#b1)"/>
<ellipse cx="116.5" cy="490.3" rx="8.0" ry="9" fill="#d83018" opacity="0.35" filter="url(#speck)"/>
<ellipse cx="136.0" cy="491.0" rx="8.2" ry="11" fill="#8a160c" filter="url(#b1)"/>
<ellipse cx="136.8" cy="512.4" rx="9.2" ry="19.8" fill="#c81c0c" filter="url(#b1)"/>
<ellipse cx="136.0" cy="490.0" rx="7.5" ry="9" fill="#d83018" opacity="0.35" filter="url(#speck)"/>
<ellipse cx="155.0" cy="492.0" rx="8.7" ry="11" fill="#8a160c" filter="url(#b1)"/>
<ellipse cx="155.8" cy="511.9" rx="9.7" ry="18.9" fill="#c81c0c" filter="url(#b1)"/>
<ellipse cx="155.0" cy="491.0" rx="8.0" ry="9" fill="#d83018" opacity="0.35" filter="url(#speck)"/>
<ellipse cx="174.0" cy="490.0" rx="8.7" ry="11" fill="#8a160c" filter="url(#b1)"/>
<ellipse cx="174.8" cy="514.2" rx="9.7" ry="21.5" fill="#c81c0c" filter="url(#b1)"/>
<ellipse cx="174.0" cy="489.0" rx="8.0" ry="9" fill="#d83018" opacity="0.35" filter="url(#speck)"/>
<ellipse cx="192.5" cy="490.0" rx="8.2" ry="11" fill="#8a160c" filter="url(#b1)"/>
<ellipse cx="193.3" cy="513.3" rx="9.2" ry="21.0" fill="#c81c0c" filter="url(#b1)"/>
<ellipse cx="192.5" cy="489.0" rx="7.5" ry="9" fill="#d83018" opacity="0.35" filter="url(#speck)"/>
<ellipse cx="208.0" cy="491.0" rx="7.2" ry="11" fill="#8a160c" filter="url(#b1)"/>
<ellipse cx="208.8" cy="512.2" rx="8.2" ry="19.8" fill="#c81c0c" filter="url(#b1)"/>
<ellipse cx="208.0" cy="490.0" rx="6.5" ry="9" fill="#d83018" opacity="0.35" filter="url(#speck)"/>
<ellipse cx="23.8" cy="513.6" rx="9.2" ry="17.4" fill="#e8c020" opacity="0.5" filter="url(#fib)"/>
<ellipse cx="23.8" cy="513.6" rx="8.3" ry="14.5" fill="#60e020" opacity="0.3" filter="url(#speck)"/>
<ellipse cx="42.3" cy="515.6" rx="10.2" ry="19.0" fill="#e8c020" opacity="0.5" filter="url(#fib)"/>
<ellipse cx="42.3" cy="515.6" rx="9.3" ry="15.8" fill="#60e020" opacity="0.3" filter="url(#speck)"/>
<ellipse cx="60.8" cy="511.1" rx="9.2" ry="17.2" fill="#e8c020" opacity="0.5" filter="url(#fib)"/>
<ellipse cx="60.8" cy="511.1" rx="8.3" ry="14.3" fill="#60e020" opacity="0.3" filter="url(#speck)"/>
<ellipse cx="80.2" cy="511.1" rx="9.2" ry="19.2" fill="#e8c020" opacity="0.5" filter="url(#fib)"/>
<ellipse cx="80.2" cy="511.1" rx="8.3" ry="16.0" fill="#60e020" opacity="0.3" filter="url(#speck)"/>
<ellipse cx="98.8" cy="511.6" rx="9.2" ry="18.7" fill="#e8c020" opacity="0.5" filter="url(#fib)"/>
<ellipse cx="98.8" cy="511.6" rx="8.3" ry="15.6" fill="#60e020" opacity="0.3" filter="url(#speck)"/>
<ellipse cx="117.3" cy="511.1" rx="9.2" ry="17.9" fill="#e8c020" opacity="0.5" filter="url(#fib)"/>
<ellipse cx="117.3" cy="511.1" rx="8.3" ry="14.9" fill="#60e020" opacity="0.3" filter="url(#speck)"/>
<ellipse cx="136.8" cy="512.4" rx="8.7" ry="18.8" fill="#e8c020" opacity="0.5" filter="url(#fib)"/>
<ellipse cx="136.8" cy="512.4" rx="7.8" ry="15.7" fill="#60e020" opacity="0.3" filter="url(#speck)"/>
<ellipse cx="155.8" cy="511.9" rx="9.2" ry="17.9" fill="#e8c020" opacity="0.5" filter="url(#fib)"/>
<ellipse cx="155.8" cy="511.9" rx="8.3" ry="14.9" fill="#60e020" opacity="0.3" filter="url(#speck)"/>
<ellipse cx="174.8" cy="514.2" rx="9.2" ry="20.4" fill="#e8c020" opacity="0.5" filter="url(#fib)"/>
<ellipse cx="174.8" cy="514.2" rx="8.3" ry="17.0" fill="#60e020" opacity="0.3" filter="url(#speck)"/>
<ellipse cx="193.3" cy="513.3" rx="8.7" ry="19.9" fill="#e8c020" opacity="0.5" filter="url(#fib)"/>
<ellipse cx="193.3" cy="513.3" rx="7.8" ry="16.6" fill="#60e020" opacity="0.3" filter="url(#speck)"/>
<ellipse cx="208.8" cy="512.2" rx="7.7" ry="18.7" fill="#e8c020" opacity="0.5" filter="url(#fib)"/>
<ellipse cx="208.8" cy="512.2" rx="6.8" ry="15.6" fill="#60e020" opacity="0.3" filter="url(#speck)"/>
<rect x="18" y="495" width="190" height="3" fill="#40c020" opacity="0.5" filter="url(#b1)"/>
<path d="M29,492 Q31,505 34,522" stroke="#40e020" stroke-width="3.2" fill="none" opacity="0.7" filter="url(#b1)"/>
<path d="M48.5,492 Q50.5,505 53.5,522" stroke="#40e020" stroke-width="3.2" fill="none" opacity="0.7" filter="url(#b1)"/>
<path d="M67.8,492 Q69.8,505 72.8,522" stroke="#40e020" stroke-width="3.2" fill="none" opacity="0.7" filter="url(#b1)"/>
<path d="M86.7,492 Q88.7,505 91.7,522" stroke="#40e020" stroke-width="3.2" fill="none" opacity="0.7" filter="url(#b1)"/>
<path d="M105.2,492 Q107.2,505 110.2,522" stroke="#40e020" stroke-width="3.2" fill="none" opacity="0.7" filter="url(#b1)"/>
<path d="M124.3,492 Q126.3,505 129.3,522" stroke="#40e020" stroke-width="3.2" fill="none" opacity="0.7" filter="url(#b1)"/>
<path d="M143.5,492 Q145.5,505 148.5,522" stroke="#40e020" stroke-width="3.2" fill="none" opacity="0.7" filter="url(#b1)"/>
<path d="M162.5,492 Q164.5,505 167.5,522" stroke="#40e020" stroke-width="3.2" fill="none" opacity="0.7" filter="url(#b1)"/>
<path d="M181.2,492 Q183.2,505 186.2,522" stroke="#40e020" stroke-width="3.2" fill="none" opacity="0.7" filter="url(#b1)"/>
<path d="M198.5,492 Q200.5,505 203.5,522" stroke="#40e020" stroke-width="3.2" fill="none" opacity="0.7" filter="url(#b1)"/>
<circle cx="125.1" cy="485.8" r="0.55" fill="#30c030" opacity="0.7"/>
<circle cx="171.4" cy="428.6" r="0.55" fill="#30c030" opacity="0.7"/>
<circle cx="140.4" cy="527.6" r="0.55" fill="#30c030" opacity="0.7"/>
<circle cx="188.6" cy="413.9" r="0.55" fill="#30c030" opacity="0.7"/>
<circle cx="140.3" cy="483.4" r="0.55" fill="#30c030" opacity="0.7"/>
<circle cx="112.5" cy="539.7" r="0.55" fill="#30c030" opacity="0.7"/>
<circle cx="117.2" cy="455.7" r="0.55" fill="#30c030" opacity="0.7"/>
<circle cx="195.1" cy="486.4" r="0.55" fill="#30c030" opacity="0.7"/>
<circle cx="74.6" cy="433.7" r="0.55" fill="#30c030" opacity="0.7"/>
<circle cx="111.1" cy="392.3" r="0.55" fill="#30c030" opacity="0.7"/>
<circle cx="132.0" cy="502.6" r="0.55" fill="#30c030" opacity="0.7"/>
<circle cx="98.0" cy="520.4" r="0.55" fill="#30c030" opacity="0.7"/>
<circle cx="192.2" cy="473.5" r="0.55" fill="#30c030" opacity="0.7"/>
<circle cx="145.9" cy="402.7" r="0.55" fill="#30c030" opacity="0.7"/>
<circle cx="28.5" cy="542.0" r="0.55" fill="#30c030" opacity="0.7"/>
<circle cx="71.4" cy="418.2" r="0.55" fill="#30c030" opacity="0.7"/>
<circle cx="186.3" cy="504.8" r="0.55" fill="#30c030" opacity="0.7"/>
<circle cx="41.1" cy="435.7" r="0.55" fill="#30c030" opacity="0.7"/>
<circle cx="63.6" cy="427.8" r="0.55" fill="#30c030" opacity="0.7"/>
<circle cx="19.2" cy="468.5" r="0.55" fill="#30c030" opacity="0.7"/>
<circle cx="75.1" cy="447.4" r="0.55" fill="#30c030" opacity="0.7"/>
<circle cx="52.8" cy="401.6" r="0.55" fill="#30c030" opacity="0.7"/>
<circle cx="24.2" cy="524.7" r="0.55" fill="#30c030" opacity="0.7"/>
<circle cx="158.3" cy="474.1" r="0.55" fill="#30c030" opacity="0.7"/>
<circle cx="41.2" cy="407.8" r="0.55" fill="#30c030" opacity="0.7"/>
<circle cx="40.5" cy="434.9" r="0.55" fill="#30c030" opacity="0.7"/>
<circle cx="28.8" cy="428.3" r="0.55" fill="#30c030" opacity="0.7"/>
<circle cx="56.1" cy="414.9" r="0.55" fill="#30c030" opacity="0.7"/>
<circle cx="140.7" cy="457.7" r="0.55" fill="#30c030" opacity="0.7"/>
<circle cx="106.9" cy="441.6" r="0.55" fill="#30c030" opacity="0.7"/>
<circle cx="119.2" cy="510.5" r="0.55" fill="#30c030" opacity="0.7"/>
<circle cx="75.8" cy="395.1" r="0.55" fill="#30c030" opacity="0.7"/>
<circle cx="108.3" cy="445.0" r="0.55" fill="#30c030" opacity="0.7"/>
<circle cx="164.5" cy="401.7" r="0.55" fill="#30c030" opacity="0.7"/>
<circle cx="181.8" cy="386.2" r="0.55" fill="#30c030" opacity="0.7"/>
<circle cx="119.8" cy="455.4" r="0.55" fill="#30c030" opacity="0.7"/>
<circle cx="77.2" cy="527.3" r="0.55" fill="#30c030" opacity="0.7"/>
<circle cx="149.8" cy="410.1" r="0.55" fill="#30c030" opacity="0.7"/>
<circle cx="110.9" cy="482.6" r="0.55" fill="#30c030" opacity="0.7"/>
<circle cx="24.3" cy="397.9" r="0.55" fill="#30c030" opacity="0.7"/>
<circle cx="130.9" cy="501.5" r="0.55" fill="#30c030" opacity="0.7"/>
<circle cx="104.8" cy="451.9" r="0.55" fill="#30c030" opacity="0.7"/>
<circle cx="113.2" cy="425.9" r="0.55" fill="#30c030" opacity="0.7"/>
<circle cx="182.5" cy="539.0" r="0.55" fill="#30c030" opacity="0.7"/>
<circle cx="108.5" cy="387.1" r="0.55" fill="#30c030" opacity="0.7"/>
<circle cx="92.5" cy="513.4" r="0.55" fill="#30c030" opacity="0.7"/>
<circle cx="79.0" cy="400.8" r="0.55" fill="#30c030" opacity="0.7"/>
<circle cx="52.8" cy="498.7" r="0.55" fill="#30c030" opacity="0.7"/>
<circle cx="134.8" cy="430.0" r="0.55" fill="#30c030" opacity="0.7"/>
<circle cx="135.0" cy="506.6" r="0.55" fill="#30c030" opacity="0.7"/>
<circle cx="199.3" cy="518.0" r="0.55" fill="#30c030" opacity="0.7"/>
<circle cx="99.5" cy="514.5" r="0.55" fill="#30c030" opacity="0.7"/>
<circle cx="191.7" cy="524.0" r="0.55" fill="#30c030" opacity="0.7"/>
<circle cx="158.9" cy="478.5" r="0.55" fill="#30c030" opacity="0.7"/>
<circle cx="114.0" cy="521.0" r="0.55" fill="#30c030" opacity="0.7"/>
<circle cx="135.3" cy="500.2" r="0.55" fill="#30c030" opacity="0.7"/>
<circle cx="60.8" cy="398.7" r="0.55" fill="#30c030" opacity="0.7"/>
<circle cx="68.7" cy="478.0" r="0.55" fill="#30c030" opacity="0.7"/>
<circle cx="125.6" cy="415.9" r="0.55" fill="#30c030" opacity="0.7"/>
<circle cx="53.4" cy="537.1" r="0.55" fill="#30c030" opacity="0.7"/>
<circle cx="31.4" cy="533.3" r="0.55" fill="#30c030" opacity="0.7"/>
<circle cx="162.9" cy="476.4" r="0.55" fill="#30c030" opacity="0.7"/>
<circle cx="204.9" cy="493.5" r="0.55" fill="#30c030" opacity="0.7"/>
<circle cx="19.3" cy="535.4" r="0.55" fill="#30c030" opacity="0.7"/>
<circle cx="95.6" cy="531.7" r="0.55" fill="#30c030" opacity="0.7"/>
<circle cx="170.8" cy="406.1" r="0.55" fill="#30c030" opacity="0.7"/>
<circle cx="25.4" cy="387.2" r="0.55" fill="#30c030" opacity="0.7"/>
<circle cx="164.5" cy="511.5" r="0.55" fill="#30c030" opacity="0.7"/>
<circle cx="60.8" cy="402.0" r="0.55" fill="#30c030" opacity="0.7"/>
<circle cx="86.8" cy="512.8" r="0.55" fill="#30c030" opacity="0.7"/>
<circle cx="157.0" cy="523.7" r="0.55" fill="#30c030" opacity="0.7"/>
<circle cx="199.7" cy="505.6" r="0.55" fill="#30c030" opacity="0.7"/>
<circle cx="174.8" cy="386.4" r="0.55" fill="#30c030" opacity="0.7"/>
<circle cx="19.2" cy="523.0" r="0.55" fill="#30c030" opacity="0.7"/>
<circle cx="134.1" cy="436.5" r="0.55" fill="#30c030" opacity="0.7"/>
<circle cx="42.1" cy="437.5" r="0.55" fill="#30c030" opacity="0.7"/>
<circle cx="81.7" cy="463.8" r="0.55" fill="#30c030" opacity="0.7"/>
<circle cx="102.4" cy="416.4" r="0.55" fill="#30c030" opacity="0.7"/>
<circle cx="33.4" cy="416.6" r="0.55" fill="#30c030" opacity="0.7"/>
<circle cx="42.1" cy="400.0" r="0.55" fill="#30c030" opacity="0.7"/>
<circle cx="95.8" cy="404.8" r="0.55" fill="#30c030" opacity="0.7"/>
<circle cx="168.2" cy="471.7" r="0.55" fill="#30c030" opacity="0.7"/>
<circle cx="104.4" cy="487.0" r="0.55" fill="#30c030" opacity="0.7"/>
<circle cx="62.1" cy="387.6" r="0.55" fill="#30c030" opacity="0.7"/>
<circle cx="32.8" cy="438.2" r="0.55" fill="#30c030" opacity="0.7"/>
<circle cx="85.8" cy="424.6" r="0.55" fill="#30c030" opacity="0.7"/>
<circle cx="75.5" cy="518.4" r="0.55" fill="#30c030" opacity="0.7"/>
<circle cx="19.6" cy="456.3" r="0.55" fill="#30c030" opacity="0.7"/>
<circle cx="89.9" cy="429.3" r="0.55" fill="#30c030" opacity="0.7"/>
<circle cx="154.1" cy="420.0" r="0.55" fill="#30c030" opacity="0.7"/>
<circle cx="25.9" cy="409.5" r="0.55" fill="#30c030" opacity="0.7"/>
<circle cx="201.6" cy="439.6" r="0.55" fill="#30c030" opacity="0.7"/>
<circle cx="40.0" cy="540.5" r="0.55" fill="#30c030" opacity="0.7"/>
<circle cx="139.1" cy="538.2" r="0.55" fill="#30c030" opacity="0.7"/>
<circle cx="80.2" cy="514.5" r="0.55" fill="#30c030" opacity="0.7"/>
<circle cx="25.8" cy="422.1" r="0.55" fill="#30c030" opacity="0.7"/>
<circle cx="167.2" cy="467.1" r="0.55" fill="#30c030" opacity="0.7"/>
<circle cx="166.2" cy="446.1" r="0.55" fill="#30c030" opacity="0.7"/>
<circle cx="182.5" cy="396.3" r="0.55" fill="#30c030" opacity="0.7"/>
<circle cx="135.0" cy="414.2" r="0.55" fill="#30c030" opacity="0.7"/>
<circle cx="55.4" cy="526.3" r="0.55" fill="#30c030" opacity="0.7"/>
<circle cx="98.7" cy="514.9" r="0.55" fill="#30c030" opacity="0.7"/>
<circle cx="71.3" cy="501.7" r="0.55" fill="#30c030" opacity="0.7"/>
<circle cx="188.3" cy="485.0" r="0.55" fill="#30c030" opacity="0.7"/>
<circle cx="62.0" cy="491.7" r="0.55" fill="#30c030" opacity="0.7"/>
<circle cx="196.5" cy="513.1" r="0.55" fill="#30c030" opacity="0.7"/>
<circle cx="101.3" cy="448.3" r="0.55" fill="#30c030" opacity="0.7"/>
<circle cx="36.5" cy="507.8" r="0.55" fill="#30c030" opacity="0.7"/>
<circle cx="47.7" cy="419.1" r="0.55" fill="#30c030" opacity="0.7"/>
<circle cx="24.2" cy="410.3" r="0.55" fill="#30c030" opacity="0.7"/>
<circle cx="90.0" cy="460.7" r="0.55" fill="#30c030" opacity="0.7"/>
<circle cx="50.9" cy="452.3" r="0.55" fill="#30c030" opacity="0.7"/>
<circle cx="160.3" cy="399.4" r="0.55" fill="#30c030" opacity="0.7"/>
<circle cx="43.4" cy="468.1" r="0.55" fill="#30c030" opacity="0.7"/>
<circle cx="187.7" cy="531.9" r="0.55" fill="#30c030" opacity="0.7"/>
<circle cx="124.8" cy="398.6" r="0.55" fill="#30c030" opacity="0.7"/>
<circle cx="182.0" cy="544.0" r="0.55" fill="#30c030" opacity="0.7"/>
<circle cx="186.8" cy="469.5" r="0.55" fill="#30c030" opacity="0.7"/>
<circle cx="89.8" cy="478.5" r="0.55" fill="#30c030" opacity="0.7"/>
<circle cx="166.4" cy="544.3" r="0.55" fill="#30c030" opacity="0.7"/>
</g>
<text x="26" y="401.7" font-size="13.8" fill="#fff">WT</text>
<text x="138.7" y="402.5" font-size="13.6" text-anchor="start" fill="#2da83e" >PMCA1</text>
<text x="125.4" y="418.0" font-size="13.8" text-anchor="start" fill="#e8603c" >Myosin VIIA</text>
<text x="193.6" y="541.6" font-size="7.6" text-anchor="middle" fill="#fff" >10 µm</text>
<line x1="183.00" y1="544.20" x2="204.50" y2="544.20" stroke="#fff" stroke-width="1.5" />
<clipPath id="clipG2"><rect x="223.1" y="383.8" width="187.5" height="161.6"/></clipPath><g clip-path="url(#clipG2)">
<rect x="223.10" y="383.80" width="187.50" height="161.60" fill="#000" stroke="none" stroke-width="1" />
<rect x="223.10" y="522.00" width="187.50" height="24.00" fill="#1c0000" stroke="none" stroke-width="1" />
<g opacity="0.4" transform="translate(210.0,381) skewX(20)"><rect x="-6.4" y="-10.5" width="12.8" height="21" rx="5" fill="#700808" filter="url(#b1)"/><ellipse cx="0" cy="-1" rx="5" ry="7.5" fill="#ff1818" opacity="0.6" filter="url(#b2)"/><rect x="-5.5" y="-9.5" width="11" height="19" rx="4" fill="#ff2828" opacity="0.3" filter="url(#speck)"/></g>
<g opacity="0.4" transform="translate(226.0,381) skewX(20)"><rect x="-6.4" y="-10.5" width="12.8" height="21" rx="5" fill="#700808" filter="url(#b1)"/><ellipse cx="0" cy="-1" rx="5" ry="7.5" fill="#ff1818" opacity="0.6" filter="url(#b2)"/><rect x="-5.5" y="-9.5" width="11" height="19" rx="4" fill="#ff2828" opacity="0.3" filter="url(#speck)"/></g>
<g opacity="0.4" transform="translate(242.0,381) skewX(20)"><rect x="-6.4" y="-10.5" width="12.8" height="21" rx="5" fill="#700808" filter="url(#b1)"/><ellipse cx="0" cy="-1" rx="5" ry="7.5" fill="#ff1818" opacity="0.6" filter="url(#b2)"/><rect x="-5.5" y="-9.5" width="11" height="19" rx="4" fill="#ff2828" opacity="0.3" filter="url(#speck)"/></g>
<g opacity="0.4" transform="translate(258.0,381) skewX(20)"><rect x="-6.4" y="-10.5" width="12.8" height="21" rx="5" fill="#700808" filter="url(#b1)"/><ellipse cx="0" cy="-1" rx="5" ry="7.5" fill="#ff1818" opacity="0.6" filter="url(#b2)"/><rect x="-5.5" y="-9.5" width="11" height="19" rx="4" fill="#ff2828" opacity="0.3" filter="url(#speck)"/></g>
<g opacity="0.4" transform="translate(274.0,381) skewX(20)"><rect x="-6.4" y="-10.5" width="12.8" height="21" rx="5" fill="#700808" filter="url(#b1)"/><ellipse cx="0" cy="-1" rx="5" ry="7.5" fill="#ff1818" opacity="0.6" filter="url(#b2)"/><rect x="-5.5" y="-9.5" width="11" height="19" rx="4" fill="#ff2828" opacity="0.3" filter="url(#speck)"/></g>
<g opacity="0.4" transform="translate(290.0,381) skewX(20)"><rect x="-6.4" y="-10.5" width="12.8" height="21" rx="5" fill="#700808" filter="url(#b1)"/><ellipse cx="0" cy="-1" rx="5" ry="7.5" fill="#ff1818" opacity="0.6" filter="url(#b2)"/><rect x="-5.5" y="-9.5" width="11" height="19" rx="4" fill="#ff2828" opacity="0.3" filter="url(#speck)"/></g>
<g opacity="0.4" transform="translate(306.0,381) skewX(20)"><rect x="-6.4" y="-10.5" width="12.8" height="21" rx="5" fill="#700808" filter="url(#b1)"/><ellipse cx="0" cy="-1" rx="5" ry="7.5" fill="#ff1818" opacity="0.6" filter="url(#b2)"/><rect x="-5.5" y="-9.5" width="11" height="19" rx="4" fill="#ff2828" opacity="0.3" filter="url(#speck)"/></g>
<g opacity="0.4" transform="translate(322.0,381) skewX(20)"><rect x="-6.4" y="-10.5" width="12.8" height="21" rx="5" fill="#700808" filter="url(#b1)"/><ellipse cx="0" cy="-1" rx="5" ry="7.5" fill="#ff1818" opacity="0.6" filter="url(#b2)"/><rect x="-5.5" y="-9.5" width="11" height="19" rx="4" fill="#ff2828" opacity="0.3" filter="url(#speck)"/></g>
<g opacity="0.4" transform="translate(338.0,381) skewX(20)"><rect x="-6.4" y="-10.5" width="12.8" height="21" rx="5" fill="#700808" filter="url(#b1)"/><ellipse cx="0" cy="-1" rx="5" ry="7.5" fill="#ff1818" opacity="0.6" filter="url(#b2)"/><rect x="-5.5" y="-9.5" width="11" height="19" rx="4" fill="#ff2828" opacity="0.3" filter="url(#speck)"/></g>
<g opacity="0.4" transform="translate(354.0,381) skewX(20)"><rect x="-6.4" y="-10.5" width="12.8" height="21" rx="5" fill="#700808" filter="url(#b1)"/><ellipse cx="0" cy="-1" rx="5" ry="7.5" fill="#ff1818" opacity="0.6" filter="url(#b2)"/><rect x="-5.5" y="-9.5" width="11" height="19" rx="4" fill="#ff2828" opacity="0.3" filter="url(#speck)"/></g>
<g opacity="0.4" transform="translate(370.0,381) skewX(20)"><rect x="-6.4" y="-10.5" width="12.8" height="21" rx="5" fill="#700808" filter="url(#b1)"/><ellipse cx="0" cy="-1" rx="5" ry="7.5" fill="#ff1818" opacity="0.6" filter="url(#b2)"/><rect x="-5.5" y="-9.5" width="11" height="19" rx="4" fill="#ff2828" opacity="0.3" filter="url(#speck)"/></g>
<g opacity="0.4" transform="translate(386.0,381) skewX(20)"><rect x="-6.4" y="-10.5" width="12.8" height="21" rx="5" fill="#700808" filter="url(#b1)"/><ellipse cx="0" cy="-1" rx="5" ry="7.5" fill="#ff1818" opacity="0.6" filter="url(#b2)"/><rect x="-5.5" y="-9.5" width="11" height="19" rx="4" fill="#ff2828" opacity="0.3" filter="url(#speck)"/></g>
<g opacity="0.4" transform="translate(402.0,381) skewX(20)"><rect x="-6.4" y="-10.5" width="12.8" height="21" rx="5" fill="#700808" filter="url(#b1)"/><ellipse cx="0" cy="-1" rx="5" ry="7.5" fill="#ff1818" opacity="0.6" filter="url(#b2)"/><rect x="-5.5" y="-9.5" width="11" height="19" rx="4" fill="#ff2828" opacity="0.3" filter="url(#speck)"/></g>
<g opacity="0.4" transform="translate(418.0,381) skewX(20)"><rect x="-6.4" y="-10.5" width="12.8" height="21" rx="5" fill="#700808" filter="url(#b1)"/><ellipse cx="0" cy="-1" rx="5" ry="7.5" fill="#ff1818" opacity="0.6" filter="url(#b2)"/><rect x="-5.5" y="-9.5" width="11" height="19" rx="4" fill="#ff2828" opacity="0.3" filter="url(#speck)"/></g>
<g opacity="1" transform="translate(208.0,402.5) skewX(20)"><rect x="-6.4" y="-10.5" width="12.8" height="21" rx="5" fill="#700808" filter="url(#b1)"/><ellipse cx="0" cy="-1" rx="5" ry="7.5" fill="#ff1818" opacity="0.6" filter="url(#b2)"/><rect x="-5.5" y="-9.5" width="11" height="19" rx="4" fill="#ff2828" opacity="0.3" filter="url(#speck)"/></g>
<g opacity="1" transform="translate(224.0,402.5) skewX(20)"><rect x="-6.4" y="-10.5" width="12.8" height="21" rx="5" fill="#700808" filter="url(#b1)"/><ellipse cx="0" cy="-1" rx="5" ry="7.5" fill="#ff1818" opacity="0.6" filter="url(#b2)"/><rect x="-5.5" y="-9.5" width="11" height="19" rx="4" fill="#ff2828" opacity="0.3" filter="url(#speck)"/></g>
<g opacity="1" transform="translate(240.0,402.5) skewX(20)"><rect x="-6.4" y="-10.5" width="12.8" height="21" rx="5" fill="#700808" filter="url(#b1)"/><ellipse cx="0" cy="-1" rx="5" ry="7.5" fill="#ff1818" opacity="0.6" filter="url(#b2)"/><rect x="-5.5" y="-9.5" width="11" height="19" rx="4" fill="#ff2828" opacity="0.3" filter="url(#speck)"/></g>
<g opacity="1" transform="translate(256.0,402.5) skewX(20)"><rect x="-6.4" y="-10.5" width="12.8" height="21" rx="5" fill="#700808" filter="url(#b1)"/><ellipse cx="0" cy="-1" rx="5" ry="7.5" fill="#ff1818" opacity="0.6" filter="url(#b2)"/><rect x="-5.5" y="-9.5" width="11" height="19" rx="4" fill="#ff2828" opacity="0.3" filter="url(#speck)"/></g>
<g opacity="1" transform="translate(272.0,402.5) skewX(20)"><rect x="-6.4" y="-10.5" width="12.8" height="21" rx="5" fill="#700808" filter="url(#b1)"/><ellipse cx="0" cy="-1" rx="5" ry="7.5" fill="#ff1818" opacity="0.6" filter="url(#b2)"/><rect x="-5.5" y="-9.5" width="11" height="19" rx="4" fill="#ff2828" opacity="0.3" filter="url(#speck)"/></g>
<g opacity="1" transform="translate(288.0,402.5) skewX(20)"><rect x="-6.4" y="-10.5" width="12.8" height="21" rx="5" fill="#700808" filter="url(#b1)"/><ellipse cx="0" cy="-1" rx="5" ry="7.5" fill="#ff1818" opacity="0.6" filter="url(#b2)"/><rect x="-5.5" y="-9.5" width="11" height="19" rx="4" fill="#ff2828" opacity="0.3" filter="url(#speck)"/></g>
<g opacity="1" transform="translate(304.0,402.5) skewX(20)"><rect x="-6.4" y="-10.5" width="12.8" height="21" rx="5" fill="#700808" filter="url(#b1)"/><ellipse cx="0" cy="-1" rx="5" ry="7.5" fill="#ff1818" opacity="0.6" filter="url(#b2)"/><rect x="-5.5" y="-9.5" width="11" height="19" rx="4" fill="#ff2828" opacity="0.3" filter="url(#speck)"/></g>
<g opacity="1" transform="translate(320.0,402.5) skewX(20)"><rect x="-6.4" y="-10.5" width="12.8" height="21" rx="5" fill="#700808" filter="url(#b1)"/><ellipse cx="0" cy="-1" rx="5" ry="7.5" fill="#ff1818" opacity="0.6" filter="url(#b2)"/><rect x="-5.5" y="-9.5" width="11" height="19" rx="4" fill="#ff2828" opacity="0.3" filter="url(#speck)"/></g>
<g opacity="1" transform="translate(336.0,402.5) skewX(20)"><rect x="-6.4" y="-10.5" width="12.8" height="21" rx="5" fill="#700808" filter="url(#b1)"/><ellipse cx="0" cy="-1" rx="5" ry="7.5" fill="#ff1818" opacity="0.6" filter="url(#b2)"/><rect x="-5.5" y="-9.5" width="11" height="19" rx="4" fill="#ff2828" opacity="0.3" filter="url(#speck)"/></g>
<g opacity="1" transform="translate(352.0,402.5) skewX(20)"><rect x="-6.4" y="-10.5" width="12.8" height="21" rx="5" fill="#700808" filter="url(#b1)"/><ellipse cx="0" cy="-1" rx="5" ry="7.5" fill="#ff1818" opacity="0.6" filter="url(#b2)"/><rect x="-5.5" y="-9.5" width="11" height="19" rx="4" fill="#ff2828" opacity="0.3" filter="url(#speck)"/></g>
<g opacity="1" transform="translate(368.0,402.5) skewX(20)"><rect x="-6.4" y="-10.5" width="12.8" height="21" rx="5" fill="#700808" filter="url(#b1)"/><ellipse cx="0" cy="-1" rx="5" ry="7.5" fill="#ff1818" opacity="0.6" filter="url(#b2)"/><rect x="-5.5" y="-9.5" width="11" height="19" rx="4" fill="#ff2828" opacity="0.3" filter="url(#speck)"/></g>
<g opacity="1" transform="translate(384.0,402.5) skewX(20)"><rect x="-6.4" y="-10.5" width="12.8" height="21" rx="5" fill="#700808" filter="url(#b1)"/><ellipse cx="0" cy="-1" rx="5" ry="7.5" fill="#ff1818" opacity="0.6" filter="url(#b2)"/><rect x="-5.5" y="-9.5" width="11" height="19" rx="4" fill="#ff2828" opacity="0.3" filter="url(#speck)"/></g>
<g opacity="1" transform="translate(400.0,402.5) skewX(20)"><rect x="-6.4" y="-10.5" width="12.8" height="21" rx="5" fill="#700808" filter="url(#b1)"/><ellipse cx="0" cy="-1" rx="5" ry="7.5" fill="#ff1818" opacity="0.6" filter="url(#b2)"/><rect x="-5.5" y="-9.5" width="11" height="19" rx="4" fill="#ff2828" opacity="0.3" filter="url(#speck)"/></g>
<g opacity="1" transform="translate(416.0,402.5) skewX(20)"><rect x="-6.4" y="-10.5" width="12.8" height="21" rx="5" fill="#700808" filter="url(#b1)"/><ellipse cx="0" cy="-1" rx="5" ry="7.5" fill="#ff1818" opacity="0.6" filter="url(#b2)"/><rect x="-5.5" y="-9.5" width="11" height="19" rx="4" fill="#ff2828" opacity="0.3" filter="url(#speck)"/></g>
<g opacity="1" transform="translate(212.0,424) skewX(20)"><rect x="-6.4" y="-10.5" width="12.8" height="21" rx="5" fill="#700808" filter="url(#b1)"/><ellipse cx="0" cy="-1" rx="5" ry="7.5" fill="#ff1818" opacity="0.6" filter="url(#b2)"/><rect x="-5.5" y="-9.5" width="11" height="19" rx="4" fill="#ff2828" opacity="0.3" filter="url(#speck)"/></g>
<g opacity="1" transform="translate(228.0,424) skewX(20)"><rect x="-6.4" y="-10.5" width="12.8" height="21" rx="5" fill="#700808" filter="url(#b1)"/><ellipse cx="0" cy="-1" rx="5" ry="7.5" fill="#ff1818" opacity="0.6" filter="url(#b2)"/><rect x="-5.5" y="-9.5" width="11" height="19" rx="4" fill="#ff2828" opacity="0.3" filter="url(#speck)"/></g>
<g opacity="1" transform="translate(244.0,424) skewX(20)"><rect x="-6.4" y="-10.5" width="12.8" height="21" rx="5" fill="#700808" filter="url(#b1)"/><ellipse cx="0" cy="-1" rx="5" ry="7.5" fill="#ff1818" opacity="0.6" filter="url(#b2)"/><rect x="-5.5" y="-9.5" width="11" height="19" rx="4" fill="#ff2828" opacity="0.3" filter="url(#speck)"/></g>
<g opacity="1" transform="translate(260.0,424) skewX(20)"><rect x="-6.4" y="-10.5" width="12.8" height="21" rx="5" fill="#700808" filter="url(#b1)"/><ellipse cx="0" cy="-1" rx="5" ry="7.5" fill="#ff1818" opacity="0.6" filter="url(#b2)"/><rect x="-5.5" y="-9.5" width="11" height="19" rx="4" fill="#ff2828" opacity="0.3" filter="url(#speck)"/></g>
<g opacity="1" transform="translate(276.0,424) skewX(20)"><rect x="-6.4" y="-10.5" width="12.8" height="21" rx="5" fill="#700808" filter="url(#b1)"/><ellipse cx="0" cy="-1" rx="5" ry="7.5" fill="#ff1818" opacity="0.6" filter="url(#b2)"/><rect x="-5.5" y="-9.5" width="11" height="19" rx="4" fill="#ff2828" opacity="0.3" filter="url(#speck)"/></g>
<g opacity="1" transform="translate(292.0,424) skewX(20)"><rect x="-6.4" y="-10.5" width="12.8" height="21" rx="5" fill="#700808" filter="url(#b1)"/><ellipse cx="0" cy="-1" rx="5" ry="7.5" fill="#ff1818" opacity="0.6" filter="url(#b2)"/><rect x="-5.5" y="-9.5" width="11" height="19" rx="4" fill="#ff2828" opacity="0.3" filter="url(#speck)"/></g>
<g opacity="1" transform="translate(308.0,424) skewX(20)"><rect x="-6.4" y="-10.5" width="12.8" height="21" rx="5" fill="#700808" filter="url(#b1)"/><ellipse cx="0" cy="-1" rx="5" ry="7.5" fill="#ff1818" opacity="0.6" filter="url(#b2)"/><rect x="-5.5" y="-9.5" width="11" height="19" rx="4" fill="#ff2828" opacity="0.3" filter="url(#speck)"/></g>
<g opacity="1" transform="translate(324.0,424) skewX(20)"><rect x="-6.4" y="-10.5" width="12.8" height="21" rx="5" fill="#700808" filter="url(#b1)"/><ellipse cx="0" cy="-1" rx="5" ry="7.5" fill="#ff1818" opacity="0.6" filter="url(#b2)"/><rect x="-5.5" y="-9.5" width="11" height="19" rx="4" fill="#ff2828" opacity="0.3" filter="url(#speck)"/></g>
<g opacity="1" transform="translate(340.0,424) skewX(20)"><rect x="-6.4" y="-10.5" width="12.8" height="21" rx="5" fill="#700808" filter="url(#b1)"/><ellipse cx="0" cy="-1" rx="5" ry="7.5" fill="#ff1818" opacity="0.6" filter="url(#b2)"/><rect x="-5.5" y="-9.5" width="11" height="19" rx="4" fill="#ff2828" opacity="0.3" filter="url(#speck)"/></g>
<g opacity="1" transform="translate(356.0,424) skewX(20)"><rect x="-6.4" y="-10.5" width="12.8" height="21" rx="5" fill="#700808" filter="url(#b1)"/><ellipse cx="0" cy="-1" rx="5" ry="7.5" fill="#ff1818" opacity="0.6" filter="url(#b2)"/><rect x="-5.5" y="-9.5" width="11" height="19" rx="4" fill="#ff2828" opacity="0.3" filter="url(#speck)"/></g>
<g opacity="1" transform="translate(372.0,424) skewX(20)"><rect x="-6.4" y="-10.5" width="12.8" height="21" rx="5" fill="#700808" filter="url(#b1)"/><ellipse cx="0" cy="-1" rx="5" ry="7.5" fill="#ff1818" opacity="0.6" filter="url(#b2)"/><rect x="-5.5" y="-9.5" width="11" height="19" rx="4" fill="#ff2828" opacity="0.3" filter="url(#speck)"/></g>
<g opacity="1" transform="translate(388.0,424) skewX(20)"><rect x="-6.4" y="-10.5" width="12.8" height="21" rx="5" fill="#700808" filter="url(#b1)"/><ellipse cx="0" cy="-1" rx="5" ry="7.5" fill="#ff1818" opacity="0.6" filter="url(#b2)"/><rect x="-5.5" y="-9.5" width="11" height="19" rx="4" fill="#ff2828" opacity="0.3" filter="url(#speck)"/></g>
<g opacity="1" transform="translate(404.0,424) skewX(20)"><rect x="-6.4" y="-10.5" width="12.8" height="21" rx="5" fill="#700808" filter="url(#b1)"/><ellipse cx="0" cy="-1" rx="5" ry="7.5" fill="#ff1818" opacity="0.6" filter="url(#b2)"/><rect x="-5.5" y="-9.5" width="11" height="19" rx="4" fill="#ff2828" opacity="0.3" filter="url(#speck)"/></g>
<g opacity="1" transform="translate(420.0,424) skewX(20)"><rect x="-6.4" y="-10.5" width="12.8" height="21" rx="5" fill="#700808" filter="url(#b1)"/><ellipse cx="0" cy="-1" rx="5" ry="7.5" fill="#ff1818" opacity="0.6" filter="url(#b2)"/><rect x="-5.5" y="-9.5" width="11" height="19" rx="4" fill="#ff2828" opacity="0.3" filter="url(#speck)"/></g>
<g opacity="1" transform="translate(211.5,445) skewX(20)"><rect x="-6.4" y="-10.5" width="12.8" height="21" rx="5" fill="#700808" filter="url(#b1)"/><ellipse cx="0" cy="-1" rx="5" ry="7.5" fill="#ff1818" opacity="0.6" filter="url(#b2)"/><rect x="-5.5" y="-9.5" width="11" height="19" rx="4" fill="#ff2828" opacity="0.3" filter="url(#speck)"/></g>
<g opacity="1" transform="translate(227.5,445) skewX(20)"><rect x="-6.4" y="-10.5" width="12.8" height="21" rx="5" fill="#700808" filter="url(#b1)"/><ellipse cx="0" cy="-1" rx="5" ry="7.5" fill="#ff1818" opacity="0.6" filter="url(#b2)"/><rect x="-5.5" y="-9.5" width="11" height="19" rx="4" fill="#ff2828" opacity="0.3" filter="url(#speck)"/></g>
<g opacity="1" transform="translate(243.5,445) skewX(20)"><rect x="-6.4" y="-10.5" width="12.8" height="21" rx="5" fill="#700808" filter="url(#b1)"/><ellipse cx="0" cy="-1" rx="5" ry="7.5" fill="#ff1818" opacity="0.6" filter="url(#b2)"/><rect x="-5.5" y="-9.5" width="11" height="19" rx="4" fill="#ff2828" opacity="0.3" filter="url(#speck)"/></g>
<g opacity="1" transform="translate(259.5,445) skewX(20)"><rect x="-6.4" y="-10.5" width="12.8" height="21" rx="5" fill="#700808" filter="url(#b1)"/><ellipse cx="0" cy="-1" rx="5" ry="7.5" fill="#ff1818" opacity="0.6" filter="url(#b2)"/><rect x="-5.5" y="-9.5" width="11" height="19" rx="4" fill="#ff2828" opacity="0.3" filter="url(#speck)"/></g>
<g opacity="1" transform="translate(275.5,445) skewX(20)"><rect x="-6.4" y="-10.5" width="12.8" height="21" rx="5" fill="#700808" filter="url(#b1)"/><ellipse cx="0" cy="-1" rx="5" ry="7.5" fill="#ff1818" opacity="0.6" filter="url(#b2)"/><rect x="-5.5" y="-9.5" width="11" height="19" rx="4" fill="#ff2828" opacity="0.3" filter="url(#speck)"/></g>
<g opacity="1" transform="translate(291.5,445) skewX(20)"><rect x="-6.4" y="-10.5" width="12.8" height="21" rx="5" fill="#700808" filter="url(#b1)"/><ellipse cx="0" cy="-1" rx="5" ry="7.5" fill="#ff1818" opacity="0.6" filter="url(#b2)"/><rect x="-5.5" y="-9.5" width="11" height="19" rx="4" fill="#ff2828" opacity="0.3" filter="url(#speck)"/></g>
<g opacity="1" transform="translate(307.5,445) skewX(20)"><rect x="-6.4" y="-10.5" width="12.8" height="21" rx="5" fill="#700808" filter="url(#b1)"/><ellipse cx="0" cy="-1" rx="5" ry="7.5" fill="#ff1818" opacity="0.6" filter="url(#b2)"/><rect x="-5.5" y="-9.5" width="11" height="19" rx="4" fill="#ff2828" opacity="0.3" filter="url(#speck)"/></g>
<g opacity="1" transform="translate(323.5,445) skewX(20)"><rect x="-6.4" y="-10.5" width="12.8" height="21" rx="5" fill="#700808" filter="url(#b1)"/><ellipse cx="0" cy="-1" rx="5" ry="7.5" fill="#ff1818" opacity="0.6" filter="url(#b2)"/><rect x="-5.5" y="-9.5" width="11" height="19" rx="4" fill="#ff2828" opacity="0.3" filter="url(#speck)"/></g>
<g opacity="1" transform="translate(339.5,445) skewX(20)"><rect x="-6.4" y="-10.5" width="12.8" height="21" rx="5" fill="#700808" filter="url(#b1)"/><ellipse cx="0" cy="-1" rx="5" ry="7.5" fill="#ff1818" opacity="0.6" filter="url(#b2)"/><rect x="-5.5" y="-9.5" width="11" height="19" rx="4" fill="#ff2828" opacity="0.3" filter="url(#speck)"/></g>
<g opacity="1" transform="translate(355.5,445) skewX(20)"><rect x="-6.4" y="-10.5" width="12.8" height="21" rx="5" fill="#700808" filter="url(#b1)"/><ellipse cx="0" cy="-1" rx="5" ry="7.5" fill="#ff1818" opacity="0.6" filter="url(#b2)"/><rect x="-5.5" y="-9.5" width="11" height="19" rx="4" fill="#ff2828" opacity="0.3" filter="url(#speck)"/></g>
<g opacity="1" transform="translate(371.5,445) skewX(20)"><rect x="-6.4" y="-10.5" width="12.8" height="21" rx="5" fill="#700808" filter="url(#b1)"/><ellipse cx="0" cy="-1" rx="5" ry="7.5" fill="#ff1818" opacity="0.6" filter="url(#b2)"/><rect x="-5.5" y="-9.5" width="11" height="19" rx="4" fill="#ff2828" opacity="0.3" filter="url(#speck)"/></g>
<g opacity="1" transform="translate(387.5,445) skewX(20)"><rect x="-6.4" y="-10.5" width="12.8" height="21" rx="5" fill="#700808" filter="url(#b1)"/><ellipse cx="0" cy="-1" rx="5" ry="7.5" fill="#ff1818" opacity="0.6" filter="url(#b2)"/><rect x="-5.5" y="-9.5" width="11" height="19" rx="4" fill="#ff2828" opacity="0.3" filter="url(#speck)"/></g>
<g opacity="1" transform="translate(403.5,445) skewX(20)"><rect x="-6.4" y="-10.5" width="12.8" height="21" rx="5" fill="#700808" filter="url(#b1)"/><ellipse cx="0" cy="-1" rx="5" ry="7.5" fill="#ff1818" opacity="0.6" filter="url(#b2)"/><rect x="-5.5" y="-9.5" width="11" height="19" rx="4" fill="#ff2828" opacity="0.3" filter="url(#speck)"/></g>
<g opacity="1" transform="translate(419.5,445) skewX(20)"><rect x="-6.4" y="-10.5" width="12.8" height="21" rx="5" fill="#700808" filter="url(#b1)"/><ellipse cx="0" cy="-1" rx="5" ry="7.5" fill="#ff1818" opacity="0.6" filter="url(#b2)"/><rect x="-5.5" y="-9.5" width="11" height="19" rx="4" fill="#ff2828" opacity="0.3" filter="url(#speck)"/></g>
<ellipse cx="212.0" cy="486" rx="7.8" ry="7.5" fill="#cc1616" filter="url(#b1)"/>
<rect x="207.0" y="488" width="10" height="12" fill="#a81212" filter="url(#b1)"/>
<rect x="206.5" y="495" width="14" height="27" rx="6" fill="#8a0e0e" filter="url(#b1)"/>
<rect x="207.5" y="496" width="12" height="24" rx="5" fill="#e02020" opacity="0.3" filter="url(#speck)"/>
<ellipse cx="230.5" cy="486" rx="7.8" ry="7.5" fill="#cc1616" filter="url(#b1)"/>
<rect x="225.5" y="488" width="10" height="12" fill="#a81212" filter="url(#b1)"/>
<rect x="225.0" y="495" width="14" height="27" rx="6" fill="#8a0e0e" filter="url(#b1)"/>
<rect x="226.0" y="496" width="12" height="24" rx="5" fill="#e02020" opacity="0.3" filter="url(#speck)"/>
<ellipse cx="249.0" cy="486" rx="7.8" ry="7.5" fill="#cc1616" filter="url(#b1)"/>
<rect x="244.0" y="488" width="10" height="12" fill="#a81212" filter="url(#b1)"/>
<rect x="243.5" y="495" width="14" height="27" rx="6" fill="#8a0e0e" filter="url(#b1)"/>
<rect x="244.5" y="496" width="12" height="24" rx="5" fill="#e02020" opacity="0.3" filter="url(#speck)"/>
<ellipse cx="267.5" cy="486" rx="7.8" ry="7.5" fill="#cc1616" filter="url(#b1)"/>
<rect x="262.5" y="488" width="10" height="12" fill="#a81212" filter="url(#b1)"/>
<rect x="262.0" y="495" width="14" height="27" rx="6" fill="#8a0e0e" filter="url(#b1)"/>
<rect x="263.0" y="496" width="12" height="24" rx="5" fill="#e02020" opacity="0.3" filter="url(#speck)"/>
<ellipse cx="286.0" cy="486" rx="7.8" ry="7.5" fill="#cc1616" filter="url(#b1)"/>
<rect x="281.0" y="488" width="10" height="12" fill="#a81212" filter="url(#b1)"/>
<rect x="280.5" y="495" width="14" height="27" rx="6" fill="#8a0e0e" filter="url(#b1)"/>
<rect x="281.5" y="496" width="12" height="24" rx="5" fill="#e02020" opacity="0.3" filter="url(#speck)"/>
<ellipse cx="304.5" cy="486" rx="7.8" ry="7.5" fill="#cc1616" filter="url(#b1)"/>
<rect x="299.5" y="488" width="10" height="12" fill="#a81212" filter="url(#b1)"/>
<rect x="299.0" y="495" width="14" height="27" rx="6" fill="#8a0e0e" filter="url(#b1)"/>
<rect x="300.0" y="496" width="12" height="24" rx="5" fill="#e02020" opacity="0.3" filter="url(#speck)"/>
<ellipse cx="323.0" cy="486" rx="7.8" ry="7.5" fill="#cc1616" filter="url(#b1)"/>
<rect x="318.0" y="488" width="10" height="12" fill="#a81212" filter="url(#b1)"/>
<rect x="317.5" y="495" width="14" height="27" rx="6" fill="#8a0e0e" filter="url(#b1)"/>
<rect x="318.5" y="496" width="12" height="24" rx="5" fill="#e02020" opacity="0.3" filter="url(#speck)"/>
<ellipse cx="341.5" cy="486" rx="7.8" ry="7.5" fill="#cc1616" filter="url(#b1)"/>
<rect x="336.5" y="488" width="10" height="12" fill="#a81212" filter="url(#b1)"/>
<rect x="336.0" y="495" width="14" height="27" rx="6" fill="#8a0e0e" filter="url(#b1)"/>
<rect x="337.0" y="496" width="12" height="24" rx="5" fill="#e02020" opacity="0.3" filter="url(#speck)"/>
<ellipse cx="360.0" cy="486" rx="7.8" ry="7.5" fill="#cc1616" filter="url(#b1)"/>
<rect x="355.0" y="488" width="10" height="12" fill="#a81212" filter="url(#b1)"/>
<rect x="354.5" y="495" width="14" height="27" rx="6" fill="#8a0e0e" filter="url(#b1)"/>
<rect x="355.5" y="496" width="12" height="24" rx="5" fill="#e02020" opacity="0.3" filter="url(#speck)"/>
<ellipse cx="378.5" cy="486" rx="7.8" ry="7.5" fill="#cc1616" filter="url(#b1)"/>
<rect x="373.5" y="488" width="10" height="12" fill="#a81212" filter="url(#b1)"/>
<rect x="373.0" y="495" width="14" height="27" rx="6" fill="#8a0e0e" filter="url(#b1)"/>
<rect x="374.0" y="496" width="12" height="24" rx="5" fill="#e02020" opacity="0.3" filter="url(#speck)"/>
<ellipse cx="397.0" cy="486" rx="7.8" ry="7.5" fill="#cc1616" filter="url(#b1)"/>
<rect x="392.0" y="488" width="10" height="12" fill="#a81212" filter="url(#b1)"/>
<rect x="391.5" y="495" width="14" height="27" rx="6" fill="#8a0e0e" filter="url(#b1)"/>
<rect x="392.5" y="496" width="12" height="24" rx="5" fill="#e02020" opacity="0.3" filter="url(#speck)"/>
<ellipse cx="415.5" cy="486" rx="7.8" ry="7.5" fill="#cc1616" filter="url(#b1)"/>
<rect x="410.5" y="488" width="10" height="12" fill="#a81212" filter="url(#b1)"/>
<rect x="410.0" y="495" width="14" height="27" rx="6" fill="#8a0e0e" filter="url(#b1)"/>
<rect x="411.0" y="496" width="12" height="24" rx="5" fill="#e02020" opacity="0.3" filter="url(#speck)"/>
<ellipse cx="434.0" cy="486" rx="7.8" ry="7.5" fill="#cc1616" filter="url(#b1)"/>
<rect x="429.0" y="488" width="10" height="12" fill="#a81212" filter="url(#b1)"/>
<rect x="428.5" y="495" width="14" height="27" rx="6" fill="#8a0e0e" filter="url(#b1)"/>
<rect x="429.5" y="496" width="12" height="24" rx="5" fill="#e02020" opacity="0.3" filter="url(#speck)"/>
</g>
<text x="230.3" y="401.7" font-size="14" fill="#fff"><tspan font-style="italic">Pmca1</tspan> CKO</text>
<text x="343.0" y="402.5" font-size="13.6" text-anchor="start" fill="#2da83e" >PMCA1</text>
<text x="330.0" y="418.0" font-size="13.8" text-anchor="start" fill="#e8603c" >Myosin VIIA</text>
<text x="398.4" y="541.6" font-size="7.6" text-anchor="middle" fill="#fff" >10 µm</text>
<line x1="387.80" y1="544.20" x2="409.00" y2="544.20" stroke="#fff" stroke-width="1.5" />
<polyline points="505.20,412.33 533.70,416.78 562.20,430.38 590.70,443.61 619.20,445.41 647.70,448.42 676.20,429.77" fill="none" stroke="#4471a6" stroke-width="1.3" stroke-linejoin="round" />
<rect x="502.60" y="409.33" width="5.20" height="6.00" fill="#4471a6" stroke="none" stroke-width="1" />
<line x1="533.70" y1="418.59" x2="533.70" y2="414.98" stroke="#4471a6" stroke-width="1.3" />
<line x1="530.90" y1="418.59" x2="536.50" y2="418.59" stroke="#4471a6" stroke-width="1.3" />
<line x1="530.90" y1="414.98" x2="536.50" y2="414.98" stroke="#4471a6" stroke-width="1.3" />
<rect x="531.10" y="413.78" width="5.20" height="6.00" fill="#4471a6" stroke="none" stroke-width="1" />
<line x1="562.20" y1="433.98" x2="562.20" y2="426.77" stroke="#4471a6" stroke-width="1.3" />
<line x1="559.40" y1="433.98" x2="565.00" y2="433.98" stroke="#4471a6" stroke-width="1.3" />
<line x1="559.40" y1="426.77" x2="565.00" y2="426.77" stroke="#4471a6" stroke-width="1.3" />
<rect x="559.60" y="427.38" width="5.20" height="6.00" fill="#4471a6" stroke="none" stroke-width="1" />
<line x1="590.70" y1="445.77" x2="590.70" y2="441.44" stroke="#4471a6" stroke-width="1.3" />
<line x1="587.90" y1="445.77" x2="593.50" y2="445.77" stroke="#4471a6" stroke-width="1.3" />
<line x1="587.90" y1="441.44" x2="593.50" y2="441.44" stroke="#4471a6" stroke-width="1.3" />
<rect x="588.10" y="440.61" width="5.20" height="6.00" fill="#4471a6" stroke="none" stroke-width="1" />
<line x1="619.20" y1="450.22" x2="619.20" y2="440.60" stroke="#4471a6" stroke-width="1.3" />
<line x1="616.40" y1="450.22" x2="622.00" y2="450.22" stroke="#4471a6" stroke-width="1.3" />
<line x1="616.40" y1="440.60" x2="622.00" y2="440.60" stroke="#4471a6" stroke-width="1.3" />
<rect x="616.60" y="442.41" width="5.20" height="6.00" fill="#4471a6" stroke="none" stroke-width="1" />
<line x1="647.70" y1="455.04" x2="647.70" y2="441.80" stroke="#4471a6" stroke-width="1.3" />
<line x1="644.90" y1="455.04" x2="650.50" y2="455.04" stroke="#4471a6" stroke-width="1.3" />
<line x1="644.90" y1="441.80" x2="650.50" y2="441.80" stroke="#4471a6" stroke-width="1.3" />
<rect x="645.10" y="445.42" width="5.20" height="6.00" fill="#4471a6" stroke="none" stroke-width="1" />
<line x1="676.20" y1="435.79" x2="676.20" y2="423.76" stroke="#4471a6" stroke-width="1.3" />
<line x1="673.40" y1="435.79" x2="679.00" y2="435.79" stroke="#4471a6" stroke-width="1.3" />
<line x1="673.40" y1="423.76" x2="679.00" y2="423.76" stroke="#4471a6" stroke-width="1.3" />
<rect x="673.60" y="426.77" width="5.20" height="6.00" fill="#4471a6" stroke="none" stroke-width="1" />
<polyline points="505.20,412.33 533.70,415.58 562.20,418.35 590.70,420.15 619.20,421.35 647.70,414.13 676.20,412.33" fill="none" stroke="#f0104f" stroke-width="1.5" stroke-linejoin="round" />
<circle cx="505.20" cy="412.33" r="2.75" fill="#f0104f" stroke="none" stroke-width="1" />
<line x1="533.70" y1="417.02" x2="533.70" y2="414.13" stroke="#f0104f" stroke-width="1.3" />
<line x1="530.90" y1="417.02" x2="536.50" y2="417.02" stroke="#f0104f" stroke-width="1.3" />
<line x1="530.90" y1="414.13" x2="536.50" y2="414.13" stroke="#f0104f" stroke-width="1.3" />
<circle cx="533.70" cy="415.58" r="2.75" fill="#f0104f" stroke="none" stroke-width="1" />
<line x1="562.20" y1="420.75" x2="562.20" y2="415.94" stroke="#f0104f" stroke-width="1.3" />
<line x1="559.40" y1="420.75" x2="565.00" y2="420.75" stroke="#f0104f" stroke-width="1.3" />
<line x1="559.40" y1="415.94" x2="565.00" y2="415.94" stroke="#f0104f" stroke-width="1.3" />
<circle cx="562.20" cy="418.35" r="2.75" fill="#f0104f" stroke="none" stroke-width="1" />
<line x1="590.70" y1="423.76" x2="590.70" y2="416.54" stroke="#f0104f" stroke-width="1.3" />
<line x1="587.90" y1="423.76" x2="593.50" y2="423.76" stroke="#f0104f" stroke-width="1.3" />
<line x1="587.90" y1="416.54" x2="593.50" y2="416.54" stroke="#f0104f" stroke-width="1.3" />
<circle cx="590.70" cy="420.15" r="2.75" fill="#f0104f" stroke="none" stroke-width="1" />
<line x1="619.20" y1="424.96" x2="619.20" y2="417.74" stroke="#f0104f" stroke-width="1.3" />
<line x1="616.40" y1="424.96" x2="622.00" y2="424.96" stroke="#f0104f" stroke-width="1.3" />
<line x1="616.40" y1="417.74" x2="622.00" y2="417.74" stroke="#f0104f" stroke-width="1.3" />
<circle cx="619.20" cy="421.35" r="2.75" fill="#f0104f" stroke="none" stroke-width="1" />
<line x1="647.70" y1="415.34" x2="647.70" y2="412.93" stroke="#f0104f" stroke-width="1.3" />
<line x1="644.90" y1="415.34" x2="650.50" y2="415.34" stroke="#f0104f" stroke-width="1.3" />
<line x1="644.90" y1="412.93" x2="650.50" y2="412.93" stroke="#f0104f" stroke-width="1.3" />
<circle cx="647.70" cy="414.13" r="2.75" fill="#f0104f" stroke="none" stroke-width="1" />
<circle cx="676.20" cy="412.33" r="2.75" fill="#f0104f" stroke="none" stroke-width="1" />
<line x1="477.30" y1="399.40" x2="477.30" y2="525.70" stroke="#111" stroke-width="1.4" />
<line x1="476.70" y1="525.10" x2="685.00" y2="525.10" stroke="#111" stroke-width="1.4" />
<line x1="477.30" y1="520.60" x2="481.30" y2="520.60" stroke="#111" stroke-width="1.2" />
<text x="474.3" y="525.3" font-size="13.2" text-anchor="end" fill="#111" >0</text>
<line x1="477.30" y1="496.54" x2="481.30" y2="496.54" stroke="#111" stroke-width="1.2" />
<text x="474.3" y="501.2" font-size="13.2" text-anchor="end" fill="#111" >20</text>
<line x1="477.30" y1="472.48" x2="481.30" y2="472.48" stroke="#111" stroke-width="1.2" />
<text x="474.3" y="477.2" font-size="13.2" text-anchor="end" fill="#111" >40</text>
<line x1="477.30" y1="448.42" x2="481.30" y2="448.42" stroke="#111" stroke-width="1.2" />
<text x="474.3" y="453.1" font-size="13.2" text-anchor="end" fill="#111" >60</text>
<line x1="477.30" y1="424.36" x2="481.30" y2="424.36" stroke="#111" stroke-width="1.2" />
<text x="474.3" y="429.1" font-size="13.2" text-anchor="end" fill="#111" >80</text>
<line x1="477.30" y1="400.30" x2="481.30" y2="400.30" stroke="#111" stroke-width="1.2" />
<text x="474.3" y="405.0" font-size="13.2" text-anchor="end" fill="#111" >100</text>
<line x1="505.20" y1="525.10" x2="505.20" y2="521.10" stroke="#111" stroke-width="1.2" />
<text x="505.2" y="543.3" font-size="13.2" text-anchor="middle" fill="#111" >4</text>
<line x1="562.20" y1="525.10" x2="562.20" y2="521.10" stroke="#111" stroke-width="1.2" />
<text x="562.2" y="543.3" font-size="13.2" text-anchor="middle" fill="#111" >8</text>
<line x1="619.20" y1="525.10" x2="619.20" y2="521.10" stroke="#111" stroke-width="1.2" />
<text x="619.2" y="543.3" font-size="13.2" text-anchor="middle" fill="#111" >16</text>
<line x1="676.20" y1="525.10" x2="676.20" y2="521.10" stroke="#111" stroke-width="1.2" />
<text x="676.2" y="543.3" font-size="13.2" text-anchor="middle" fill="#111" >32</text>
<text x="573.2" y="556.6" font-size="14" text-anchor="middle" fill="#111" >Frequency (kHz)</text>
<text x="446.3" y="460.2" font-size="13.9" text-anchor="middle" fill="#111" transform="rotate(-90 446.3 460.2)" >Threshold (dB SPL)</text>
<line x1="491.80" y1="495.20" x2="511.60" y2="495.20" stroke="#4471a6" stroke-width="1.3" />
<rect x="498.60" y="491.70" width="6.20" height="7.00" fill="#4471a6" stroke="none" stroke-width="1" />
<line x1="491.80" y1="507.80" x2="511.60" y2="507.80" stroke="#f0104f" stroke-width="1.5" />
<circle cx="501.70" cy="507.80" r="3.40" fill="#f0104f" stroke="none" stroke-width="1" />
<text x="517.0" y="500.0" font-size="13.8" text-anchor="start" fill="#111" >WT (N=6)</text>
<text x="517.0" y="512.6" font-size="13.8" fill="#111"><tspan font-style="italic">Pmca1</tspan> CKO (N=7)</text>
<text x="651.3" y="511.6" font-size="13.6" text-anchor="start" fill="#111" >P12</text>
<text x="590.9" y="463.4" font-size="20.5" text-anchor="middle" fill="#111" >***</text>
<text x="619.8" y="468.6" font-size="20.5" text-anchor="middle" fill="#111" >***</text>
<text x="649.9" y="474.2" font-size="20.5" text-anchor="middle" fill="#111" >***</text>
<text x="677.5" y="457.0" font-size="20.5" text-anchor="middle" fill="#111" >**</text>
<polyline points="500.50,620.60 528.66,635.94 556.83,651.28 585.00,665.44 613.16,674.88 641.33,667.21 669.49,652.46" fill="none" stroke="#4471a6" stroke-width="1.3" stroke-linejoin="round" />
<line x1="500.50" y1="621.78" x2="500.50" y2="619.42" stroke="#4471a6" stroke-width="1.3" />
<line x1="497.70" y1="621.78" x2="503.30" y2="621.78" stroke="#4471a6" stroke-width="1.3" />
<line x1="497.70" y1="619.42" x2="503.30" y2="619.42" stroke="#4471a6" stroke-width="1.3" />
<rect x="497.90" y="617.60" width="5.20" height="6.00" fill="#4471a6" stroke="none" stroke-width="1" />
<line x1="528.66" y1="639.48" x2="528.66" y2="632.40" stroke="#4471a6" stroke-width="1.3" />
<line x1="525.87" y1="639.48" x2="531.46" y2="639.48" stroke="#4471a6" stroke-width="1.3" />
<line x1="525.87" y1="632.40" x2="531.46" y2="632.40" stroke="#4471a6" stroke-width="1.3" />
<rect x="526.07" y="632.94" width="5.20" height="6.00" fill="#4471a6" stroke="none" stroke-width="1" />
<line x1="556.83" y1="655.41" x2="556.83" y2="647.15" stroke="#4471a6" stroke-width="1.3" />
<line x1="554.03" y1="655.41" x2="559.63" y2="655.41" stroke="#4471a6" stroke-width="1.3" />
<line x1="554.03" y1="647.15" x2="559.63" y2="647.15" stroke="#4471a6" stroke-width="1.3" />
<rect x="554.23" y="648.28" width="5.20" height="6.00" fill="#4471a6" stroke="none" stroke-width="1" />
<line x1="585.00" y1="667.80" x2="585.00" y2="663.08" stroke="#4471a6" stroke-width="1.3" />
<line x1="582.20" y1="667.80" x2="587.79" y2="667.80" stroke="#4471a6" stroke-width="1.3" />
<line x1="582.20" y1="663.08" x2="587.79" y2="663.08" stroke="#4471a6" stroke-width="1.3" />
<rect x="582.40" y="662.44" width="5.20" height="6.00" fill="#4471a6" stroke="none" stroke-width="1" />
<line x1="613.16" y1="677.24" x2="613.16" y2="672.52" stroke="#4471a6" stroke-width="1.3" />
<line x1="610.36" y1="677.24" x2="615.96" y2="677.24" stroke="#4471a6" stroke-width="1.3" />
<line x1="610.36" y1="672.52" x2="615.96" y2="672.52" stroke="#4471a6" stroke-width="1.3" />
<rect x="610.56" y="671.88" width="5.20" height="6.00" fill="#4471a6" stroke="none" stroke-width="1" />
<line x1="641.33" y1="668.98" x2="641.33" y2="665.44" stroke="#4471a6" stroke-width="1.3" />
<line x1="638.53" y1="668.98" x2="644.12" y2="668.98" stroke="#4471a6" stroke-width="1.3" />
<line x1="638.53" y1="665.44" x2="644.12" y2="665.44" stroke="#4471a6" stroke-width="1.3" />
<rect x="638.73" y="664.21" width="5.20" height="6.00" fill="#4471a6" stroke="none" stroke-width="1" />
<line x1="669.49" y1="656.00" x2="669.49" y2="648.92" stroke="#4471a6" stroke-width="1.3" />
<line x1="666.69" y1="656.00" x2="672.29" y2="656.00" stroke="#4471a6" stroke-width="1.3" />
<line x1="666.69" y1="648.92" x2="672.29" y2="648.92" stroke="#4471a6" stroke-width="1.3" />
<rect x="666.89" y="649.46" width="5.20" height="6.00" fill="#4471a6" stroke="none" stroke-width="1" />
<polyline points="500.50,597.00 528.66,599.36 556.83,607.62 585.00,611.16 613.16,602.90 641.33,597.59 669.49,597.00" fill="none" stroke="#f0104f" stroke-width="1.5" stroke-linejoin="round" />
<circle cx="500.50" cy="597.00" r="2.75" fill="#f0104f" stroke="none" stroke-width="1" />
<line x1="528.66" y1="600.54" x2="528.66" y2="598.18" stroke="#f0104f" stroke-width="1.3" />
<line x1="525.87" y1="600.54" x2="531.46" y2="600.54" stroke="#f0104f" stroke-width="1.3" />
<line x1="525.87" y1="598.18" x2="531.46" y2="598.18" stroke="#f0104f" stroke-width="1.3" />
<circle cx="528.66" cy="599.36" r="2.75" fill="#f0104f" stroke="none" stroke-width="1" />
<line x1="556.83" y1="611.16" x2="556.83" y2="604.08" stroke="#f0104f" stroke-width="1.3" />
<line x1="554.03" y1="611.16" x2="559.63" y2="611.16" stroke="#f0104f" stroke-width="1.3" />
<line x1="554.03" y1="604.08" x2="559.63" y2="604.08" stroke="#f0104f" stroke-width="1.3" />
<circle cx="556.83" cy="607.62" r="2.75" fill="#f0104f" stroke="none" stroke-width="1" />
<line x1="585.00" y1="616.47" x2="585.00" y2="605.85" stroke="#f0104f" stroke-width="1.3" />
<line x1="582.20" y1="616.47" x2="587.79" y2="616.47" stroke="#f0104f" stroke-width="1.3" />
<line x1="582.20" y1="605.85" x2="587.79" y2="605.85" stroke="#f0104f" stroke-width="1.3" />
<circle cx="585.00" cy="611.16" r="2.75" fill="#f0104f" stroke="none" stroke-width="1" />
<line x1="613.16" y1="605.85" x2="613.16" y2="599.95" stroke="#f0104f" stroke-width="1.3" />
<line x1="610.36" y1="605.85" x2="615.96" y2="605.85" stroke="#f0104f" stroke-width="1.3" />
<line x1="610.36" y1="599.95" x2="615.96" y2="599.95" stroke="#f0104f" stroke-width="1.3" />
<circle cx="613.16" cy="602.90" r="2.75" fill="#f0104f" stroke="none" stroke-width="1" />
<line x1="641.33" y1="598.53" x2="641.33" y2="596.65" stroke="#f0104f" stroke-width="1.3" />
<line x1="638.53" y1="598.53" x2="644.12" y2="598.53" stroke="#f0104f" stroke-width="1.3" />
<line x1="638.53" y1="596.65" x2="644.12" y2="596.65" stroke="#f0104f" stroke-width="1.3" />
<circle cx="641.33" cy="597.59" r="2.75" fill="#f0104f" stroke="none" stroke-width="1" />
<line x1="669.49" y1="597.94" x2="669.49" y2="596.06" stroke="#f0104f" stroke-width="1.3" />
<line x1="666.69" y1="597.94" x2="672.29" y2="597.94" stroke="#f0104f" stroke-width="1.3" />
<line x1="666.69" y1="596.06" x2="672.29" y2="596.06" stroke="#f0104f" stroke-width="1.3" />
<circle cx="669.49" cy="597.00" r="2.75" fill="#f0104f" stroke="none" stroke-width="1" />
<line x1="473.40" y1="584.00" x2="473.40" y2="708.40" stroke="#111" stroke-width="1.4" />
<line x1="472.80" y1="707.80" x2="669.50" y2="707.80" stroke="#111" stroke-width="1.4" />
<line x1="473.40" y1="703.20" x2="477.40" y2="703.20" stroke="#111" stroke-width="1.2" />
<text x="470.4" y="707.9" font-size="13.2" text-anchor="end" fill="#111" >0</text>
<line x1="473.40" y1="679.60" x2="477.40" y2="679.60" stroke="#111" stroke-width="1.2" />
<text x="470.4" y="684.3" font-size="13.2" text-anchor="end" fill="#111" >20</text>
<line x1="473.40" y1="656.00" x2="477.40" y2="656.00" stroke="#111" stroke-width="1.2" />
<text x="470.4" y="660.7" font-size="13.2" text-anchor="end" fill="#111" >40</text>
<line x1="473.40" y1="632.40" x2="477.40" y2="632.40" stroke="#111" stroke-width="1.2" />
<text x="470.4" y="637.1" font-size="13.2" text-anchor="end" fill="#111" >60</text>
<line x1="473.40" y1="608.80" x2="477.40" y2="608.80" stroke="#111" stroke-width="1.2" />
<text x="470.4" y="613.5" font-size="13.2" text-anchor="end" fill="#111" >80</text>
<line x1="473.40" y1="585.20" x2="477.40" y2="585.20" stroke="#111" stroke-width="1.2" />
<text x="470.4" y="589.9" font-size="13.2" text-anchor="end" fill="#111" >100</text>
<line x1="500.50" y1="707.80" x2="500.50" y2="703.80" stroke="#111" stroke-width="1.2" />
<text x="500.5" y="726.0" font-size="13.2" text-anchor="middle" fill="#111" >4</text>
<line x1="556.83" y1="707.80" x2="556.83" y2="703.80" stroke="#111" stroke-width="1.2" />
<text x="556.8" y="726.0" font-size="13.2" text-anchor="middle" fill="#111" >8</text>
<line x1="613.16" y1="707.80" x2="613.16" y2="703.80" stroke="#111" stroke-width="1.2" />
<text x="613.2" y="726.0" font-size="13.2" text-anchor="middle" fill="#111" >16</text>
<line x1="669.49" y1="707.80" x2="669.49" y2="703.80" stroke="#111" stroke-width="1.2" />
<text x="669.5" y="726.0" font-size="13.2" text-anchor="middle" fill="#111" >32</text>
<text x="578.6" y="739.3" font-size="14" text-anchor="middle" fill="#111" >Frequency (kHz)</text>
<text x="446.3" y="643.9" font-size="13.9" text-anchor="middle" fill="#111" transform="rotate(-90 446.3 643.9)" >Threshold (dB SPL)</text>
<line x1="489.30" y1="683.80" x2="509.10" y2="683.80" stroke="#4471a6" stroke-width="1.3" />
<rect x="496.10" y="680.30" width="6.20" height="7.00" fill="#4471a6" stroke="none" stroke-width="1" />
<line x1="489.30" y1="697.00" x2="509.10" y2="697.00" stroke="#f0104f" stroke-width="1.5" />
<circle cx="499.20" cy="697.00" r="3.40" fill="#f0104f" stroke="none" stroke-width="1" />
<text x="514.6" y="688.6" font-size="13.8" text-anchor="start" fill="#111" >WT (N=7)</text>
<text x="514.6" y="701.8" font-size="13.8" fill="#111"><tspan font-style="italic">Pmca1</tspan> CKO (N=7)</text>
<text x="643.6" y="688.6" font-size="13.6" text-anchor="start" fill="#111" >P18</text>
<line x1="500.50" y1="590.60" x2="669.50" y2="590.60" stroke="#111" stroke-width="1.3" />
<text x="588.0" y="592.0" font-size="22" text-anchor="middle" fill="#111" >***</text>
<polyline points="502.00,799.42 530.09,812.40 558.18,826.56 586.27,840.13 614.36,848.98 642.45,837.18 670.54,812.40" fill="none" stroke="#4471a6" stroke-width="1.3" stroke-linejoin="round" />
<line x1="502.00" y1="801.78" x2="502.00" y2="797.06" stroke="#4471a6" stroke-width="1.3" />
<line x1="499.20" y1="801.78" x2="504.80" y2="801.78" stroke="#4471a6" stroke-width="1.3" />
<line x1="499.20" y1="797.06" x2="504.80" y2="797.06" stroke="#4471a6" stroke-width="1.3" />
<rect x="499.40" y="796.42" width="5.20" height="6.00" fill="#4471a6" stroke="none" stroke-width="1" />
<line x1="530.09" y1="816.53" x2="530.09" y2="808.27" stroke="#4471a6" stroke-width="1.3" />
<line x1="527.29" y1="816.53" x2="532.89" y2="816.53" stroke="#4471a6" stroke-width="1.3" />
<line x1="527.29" y1="808.27" x2="532.89" y2="808.27" stroke="#4471a6" stroke-width="1.3" />
<rect x="527.49" y="809.40" width="5.20" height="6.00" fill="#4471a6" stroke="none" stroke-width="1" />
<line x1="558.18" y1="830.69" x2="558.18" y2="822.43" stroke="#4471a6" stroke-width="1.3" />
<line x1="555.38" y1="830.69" x2="560.98" y2="830.69" stroke="#4471a6" stroke-width="1.3" />
<line x1="555.38" y1="822.43" x2="560.98" y2="822.43" stroke="#4471a6" stroke-width="1.3" />
<rect x="555.58" y="823.56" width="5.20" height="6.00" fill="#4471a6" stroke="none" stroke-width="1" />
<line x1="586.27" y1="842.49" x2="586.27" y2="837.77" stroke="#4471a6" stroke-width="1.3" />
<line x1="583.47" y1="842.49" x2="589.07" y2="842.49" stroke="#4471a6" stroke-width="1.3" />
<line x1="583.47" y1="837.77" x2="589.07" y2="837.77" stroke="#4471a6" stroke-width="1.3" />
<rect x="583.67" y="837.13" width="5.20" height="6.00" fill="#4471a6" stroke="none" stroke-width="1" />
<line x1="614.36" y1="850.75" x2="614.36" y2="847.21" stroke="#4471a6" stroke-width="1.3" />
<line x1="611.56" y1="850.75" x2="617.16" y2="850.75" stroke="#4471a6" stroke-width="1.3" />
<line x1="611.56" y1="847.21" x2="617.16" y2="847.21" stroke="#4471a6" stroke-width="1.3" />
<rect x="611.76" y="845.98" width="5.20" height="6.00" fill="#4471a6" stroke="none" stroke-width="1" />
<line x1="642.45" y1="838.36" x2="642.45" y2="836.00" stroke="#4471a6" stroke-width="1.3" />
<line x1="639.65" y1="838.36" x2="645.25" y2="838.36" stroke="#4471a6" stroke-width="1.3" />
<line x1="639.65" y1="836.00" x2="645.25" y2="836.00" stroke="#4471a6" stroke-width="1.3" />
<rect x="639.85" y="834.18" width="5.20" height="6.00" fill="#4471a6" stroke="none" stroke-width="1" />
<line x1="670.54" y1="817.71" x2="670.54" y2="807.09" stroke="#4471a6" stroke-width="1.3" />
<line x1="667.74" y1="817.71" x2="673.34" y2="817.71" stroke="#4471a6" stroke-width="1.3" />
<line x1="667.74" y1="807.09" x2="673.34" y2="807.09" stroke="#4471a6" stroke-width="1.3" />
<rect x="667.94" y="809.40" width="5.20" height="6.00" fill="#4471a6" stroke="none" stroke-width="1" />
<polyline points="502.00,777.00 530.09,777.00 558.18,777.00 586.27,777.00 614.36,777.00 642.45,777.00 670.54,777.00" fill="none" stroke="#f0104f" stroke-width="1.5" stroke-linejoin="round" />
<circle cx="502.00" cy="777.00" r="2.75" fill="#f0104f" stroke="none" stroke-width="1" />
<circle cx="530.09" cy="777.00" r="2.75" fill="#f0104f" stroke="none" stroke-width="1" />
<circle cx="558.18" cy="777.00" r="2.75" fill="#f0104f" stroke="none" stroke-width="1" />
<circle cx="586.27" cy="777.00" r="2.75" fill="#f0104f" stroke="none" stroke-width="1" />
<circle cx="614.36" cy="777.00" r="2.75" fill="#f0104f" stroke="none" stroke-width="1" />
<circle cx="642.45" cy="777.00" r="2.75" fill="#f0104f" stroke="none" stroke-width="1" />
<circle cx="670.54" cy="777.00" r="2.75" fill="#f0104f" stroke="none" stroke-width="1" />
<line x1="502.00" y1="773.50" x2="502.00" y2="763.00" stroke="#111" stroke-width="1.1" />
<polygon points="499.4,766.5 502.0,759.5 504.6,766.5" fill="#111"/>
<line x1="530.09" y1="773.50" x2="530.09" y2="763.00" stroke="#111" stroke-width="1.1" />
<polygon points="527.5,766.5 530.1,759.5 532.7,766.5" fill="#111"/>
<line x1="558.18" y1="773.50" x2="558.18" y2="763.00" stroke="#111" stroke-width="1.1" />
<polygon points="555.6,766.5 558.2,759.5 560.8,766.5" fill="#111"/>
<line x1="586.27" y1="773.50" x2="586.27" y2="763.00" stroke="#111" stroke-width="1.1" />
<polygon points="583.7,766.5 586.3,759.5 588.9,766.5" fill="#111"/>
<line x1="614.36" y1="773.50" x2="614.36" y2="763.00" stroke="#111" stroke-width="1.1" />
<polygon points="611.8,766.5 614.4,759.5 617.0,766.5" fill="#111"/>
<line x1="642.45" y1="773.50" x2="642.45" y2="763.00" stroke="#111" stroke-width="1.1" />
<polygon points="639.9,766.5 642.5,759.5 645.1,766.5" fill="#111"/>
<line x1="670.54" y1="773.50" x2="670.54" y2="763.00" stroke="#111" stroke-width="1.1" />
<polygon points="667.9,766.5 670.5,759.5 673.1,766.5" fill="#111"/>
<line x1="474.20" y1="764.00" x2="474.20" y2="888.40" stroke="#111" stroke-width="1.4" />
<line x1="473.60" y1="887.80" x2="675.30" y2="887.80" stroke="#111" stroke-width="1.4" />
<line x1="474.20" y1="883.20" x2="478.20" y2="883.20" stroke="#111" stroke-width="1.2" />
<text x="471.2" y="887.9" font-size="13.2" text-anchor="end" fill="#111" >0</text>
<line x1="474.20" y1="859.60" x2="478.20" y2="859.60" stroke="#111" stroke-width="1.2" />
<text x="471.2" y="864.3" font-size="13.2" text-anchor="end" fill="#111" >20</text>
<line x1="474.20" y1="836.00" x2="478.20" y2="836.00" stroke="#111" stroke-width="1.2" />
<text x="471.2" y="840.7" font-size="13.2" text-anchor="end" fill="#111" >40</text>
<line x1="474.20" y1="812.40" x2="478.20" y2="812.40" stroke="#111" stroke-width="1.2" />
<text x="471.2" y="817.1" font-size="13.2" text-anchor="end" fill="#111" >60</text>
<line x1="474.20" y1="788.80" x2="478.20" y2="788.80" stroke="#111" stroke-width="1.2" />
<text x="471.2" y="793.5" font-size="13.2" text-anchor="end" fill="#111" >80</text>
<line x1="474.20" y1="765.20" x2="478.20" y2="765.20" stroke="#111" stroke-width="1.2" />
<text x="471.2" y="769.9" font-size="13.2" text-anchor="end" fill="#111" >100</text>
<line x1="502.00" y1="887.80" x2="502.00" y2="883.80" stroke="#111" stroke-width="1.2" />
<text x="502.0" y="906.0" font-size="13.2" text-anchor="middle" fill="#111" >4</text>
<line x1="558.18" y1="887.80" x2="558.18" y2="883.80" stroke="#111" stroke-width="1.2" />
<text x="558.2" y="906.0" font-size="13.2" text-anchor="middle" fill="#111" >8</text>
<line x1="614.36" y1="887.80" x2="614.36" y2="883.80" stroke="#111" stroke-width="1.2" />
<text x="614.4" y="906.0" font-size="13.2" text-anchor="middle" fill="#111" >16</text>
<line x1="670.54" y1="887.80" x2="670.54" y2="883.80" stroke="#111" stroke-width="1.2" />
<text x="670.5" y="906.0" font-size="13.2" text-anchor="middle" fill="#111" >32</text>
<text x="574.7" y="919.3" font-size="14" text-anchor="middle" fill="#111" >Frequency (kHz)</text>
<text x="446.3" y="823.9" font-size="13.9" text-anchor="middle" fill="#111" transform="rotate(-90 446.3 823.9)" >Threshold (dB SPL)</text>
<line x1="491.70" y1="862.10" x2="511.50" y2="862.10" stroke="#4471a6" stroke-width="1.3" />
<rect x="498.50" y="858.60" width="6.20" height="7.00" fill="#4471a6" stroke="none" stroke-width="1" />
<line x1="491.70" y1="874.50" x2="511.50" y2="874.50" stroke="#f0104f" stroke-width="1.5" />
<circle cx="501.60" cy="874.50" r="3.40" fill="#f0104f" stroke="none" stroke-width="1" />
<text x="516.9" y="866.9" font-size="13.8" text-anchor="start" fill="#111" >WT (N=7)</text>
<text x="516.9" y="879.3" font-size="13.8" fill="#111"><tspan font-style="italic">Pmca1</tspan> CKO (N=7)</text>
<text x="645.0" y="872.5" font-size="13.6" text-anchor="start" fill="#111" >P24</text>
<line x1="36.10" y1="593.00" x2="36.10" y2="625.70" stroke="#111" stroke-width="1.3" />
<line x1="33.80" y1="596.40" x2="36.10" y2="596.40" stroke="#111" stroke-width="1.0" />
<text x="32.9" y="599.0" font-size="7.3" text-anchor="end" fill="#222" >0</text>
<line x1="33.80" y1="603.40" x2="36.10" y2="603.40" stroke="#111" stroke-width="1.0" />
<text x="32.9" y="606.0" font-size="7.3" text-anchor="end" fill="#222" >-100</text>
<line x1="33.80" y1="610.40" x2="36.10" y2="610.40" stroke="#111" stroke-width="1.0" />
<text x="32.9" y="613.0" font-size="7.3" text-anchor="end" fill="#222" >-200</text>
<line x1="33.80" y1="617.40" x2="36.10" y2="617.40" stroke="#111" stroke-width="1.0" />
<text x="32.9" y="620.0" font-size="7.3" text-anchor="end" fill="#222" >-300</text>
<line x1="33.80" y1="624.40" x2="36.10" y2="624.40" stroke="#111" stroke-width="1.0" />
<text x="32.9" y="627.0" font-size="7.3" text-anchor="end" fill="#222" >-400</text>
<line x1="36.10" y1="636.00" x2="36.10" y2="702.80" stroke="#111" stroke-width="1.3" />
<line x1="35.50" y1="702.20" x2="149.20" y2="702.20" stroke="#111" stroke-width="1.3" />
<line x1="33.80" y1="639.10" x2="36.10" y2="639.10" stroke="#111" stroke-width="1.0" />
<text x="32.9" y="641.8" font-size="7.5" text-anchor="end" fill="#222" >40</text>
<line x1="33.80" y1="653.30" x2="36.10" y2="653.30" stroke="#111" stroke-width="1.0" />
<text x="32.9" y="656.0" font-size="7.5" text-anchor="end" fill="#222" >30</text>
<line x1="33.80" y1="667.60" x2="36.10" y2="667.60" stroke="#111" stroke-width="1.0" />
<text x="32.9" y="670.3" font-size="7.5" text-anchor="end" fill="#222" >20</text>
<line x1="33.80" y1="682.00" x2="36.10" y2="682.00" stroke="#111" stroke-width="1.0" />
<text x="32.9" y="684.7" font-size="7.5" text-anchor="end" fill="#222" >10</text>
<line x1="33.80" y1="696.40" x2="36.10" y2="696.40" stroke="#111" stroke-width="1.0" />
<text x="32.9" y="699.1" font-size="7.5" text-anchor="end" fill="#222" >0</text>
<line x1="40.40" y1="702.20" x2="40.40" y2="704.70" stroke="#111" stroke-width="1.0" />
<text x="40.4" y="712.0" font-size="7.2" text-anchor="middle" fill="#222" >0</text>
<line x1="60.90" y1="702.20" x2="60.90" y2="704.70" stroke="#111" stroke-width="1.0" />
<text x="60.9" y="712.0" font-size="7.2" text-anchor="middle" fill="#222" >0.2</text>
<line x1="81.60" y1="702.20" x2="81.60" y2="704.70" stroke="#111" stroke-width="1.0" />
<text x="81.6" y="712.0" font-size="7.2" text-anchor="middle" fill="#222" >0.4</text>
<line x1="102.50" y1="702.20" x2="102.50" y2="704.70" stroke="#111" stroke-width="1.0" />
<text x="102.5" y="712.0" font-size="7.2" text-anchor="middle" fill="#222" >0.6</text>
<line x1="123.00" y1="702.20" x2="123.00" y2="704.70" stroke="#111" stroke-width="1.0" />
<text x="123.0" y="712.0" font-size="7.2" text-anchor="middle" fill="#222" >0.8</text>
<line x1="143.90" y1="702.20" x2="143.90" y2="704.70" stroke="#111" stroke-width="1.0" />
<text x="143.9" y="712.0" font-size="7.2" text-anchor="middle" fill="#222" >1.0</text>
<text x="100.2" y="721.5" font-size="9.1" text-anchor="middle" fill="#111" >Time (ms)</text>
<text x="95.0" y="590.1" font-size="10" text-anchor="middle" fill="#111" >P12</text>
<polygon points="39.4,593.9 40.1,594.1 40.8,594.7 41.5,593.9 42.2,594.0 42.9,594.1 43.6,593.5 44.3,594.0 45.1,594.2 45.8,594.5 46.5,593.4 47.2,593.7 47.9,593.3 48.6,594.5 49.3,594.3 50.0,593.3 50.7,594.8 51.4,594.7 52.1,594.2 52.8,594.2 53.5,593.5 54.2,593.2 55.0,594.0 55.7,593.3 56.4,593.5 57.1,593.6 57.8,593.2 58.5,593.9 59.2,593.9 59.9,594.5 60.6,594.0 61.3,594.2 62.0,594.0 62.7,594.3 63.4,593.9 64.1,593.6 64.8,594.8 65.6,594.8 66.3,594.5 67.0,594.3 67.7,593.7 68.4,593.6 69.1,593.7 69.8,593.3 70.5,594.4 71.2,593.8 71.9,594.6 72.6,593.8 73.3,594.7 74.0,594.6 74.7,593.2 75.4,593.5 76.2,594.7 76.9,594.0 77.6,594.8 78.3,593.8 79.0,593.3 79.7,594.2 80.4,594.4 81.1,593.6 81.8,593.3 82.5,593.7 83.2,594.7 83.9,594.4 84.6,593.4 85.3,593.6 86.1,593.4 86.8,593.3 87.5,594.5 88.2,593.5 88.9,594.1 89.6,593.9 90.3,593.5 91.0,594.4 91.0,600.8 90.3,600.0 89.6,599.6 88.9,600.3 88.2,600.0 87.5,599.7 86.8,599.5 86.1,600.1 85.3,599.8 84.6,599.4 83.9,599.7 83.2,600.9 82.5,599.8 81.8,600.4 81.1,600.8 80.4,600.3 79.7,599.8 79.0,599.5 78.3,600.6 77.6,599.7 76.9,599.9 76.2,600.4 75.4,600.7 74.7,599.8 74.0,600.5 73.3,599.8 72.6,600.9 71.9,599.5 71.2,599.6 70.5,600.1 69.8,600.4 69.1,600.8 68.4,600.9 67.7,599.7 67.0,600.9 66.3,600.6 65.6,599.7 64.8,599.8 64.1,600.7 63.4,600.9 62.7,599.6 62.0,599.7 61.3,600.8 60.6,600.3 59.9,600.2 59.2,600.9 58.5,600.1 57.8,600.0 57.1,600.4 56.4,599.8 55.7,600.3 55.0,599.5 54.2,599.5 53.5,599.9 52.8,599.9 52.1,600.6 51.4,599.8 50.7,599.7 50.0,601.0 49.3,599.6 48.6,600.4 47.9,600.8 47.2,600.0 46.5,599.7 45.8,600.8 45.1,599.9 44.3,600.7 43.6,601.0 42.9,599.8 42.2,599.7 41.5,600.1 40.8,599.6 40.1,600.4 39.4,599.6" fill="#f0104f"/>
<polygon points="96.0,594.8 96.7,594.3 97.4,594.3 98.1,594.1 98.8,593.4 99.5,593.3 100.2,593.2 101.0,594.7 101.7,594.3 102.4,594.7 103.1,593.2 103.8,594.2 104.5,594.0 105.2,594.4 105.9,593.7 106.6,594.8 107.3,593.3 108.0,594.1 108.8,594.4 109.5,594.6 110.2,594.4 110.9,594.3 111.6,594.5 112.3,594.7 113.0,593.8 113.7,594.3 114.4,594.6 115.1,594.6 115.8,593.9 116.5,594.5 117.2,594.6 118.0,594.1 118.7,594.2 119.4,593.8 120.1,594.1 120.8,594.2 121.5,593.3 122.2,594.2 122.9,594.8 123.6,594.6 124.3,594.4 125.0,593.8 125.8,594.4 126.5,594.1 127.2,593.9 127.9,594.5 128.6,593.3 129.3,594.4 130.0,593.2 130.7,594.2 131.4,594.0 132.1,593.6 132.8,594.3 133.5,594.0 134.2,594.2 135.0,594.7 135.7,593.6 136.4,593.2 137.1,593.7 137.8,594.3 138.5,593.5 139.2,593.5 139.9,594.6 140.6,594.3 141.3,593.9 142.0,594.6 142.8,593.7 143.5,594.3 144.2,593.5 144.9,593.9 145.6,594.5 146.3,594.7 147.0,594.6 147.0,600.1 146.3,600.9 145.6,600.7 144.9,600.8 144.2,600.3 143.5,600.0 142.8,600.9 142.0,600.4 141.3,600.1 140.6,599.6 139.9,600.6 139.2,600.9 138.5,599.5 137.8,600.8 137.1,600.7 136.4,600.0 135.7,600.6 135.0,600.4 134.2,600.2 133.5,600.5 132.8,600.0 132.1,599.8 131.4,599.7 130.7,600.5 130.0,600.2 129.3,599.4 128.6,599.7 127.9,600.2 127.2,599.7 126.5,600.5 125.8,600.9 125.0,600.7 124.3,600.4 123.6,600.4 122.9,600.1 122.2,600.4 121.5,599.5 120.8,599.6 120.1,599.8 119.4,600.7 118.7,599.4 118.0,600.1 117.2,599.6 116.5,599.4 115.8,600.7 115.1,599.9 114.4,600.3 113.7,600.5 113.0,599.5 112.3,600.8 111.6,599.5 110.9,599.5 110.2,600.1 109.5,601.0 108.8,600.7 108.0,599.9 107.3,600.2 106.6,600.4 105.9,600.1 105.2,599.7 104.5,599.8 103.8,600.1 103.1,599.7 102.4,599.8 101.7,600.9 101.0,600.5 100.2,600.8 99.5,600.7 98.8,600.2 98.1,599.6 97.4,599.9 96.7,600.3 96.0,600.0" fill="#f0104f"/>
<line x1="39.60" y1="594.00" x2="39.60" y2="600.00" stroke="#4471a6" stroke-width="0.7" />
<polyline points="91.00,596.50 92.20,592.50 93.00,622.00 93.80,625.50 94.80,598.00 96.00,597.00" fill="none" stroke="#f0104f" stroke-width="1.1" stroke-linejoin="round" />
<polyline points="92.60,600.00 93.20,623.50" fill="none" stroke="#4471a6" stroke-width="0.7" stroke-linejoin="round" />
<polyline points="40.40,695.88 41.62,692.86 42.84,691.56 44.06,689.97 45.28,692.66 46.50,696.45 47.72,701.42 48.94,700.30 50.16,695.41 51.38,691.38 52.61,690.60 53.83,695.32 55.05,696.57 56.27,696.83 57.49,695.50 58.71,695.45 59.93,694.30 61.15,692.43 62.37,691.44 63.59,693.54 64.81,694.39 66.03,694.26 67.25,694.48 68.47,693.56 69.69,692.85 70.91,694.54 72.13,695.75 73.35,697.45 74.57,693.48 75.79,692.81 77.02,693.30 78.24,693.69 79.46,695.30 80.68,693.76 81.90,695.92 83.12,694.35 84.34,695.12 85.56,696.14 86.78,695.80 88.00,697.52" fill="none" stroke="#4471a6" stroke-width="1.5" stroke-linejoin="round" />
<polyline points="40.40,694.32 41.62,693.98 42.84,694.65 44.06,694.88 45.28,697.56 46.50,695.90 47.72,695.43 48.94,696.22 50.16,699.72 51.38,698.84 52.61,695.92 53.83,694.16 55.05,693.09 56.27,693.48 57.49,693.61 58.71,694.80 59.93,696.50 61.15,696.45 62.37,694.90 63.59,694.75 64.81,693.76 66.03,694.95 67.25,693.55 68.47,694.41 69.69,693.76 70.91,693.62 72.13,696.60 73.35,697.06 74.57,697.20 75.79,695.95 77.02,697.54 78.24,698.60 79.46,698.29 80.68,695.10 81.90,693.18 83.12,692.32 84.34,695.22 85.56,697.76 86.78,698.17 88.00,697.30" fill="none" stroke="#f0104f" stroke-width="1.5" stroke-linejoin="round" />
<polyline points="101.00,644.10 102.18,644.98 103.36,644.80 104.54,643.34 105.72,641.24 106.90,643.21 108.08,646.09 109.26,648.63 110.44,648.30 111.62,647.69 112.79,646.32 113.97,646.05 115.15,643.46 116.33,643.19 117.51,641.27 118.69,643.71 119.87,643.19 121.05,644.05 122.23,643.60 123.41,646.26 124.59,645.32 125.77,643.48 126.95,642.74 128.13,642.31 129.31,644.22 130.49,642.32 131.67,643.69 132.85,640.57 134.03,642.33 135.21,641.79 136.38,643.06 137.56,644.93 138.74,646.60 139.92,652.65 141.10,650.36 142.28,648.90 143.46,644.23 144.64,645.88 145.82,646.32 147.00,646.79" fill="none" stroke="#4471a6" stroke-width="1.5" stroke-linejoin="round" />
<polyline points="101.00,646.21 102.18,645.11 103.36,644.75 104.54,645.55 105.72,646.82 106.90,648.24 108.08,646.32 109.26,643.44 110.44,643.88 111.62,644.75 112.79,645.10 113.97,644.51 115.15,642.97 116.33,644.76 117.51,644.98 118.69,647.01 119.87,647.27 121.05,647.30 122.23,645.69 123.41,645.04 124.59,644.30 125.77,645.28 126.95,645.99 128.13,647.21 129.31,649.23 130.49,646.16 131.67,645.92 132.85,643.95 134.03,649.18 135.21,649.75 136.38,648.18 137.56,646.16 138.74,644.59 139.92,647.44 141.10,645.87 142.28,646.32 143.46,645.11 144.64,646.14 145.82,645.62 147.00,643.78" fill="none" stroke="#f0104f" stroke-width="1.5" stroke-linejoin="round" />
<line x1="168.20" y1="590.60" x2="168.20" y2="625.60" stroke="#111" stroke-width="1.3" />
<line x1="165.90" y1="595.20" x2="168.20" y2="595.20" stroke="#111" stroke-width="1.0" />
<text x="165.0" y="597.8" font-size="7.3" text-anchor="end" fill="#222" >0</text>
<line x1="165.90" y1="602.20" x2="168.20" y2="602.20" stroke="#111" stroke-width="1.0" />
<text x="165.0" y="604.8" font-size="7.3" text-anchor="end" fill="#222" >-50</text>
<line x1="165.90" y1="609.70" x2="168.20" y2="609.70" stroke="#111" stroke-width="1.0" />
<text x="165.0" y="612.3" font-size="7.3" text-anchor="end" fill="#222" >-100</text>
<line x1="165.90" y1="616.70" x2="168.20" y2="616.70" stroke="#111" stroke-width="1.0" />
<text x="165.0" y="619.3" font-size="7.3" text-anchor="end" fill="#222" >-150</text>
<line x1="165.90" y1="623.70" x2="168.20" y2="623.70" stroke="#111" stroke-width="1.0" />
<text x="165.0" y="626.3" font-size="7.3" text-anchor="end" fill="#222" >-200</text>
<line x1="168.20" y1="636.60" x2="168.20" y2="702.80" stroke="#111" stroke-width="1.3" />
<line x1="167.60" y1="702.20" x2="280.80" y2="702.20" stroke="#111" stroke-width="1.3" />
<line x1="165.90" y1="638.20" x2="168.20" y2="638.20" stroke="#111" stroke-width="1.0" />
<text x="165.0" y="640.9" font-size="7.5" text-anchor="end" fill="#222" >20</text>
<line x1="165.90" y1="653.00" x2="168.20" y2="653.00" stroke="#111" stroke-width="1.0" />
<text x="165.0" y="655.7" font-size="7.5" text-anchor="end" fill="#222" >15</text>
<line x1="165.90" y1="667.40" x2="168.20" y2="667.40" stroke="#111" stroke-width="1.0" />
<text x="165.0" y="670.1" font-size="7.5" text-anchor="end" fill="#222" >10</text>
<line x1="165.90" y1="681.70" x2="168.20" y2="681.70" stroke="#111" stroke-width="1.0" />
<text x="165.0" y="684.4" font-size="7.5" text-anchor="end" fill="#222" >5</text>
<line x1="165.90" y1="696.20" x2="168.20" y2="696.20" stroke="#111" stroke-width="1.0" />
<text x="165.0" y="698.9" font-size="7.5" text-anchor="end" fill="#222" >0</text>
<line x1="171.50" y1="702.20" x2="171.50" y2="704.70" stroke="#111" stroke-width="1.0" />
<text x="171.5" y="712.0" font-size="7.2" text-anchor="middle" fill="#222" >0</text>
<line x1="192.50" y1="702.20" x2="192.50" y2="704.70" stroke="#111" stroke-width="1.0" />
<text x="192.5" y="712.0" font-size="7.2" text-anchor="middle" fill="#222" >0.2</text>
<line x1="213.10" y1="702.20" x2="213.10" y2="704.70" stroke="#111" stroke-width="1.0" />
<text x="213.1" y="712.0" font-size="7.2" text-anchor="middle" fill="#222" >0.4</text>
<line x1="234.10" y1="702.20" x2="234.10" y2="704.70" stroke="#111" stroke-width="1.0" />
<text x="234.1" y="712.0" font-size="7.2" text-anchor="middle" fill="#222" >0.6</text>
<line x1="254.70" y1="702.20" x2="254.70" y2="704.70" stroke="#111" stroke-width="1.0" />
<text x="254.7" y="712.0" font-size="7.2" text-anchor="middle" fill="#222" >0.8</text>
<line x1="275.70" y1="702.20" x2="275.70" y2="704.70" stroke="#111" stroke-width="1.0" />
<text x="275.7" y="712.0" font-size="7.2" text-anchor="middle" fill="#222" >1.0</text>
<text x="231.6" y="721.5" font-size="9.1" text-anchor="middle" fill="#111" >Time (ms)</text>
<text x="226.9" y="585.9" font-size="10" text-anchor="middle" fill="#111" >P18</text>
<polygon points="171.5,591.0 172.2,591.5 172.9,592.1 173.6,591.4 174.3,591.0 175.0,590.9 175.7,591.6 176.4,590.6 177.1,592.4 177.8,592.2 178.5,592.0 179.2,592.3 179.9,591.9 180.6,591.4 181.3,591.8 182.0,591.6 182.7,592.6 183.4,592.2 184.1,591.1 184.9,592.4 185.6,592.1 186.3,592.2 187.0,592.2 187.7,591.4 188.4,592.4 189.1,592.4 189.8,592.0 190.5,592.1 191.2,592.1 191.9,591.4 192.6,592.0 193.3,590.7 194.0,591.3 194.7,591.5 195.4,590.6 196.1,591.3 196.8,591.9 197.5,591.8 198.2,591.1 198.9,592.5 199.6,591.9 200.3,591.3 201.0,591.9 201.7,591.7 202.4,591.7 203.1,591.4 203.8,592.6 204.5,591.9 205.2,592.0 205.9,592.1 206.6,592.6 207.3,590.6 208.0,591.8 208.7,592.1 209.4,591.1 210.1,591.4 210.9,590.7 211.6,591.0 212.3,591.4 213.0,590.8 213.7,591.1 214.4,592.4 215.1,591.7 215.8,591.6 216.5,592.5 217.2,591.7 217.9,592.6 218.6,591.9 219.3,592.2 220.0,590.8 220.7,591.8 221.4,592.1 222.1,590.7 222.8,592.5 223.5,590.9 223.5,602.0 222.8,602.0 222.1,602.2 221.4,600.7 220.7,600.6 220.0,601.7 219.3,601.5 218.6,601.4 217.9,601.3 217.2,601.6 216.5,600.7 215.8,600.9 215.1,601.4 214.4,601.8 213.7,602.0 213.0,600.4 212.3,600.7 211.6,601.7 210.9,602.1 210.1,602.2 209.4,601.3 208.7,601.8 208.0,601.0 207.3,601.4 206.6,600.7 205.9,601.1 205.2,601.5 204.5,601.1 203.8,600.4 203.1,601.3 202.4,600.3 201.7,600.6 201.0,601.1 200.3,601.4 199.6,600.4 198.9,601.4 198.2,601.8 197.5,602.2 196.8,601.1 196.1,601.6 195.4,602.1 194.7,601.2 194.0,600.7 193.3,602.1 192.6,601.2 191.9,601.1 191.2,602.0 190.5,600.3 189.8,602.1 189.1,602.2 188.4,600.3 187.7,601.7 187.0,602.0 186.3,601.0 185.6,601.7 184.9,600.5 184.1,600.3 183.4,600.7 182.7,600.2 182.0,600.8 181.3,601.6 180.6,600.8 179.9,601.3 179.2,601.5 178.5,600.8 177.8,600.9 177.1,601.4 176.4,601.3 175.7,601.0 175.0,602.1 174.3,600.3 173.6,601.4 172.9,601.2 172.2,600.5 171.5,601.1" fill="#f0104f"/>
<polygon points="226.5,590.7 227.2,590.7 227.9,591.1 228.6,591.5 229.3,591.8 230.0,590.8 230.7,591.7 231.4,590.7 232.1,590.8 232.8,592.0 233.5,591.7 234.2,591.9 234.9,591.3 235.6,591.6 236.3,591.0 237.0,591.3 237.7,592.1 238.4,592.3 239.1,590.7 239.8,590.8 240.5,592.2 241.2,591.8 241.9,592.1 242.6,591.0 243.3,591.4 244.0,591.1 244.7,592.2 245.4,591.3 246.1,591.9 246.8,592.6 247.5,591.3 248.2,591.7 248.9,592.1 249.6,592.4 250.3,591.5 251.0,591.3 251.7,590.8 252.4,592.4 253.1,590.8 253.8,590.8 254.5,591.7 255.2,591.6 255.9,592.0 256.6,591.2 257.3,592.2 258.0,590.8 258.7,591.0 259.4,591.9 260.1,590.8 260.8,591.2 261.5,592.0 262.2,592.0 262.9,591.2 263.6,590.9 264.3,591.3 265.0,592.1 265.7,591.3 266.4,590.8 267.1,592.0 267.8,591.7 268.5,592.4 269.2,592.5 269.9,592.4 270.6,591.5 271.3,592.2 272.0,591.2 272.7,591.2 273.4,591.4 274.1,592.5 274.8,592.4 275.5,591.1 276.2,591.3 276.9,591.3 277.6,591.3 278.3,591.4 279.0,591.4 279.0,602.0 278.3,601.4 277.6,601.1 276.9,600.3 276.2,600.6 275.5,601.8 274.8,601.5 274.1,600.4 273.4,600.8 272.7,600.3 272.0,602.1 271.3,600.8 270.6,601.0 269.9,600.6 269.2,600.5 268.5,601.0 267.8,602.2 267.1,601.7 266.4,600.5 265.7,601.0 265.0,601.0 264.3,601.8 263.6,601.6 262.9,601.2 262.2,601.5 261.5,602.1 260.8,602.0 260.1,601.9 259.4,601.8 258.7,601.9 258.0,601.5 257.3,601.9 256.6,601.0 255.9,602.0 255.2,601.6 254.5,601.6 253.8,601.3 253.1,601.2 252.4,601.5 251.7,602.1 251.0,600.9 250.3,601.0 249.6,601.7 248.9,601.2 248.2,601.7 247.5,600.6 246.8,600.7 246.1,601.5 245.4,601.7 244.7,600.5 244.0,601.5 243.3,600.4 242.6,602.0 241.9,601.7 241.2,600.4 240.5,600.4 239.8,601.8 239.1,601.3 238.4,600.3 237.7,601.8 237.0,601.5 236.3,602.1 235.6,601.3 234.9,601.3 234.2,601.2 233.5,600.2 232.8,600.8 232.1,602.0 231.4,601.7 230.7,600.6 230.0,601.3 229.3,601.9 228.6,601.3 227.9,601.8 227.2,601.3 226.5,600.6" fill="#f0104f"/>
<line x1="171.70" y1="591.50" x2="171.70" y2="601.00" stroke="#4471a6" stroke-width="0.7" />
<polyline points="223.50,597.00 224.30,590.00 225.00,620.00 225.80,625.00 226.60,599.00" fill="none" stroke="#f0104f" stroke-width="1.1" stroke-linejoin="round" />
<polyline points="171.50,694.18 172.63,694.42 173.76,694.47 174.90,696.26 176.03,694.56 177.16,693.82 178.29,692.08 179.42,693.92 180.55,695.55 181.69,697.15 182.82,695.47 183.95,695.99 185.08,694.59 186.21,693.81 187.35,692.02 188.48,694.24 189.61,696.76 190.74,696.30 191.87,690.14 193.00,688.05 194.14,687.73 195.27,691.13 196.40,695.32 197.53,697.31 198.66,697.63 199.80,693.17 200.93,690.52 202.06,689.80 203.19,690.44 204.32,696.20 205.45,695.93 206.59,695.73 207.72,693.15 208.85,693.81 209.98,692.96 211.11,693.18 212.25,692.65 213.38,692.52 214.51,691.19 215.64,692.29 216.77,693.65 217.90,694.16 219.04,694.62 220.17,693.87 221.30,690.09" fill="none" stroke="#4471a6" stroke-width="1.5" stroke-linejoin="round" />
<polyline points="171.50,691.77 172.63,697.11 173.76,699.49 174.90,700.48 176.03,698.93 177.16,698.40 178.29,693.08 179.42,694.14 180.55,693.10 181.69,695.35 182.82,693.57 183.95,691.21 185.08,691.57 186.21,694.27 187.35,695.45 188.48,696.06 189.61,693.01 190.74,693.99 191.87,691.57 193.00,693.21 194.14,692.47 195.27,694.55 196.40,693.00 197.53,691.50 198.66,690.48 199.80,693.06 200.93,697.39 202.06,697.40 203.19,697.03 204.32,695.74 205.45,696.86 206.59,693.17 207.72,692.49 208.85,690.35 209.98,694.63 211.11,695.36 212.25,697.85 213.38,692.03 214.51,691.76 215.64,691.89 216.77,693.87 217.90,694.42 219.04,693.44 220.17,695.15 221.30,692.51" fill="none" stroke="#f0104f" stroke-width="1.5" stroke-linejoin="round" />
<polyline points="230.60,645.07 231.76,646.98 232.91,647.99 234.07,642.13 235.22,640.84 236.38,639.65 237.54,639.27 238.69,641.62 239.85,642.06 241.00,644.81 242.16,641.62 243.32,643.50 244.47,642.10 245.63,644.96 246.79,643.34 247.94,641.99 249.10,642.84 250.25,642.32 251.41,643.49 252.57,640.19 253.72,641.20 254.88,640.82 256.03,642.65 257.19,642.87 258.35,642.40 259.50,639.74 260.66,639.88 261.81,642.41 262.97,645.71 264.13,643.24 265.28,642.74 266.44,642.26 267.60,644.50 268.75,644.22 269.91,643.11 271.06,643.00 272.22,643.78 273.38,643.50 274.53,640.90 275.69,639.28 276.84,640.38 278.00,639.75" fill="none" stroke="#4471a6" stroke-width="1.5" stroke-linejoin="round" />
<polyline points="230.60,643.06 231.76,644.49 232.91,641.04 234.07,643.01 235.22,646.11 236.38,648.09 237.54,645.03 238.69,639.60 239.85,641.64 241.00,643.20 242.16,643.87 243.32,644.48 244.47,645.71 245.63,648.31 246.79,642.77 247.94,641.15 249.10,641.19 250.25,642.19 251.41,644.12 252.57,645.62 253.72,649.83 254.88,646.75 256.03,642.76 257.19,642.59 258.35,645.79 259.50,649.40 260.66,649.89 261.81,647.84 262.97,644.79 264.13,639.09 265.28,640.74 266.44,645.75 267.60,648.34 268.75,645.99 269.91,642.96 271.06,644.52 272.22,642.85 273.38,640.31 274.53,637.56 275.69,643.89 276.84,643.88 278.00,647.52" fill="none" stroke="#f0104f" stroke-width="1.5" stroke-linejoin="round" />
<line x1="299.20" y1="591.20" x2="299.20" y2="625.30" stroke="#111" stroke-width="1.3" />
<line x1="296.90" y1="595.40" x2="299.20" y2="595.40" stroke="#111" stroke-width="1.0" />
<text x="296.0" y="598.0" font-size="7.3" text-anchor="end" fill="#222" >0</text>
<line x1="296.90" y1="605.90" x2="299.20" y2="605.90" stroke="#111" stroke-width="1.0" />
<text x="296.0" y="608.5" font-size="7.3" text-anchor="end" fill="#222" >-100</text>
<line x1="296.90" y1="615.90" x2="299.20" y2="615.90" stroke="#111" stroke-width="1.0" />
<text x="296.0" y="618.5" font-size="7.3" text-anchor="end" fill="#222" >-200</text>
<line x1="296.90" y1="624.60" x2="299.20" y2="624.60" stroke="#111" stroke-width="1.0" />
<text x="296.0" y="627.2" font-size="7.3" text-anchor="end" fill="#222" >-300</text>
<line x1="299.90" y1="636.30" x2="299.90" y2="701.90" stroke="#111" stroke-width="1.3" />
<line x1="299.30" y1="701.30" x2="413.00" y2="701.30" stroke="#111" stroke-width="1.3" />
<line x1="297.60" y1="638.60" x2="299.90" y2="638.60" stroke="#111" stroke-width="1.0" />
<text x="296.7" y="641.3" font-size="7.5" text-anchor="end" fill="#222" >30</text>
<line x1="297.60" y1="656.10" x2="299.90" y2="656.10" stroke="#111" stroke-width="1.0" />
<text x="296.7" y="658.8" font-size="7.5" text-anchor="end" fill="#222" >20</text>
<line x1="297.60" y1="673.00" x2="299.90" y2="673.00" stroke="#111" stroke-width="1.0" />
<text x="296.7" y="675.7" font-size="7.5" text-anchor="end" fill="#222" >10</text>
<line x1="297.60" y1="690.00" x2="299.90" y2="690.00" stroke="#111" stroke-width="1.0" />
<text x="296.7" y="692.7" font-size="7.5" text-anchor="end" fill="#222" >0</text>
<line x1="303.40" y1="701.30" x2="303.40" y2="703.80" stroke="#111" stroke-width="1.0" />
<text x="303.4" y="711.1" font-size="7.2" text-anchor="middle" fill="#222" >0</text>
<line x1="324.40" y1="701.30" x2="324.40" y2="703.80" stroke="#111" stroke-width="1.0" />
<text x="324.4" y="711.1" font-size="7.2" text-anchor="middle" fill="#222" >0.2</text>
<line x1="345.20" y1="701.30" x2="345.20" y2="703.80" stroke="#111" stroke-width="1.0" />
<text x="345.2" y="711.1" font-size="7.2" text-anchor="middle" fill="#222" >0.4</text>
<line x1="366.30" y1="701.30" x2="366.30" y2="703.80" stroke="#111" stroke-width="1.0" />
<text x="366.3" y="711.1" font-size="7.2" text-anchor="middle" fill="#222" >0.6</text>
<line x1="387.30" y1="701.30" x2="387.30" y2="703.80" stroke="#111" stroke-width="1.0" />
<text x="387.3" y="711.1" font-size="7.2" text-anchor="middle" fill="#222" >0.8</text>
<line x1="408.30" y1="701.30" x2="408.30" y2="703.80" stroke="#111" stroke-width="1.0" />
<text x="408.3" y="711.1" font-size="7.2" text-anchor="middle" fill="#222" >1.0</text>
<text x="363.9" y="721.5" font-size="9.1" text-anchor="middle" fill="#111" >Time (ms)</text>
<text x="360.5" y="585.9" font-size="10" text-anchor="middle" fill="#111" >P24</text>
<polygon points="302.7,592.7 303.4,593.9 304.1,592.7 304.8,593.8 305.5,593.3 306.2,593.3 306.9,593.3 307.7,592.9 308.4,593.8 309.1,593.9 309.8,593.6 310.5,593.3 311.2,592.7 311.9,593.7 312.6,592.9 313.3,593.8 314.0,592.8 314.7,593.3 315.4,593.7 316.1,592.8 316.9,593.3 317.6,592.6 318.3,592.5 319.0,592.8 319.7,593.9 320.4,593.8 321.1,593.4 321.8,592.9 322.5,593.4 323.2,593.5 323.9,593.0 324.6,593.3 325.3,593.6 326.1,592.5 326.8,592.8 327.5,593.2 328.2,592.7 328.9,593.0 329.6,593.3 330.3,592.7 331.0,593.2 331.7,592.9 332.4,593.3 333.1,593.0 333.8,593.4 334.6,592.6 335.3,593.4 336.0,592.7 336.7,593.8 337.4,593.3 338.1,593.2 338.8,593.1 339.5,593.4 340.2,593.5 340.9,593.6 341.6,593.6 342.3,593.2 343.0,593.9 343.8,593.7 344.5,593.7 345.2,593.1 345.9,593.1 346.6,593.3 347.3,593.8 348.0,593.2 348.7,593.2 349.4,593.1 350.1,593.8 350.8,592.9 351.5,592.6 352.2,593.5 353.0,593.8 353.7,593.5 354.4,593.3 355.1,593.6 355.8,592.9 356.5,593.3 357.2,592.6 357.2,596.8 356.5,596.8 355.8,596.8 355.1,597.5 354.4,596.9 353.7,596.8 353.0,596.6 352.2,597.1 351.5,597.8 350.8,597.5 350.1,596.7 349.4,597.5 348.7,597.7 348.0,597.8 347.3,596.9 346.6,597.5 345.9,596.6 345.2,596.6 344.5,597.7 343.8,596.8 343.0,597.4 342.3,596.8 341.6,597.9 340.9,597.7 340.2,596.7 339.5,597.2 338.8,597.0 338.1,597.7 337.4,596.8 336.7,597.8 336.0,597.8 335.3,596.9 334.6,596.8 333.8,597.2 333.1,597.9 332.4,597.8 331.7,597.2 331.0,596.9 330.3,597.8 329.6,596.5 328.9,596.6 328.2,597.3 327.5,597.0 326.8,597.1 326.1,597.6 325.3,597.8 324.6,596.6 323.9,597.0 323.2,596.9 322.5,596.8 321.8,596.5 321.1,597.8 320.4,597.3 319.7,596.7 319.0,597.6 318.3,596.6 317.6,597.8 316.9,597.3 316.1,597.5 315.4,596.8 314.7,597.6 314.0,597.1 313.3,597.7 312.6,597.4 311.9,597.9 311.2,597.8 310.5,596.6 309.8,596.8 309.1,597.1 308.4,596.9 307.7,596.8 306.9,597.2 306.2,597.5 305.5,596.6 304.8,597.1 304.1,597.2 303.4,597.1 302.7,596.7" fill="#f0104f"/>
<polygon points="360.0,593.4 360.7,593.6 361.4,593.0 362.1,593.4 362.8,593.7 363.5,593.3 364.2,592.8 364.9,592.9 365.6,593.8 366.3,593.4 367.1,592.9 367.8,593.4 368.5,592.6 369.2,593.9 369.9,593.1 370.6,593.2 371.3,593.2 372.0,592.6 372.7,593.3 373.4,592.9 374.1,592.9 374.8,593.6 375.5,592.6 376.2,592.9 376.9,593.6 377.6,592.8 378.3,592.9 379.0,593.3 379.7,592.8 380.4,593.8 381.2,593.9 381.9,592.5 382.6,593.1 383.3,593.6 384.0,593.0 384.7,593.8 385.4,593.2 386.1,592.8 386.8,593.3 387.5,593.4 388.2,593.0 388.9,593.4 389.6,593.6 390.3,593.2 391.0,593.2 391.7,593.7 392.4,593.5 393.1,593.2 393.8,593.8 394.6,592.7 395.3,593.6 396.0,592.7 396.7,593.4 397.4,592.8 398.1,593.1 398.8,593.6 399.5,593.6 400.2,593.6 400.9,592.8 401.6,593.2 402.3,592.8 403.0,593.3 403.7,593.2 404.4,592.5 405.1,593.3 405.8,593.5 406.5,593.3 407.2,593.7 407.9,592.8 408.7,592.7 409.4,592.5 410.1,593.2 410.8,593.1 411.5,593.1 412.2,592.9 412.9,593.6 413.6,592.6 414.3,593.8 415.0,593.3 415.0,597.5 414.3,597.9 413.6,597.1 412.9,596.9 412.2,597.2 411.5,596.8 410.8,596.8 410.1,596.7 409.4,597.3 408.7,596.8 407.9,597.0 407.2,596.8 406.5,597.6 405.8,597.0 405.1,597.7 404.4,597.1 403.7,597.1 403.0,597.7 402.3,597.3 401.6,597.7 400.9,597.5 400.2,597.0 399.5,596.6 398.8,597.4 398.1,597.1 397.4,596.6 396.7,597.4 396.0,597.9 395.3,597.0 394.6,597.0 393.8,597.8 393.1,597.1 392.4,596.8 391.7,597.3 391.0,596.9 390.3,596.8 389.6,597.5 388.9,597.6 388.2,597.9 387.5,596.5 386.8,596.6 386.1,597.1 385.4,596.9 384.7,597.1 384.0,596.7 383.3,597.7 382.6,596.8 381.9,596.6 381.2,597.5 380.4,597.1 379.7,596.7 379.0,597.9 378.3,597.6 377.6,597.2 376.9,596.6 376.2,597.9 375.5,596.8 374.8,597.0 374.1,597.1 373.4,596.6 372.7,597.6 372.0,597.7 371.3,597.5 370.6,596.7 369.9,596.9 369.2,596.7 368.5,597.6 367.8,596.6 367.1,597.3 366.3,596.9 365.6,597.2 364.9,597.4 364.2,596.9 363.5,596.6 362.8,596.9 362.1,596.7 361.4,596.8 360.7,597.6 360.0,597.3" fill="#f0104f"/>
<polyline points="357.00,595.00 357.70,591.00 358.40,610.00 359.20,606.00 360.00,596.00" fill="none" stroke="#f0104f" stroke-width="1.2" stroke-linejoin="round" />
<polyline points="357.80,597.00 358.20,612.00 358.80,622.00 359.40,614.00 360.00,598.00" fill="none" stroke="#4471a6" stroke-width="1.0" stroke-linejoin="round" />
<polyline points="303.40,689.90 304.62,689.60 305.85,689.88 307.07,688.89 308.29,688.40 309.52,689.29 310.74,691.31 311.96,692.54 313.19,689.26 314.41,691.08 315.64,689.61 316.86,691.28 318.08,688.31 319.31,689.33 320.53,692.07 321.75,692.08 322.98,691.60 324.20,687.49 325.42,688.38 326.65,687.93 327.87,689.88 329.09,691.07 330.32,694.25 331.54,696.69 332.76,693.91 333.99,693.47 335.21,691.19 336.44,692.43 337.66,688.91 338.88,690.23 340.11,691.22 341.33,692.43 342.55,691.32 343.78,690.15 345.00,689.24" fill="none" stroke="#4471a6" stroke-width="1.5" stroke-linejoin="round" />
<polyline points="303.40,692.01 304.62,690.04 305.85,689.66 307.07,689.52 308.29,687.43 309.52,689.36 310.74,690.64 311.96,692.58 313.19,694.49 314.41,692.22 315.64,693.65 316.86,691.85 318.08,692.33 319.31,691.00 320.53,691.69 321.75,692.68 322.98,693.55 324.20,694.40 325.42,694.66 326.65,691.41 327.87,687.86 329.09,688.89 330.32,691.45 331.54,690.88 332.76,686.21 333.99,686.96 335.21,691.25 336.44,692.45 337.66,688.31 338.88,686.65 340.11,687.83 341.33,690.94 342.55,689.58 343.78,688.98 345.00,690.20" fill="none" stroke="#f0104f" stroke-width="1.5" stroke-linejoin="round" />
<polyline points="367.00,642.78 368.21,643.09 369.41,642.36 370.62,644.46 371.82,641.10 373.03,642.55 374.23,642.93 375.44,646.94 376.64,645.94 377.85,645.52 379.05,642.35 380.26,643.95 381.46,644.64 382.67,647.64 383.87,645.52 385.08,642.12 386.28,640.21 387.49,640.62 388.69,641.56 389.90,642.84 391.10,644.97 392.31,647.07 393.51,648.06 394.72,647.19 395.92,644.90 397.13,642.03 398.33,640.82 399.54,643.83 400.74,646.57 401.95,647.53 403.15,648.20 404.36,645.26 405.56,644.93 406.77,645.87 407.97,648.19 409.18,650.31 410.38,644.51 411.59,640.92 412.79,637.69 414.00,642.84" fill="none" stroke="#4471a6" stroke-width="1.5" stroke-linejoin="round" />
<polyline points="367.00,685.04 368.21,681.41 369.41,680.98 370.62,683.02 371.82,683.92 373.03,687.63 374.23,687.80 375.44,687.25 376.64,684.97 377.85,683.73 379.05,685.68 380.26,686.54 381.46,686.22 382.67,686.31 383.87,685.80 385.08,686.10 386.28,685.19 387.49,685.29 388.69,684.93 389.90,683.62 391.10,684.36 392.31,684.75 393.51,684.80 394.72,683.66 395.92,681.61 397.13,682.44 398.33,679.92 399.54,681.29 400.74,678.75 401.95,679.57 403.15,681.31 404.36,683.42 405.56,682.70 406.77,683.78 407.97,683.13 409.18,686.72 410.38,683.61 411.59,682.44 412.79,682.87 414.00,682.95" fill="none" stroke="#f0104f" stroke-width="1.5" stroke-linejoin="round" />
<text x="12.8" y="610" font-size="8.4" text-anchor="middle" fill="#7a6f6a" transform="rotate(-90 12.8 610)">I<tspan font-size="5" dy="1.5">ca</tspan><tspan dy="-1.5">(pA)</tspan></text>
<text x="12.8" y="668" font-size="10" text-anchor="middle" fill="#8a8a8a" transform="rotate(-90 12.8 668)">&#916;C<tspan font-size="6" dy="1.8">m</tspan><tspan dy="-1.8">(fF)</tspan></text>
<path d="M55.40,850.90 L55.40,830.90 L70.70,830.90 L70.70,850.90" fill="none" stroke="#4471a6" stroke-width="1.5"/>
<line x1="63.05" y1="827.30" x2="63.05" y2="835.50" stroke="#4471a6" stroke-width="1.4" />
<line x1="60.45" y1="827.30" x2="65.65" y2="827.30" stroke="#4471a6" stroke-width="1.4" />
<line x1="60.45" y1="835.50" x2="65.65" y2="835.50" stroke="#4471a6" stroke-width="1.4" />
<circle cx="64.30" cy="810.50" r="2.25" fill="none" stroke="#4471a6" stroke-width="1.3" />
<circle cx="59.50" cy="823.00" r="2.25" fill="none" stroke="#4471a6" stroke-width="1.3" />
<circle cx="67.20" cy="823.50" r="2.25" fill="none" stroke="#4471a6" stroke-width="1.3" />
<circle cx="64.30" cy="827.80" r="2.25" fill="none" stroke="#4471a6" stroke-width="1.3" />
<circle cx="57.00" cy="833.00" r="2.25" fill="none" stroke="#4471a6" stroke-width="1.3" />
<circle cx="61.00" cy="833.00" r="2.25" fill="none" stroke="#4471a6" stroke-width="1.3" />
<circle cx="66.70" cy="833.00" r="2.25" fill="none" stroke="#4471a6" stroke-width="1.3" />
<circle cx="69.90" cy="833.00" r="2.25" fill="none" stroke="#4471a6" stroke-width="1.3" />
<circle cx="61.90" cy="839.40" r="2.25" fill="none" stroke="#4471a6" stroke-width="1.3" />
<path d="M80.30,850.90 L80.30,827.30 L95.60,827.30 L95.60,850.90" fill="none" stroke="#f0104f" stroke-width="1.5"/>
<line x1="87.95" y1="824.50" x2="87.95" y2="830.00" stroke="#f0104f" stroke-width="1.4" />
<line x1="85.35" y1="824.50" x2="90.55" y2="824.50" stroke="#f0104f" stroke-width="1.4" />
<line x1="85.35" y1="830.00" x2="90.55" y2="830.00" stroke="#f0104f" stroke-width="1.4" />
<circle cx="81.90" cy="820.90" r="2.25" fill="none" stroke="#f0104f" stroke-width="1.3" />
<circle cx="84.30" cy="826.00" r="2.25" fill="none" stroke="#f0104f" stroke-width="1.3" />
<circle cx="87.60" cy="827.00" r="2.25" fill="none" stroke="#f0104f" stroke-width="1.3" />
<circle cx="91.60" cy="826.50" r="2.25" fill="none" stroke="#f0104f" stroke-width="1.3" />
<circle cx="94.80" cy="825.00" r="2.25" fill="none" stroke="#f0104f" stroke-width="1.3" />
<circle cx="81.10" cy="830.00" r="2.25" fill="none" stroke="#f0104f" stroke-width="1.3" />
<circle cx="87.10" cy="831.00" r="2.25" fill="none" stroke="#f0104f" stroke-width="1.3" />
<circle cx="90.80" cy="833.00" r="2.25" fill="none" stroke="#f0104f" stroke-width="1.3" />
<circle cx="88.00" cy="837.00" r="2.25" fill="none" stroke="#f0104f" stroke-width="1.3" />
<path d="M105.70,850.90 L105.70,787.20 L120.50,787.20 L120.50,850.90" fill="none" stroke="#4471a6" stroke-width="1.5"/>
<line x1="113.10" y1="779.00" x2="113.10" y2="794.10" stroke="#4471a6" stroke-width="1.4" />
<line x1="110.50" y1="779.00" x2="115.70" y2="779.00" stroke="#4471a6" stroke-width="1.4" />
<line x1="110.50" y1="794.10" x2="115.70" y2="794.10" stroke="#4471a6" stroke-width="1.4" />
<circle cx="113.30" cy="767.90" r="2.25" fill="none" stroke="#4471a6" stroke-width="1.3" />
<circle cx="119.20" cy="767.00" r="2.25" fill="none" stroke="#4471a6" stroke-width="1.3" />
<circle cx="113.30" cy="779.20" r="2.25" fill="none" stroke="#4471a6" stroke-width="1.3" />
<circle cx="113.30" cy="790.40" r="2.25" fill="none" stroke="#4471a6" stroke-width="1.3" />
<circle cx="113.30" cy="804.40" r="2.25" fill="none" stroke="#4471a6" stroke-width="1.3" />
<circle cx="113.30" cy="810.50" r="2.25" fill="none" stroke="#4471a6" stroke-width="1.3" />
<path d="M130.10,850.90 L130.10,778.40 L145.40,778.40 L145.40,850.90" fill="none" stroke="#f0104f" stroke-width="1.5"/>
<line x1="137.75" y1="772.40" x2="137.75" y2="783.20" stroke="#f0104f" stroke-width="1.4" />
<line x1="135.15" y1="772.40" x2="140.35" y2="772.40" stroke="#f0104f" stroke-width="1.4" />
<line x1="135.15" y1="783.20" x2="140.35" y2="783.20" stroke="#f0104f" stroke-width="1.4" />
<circle cx="131.70" cy="752.30" r="2.25" fill="none" stroke="#f0104f" stroke-width="1.3" />
<circle cx="137.80" cy="755.10" r="2.25" fill="none" stroke="#f0104f" stroke-width="1.3" />
<circle cx="137.80" cy="765.20" r="2.25" fill="none" stroke="#f0104f" stroke-width="1.3" />
<circle cx="137.80" cy="773.20" r="2.25" fill="none" stroke="#f0104f" stroke-width="1.3" />
<circle cx="137.80" cy="780.00" r="2.25" fill="none" stroke="#f0104f" stroke-width="1.3" />
<circle cx="131.70" cy="786.40" r="2.25" fill="none" stroke="#f0104f" stroke-width="1.3" />
<circle cx="144.20" cy="786.40" r="2.25" fill="none" stroke="#f0104f" stroke-width="1.3" />
<circle cx="137.80" cy="795.20" r="2.25" fill="none" stroke="#f0104f" stroke-width="1.3" />
<circle cx="137.80" cy="804.50" r="2.25" fill="none" stroke="#f0104f" stroke-width="1.3" />
<line x1="46.60" y1="742.00" x2="46.60" y2="851.50" stroke="#111" stroke-width="1.4" />
<line x1="45.90" y1="850.90" x2="154.30" y2="850.90" stroke="#111" stroke-width="1.4" />
<line x1="42.10" y1="850.90" x2="46.60" y2="850.90" stroke="#111" stroke-width="1.2" />
<text x="40.0" y="853.7" font-size="7.8" text-anchor="end" fill="#222" >0</text>
<line x1="42.10" y1="814.83" x2="46.60" y2="814.83" stroke="#111" stroke-width="1.2" />
<text x="40.0" y="817.6" font-size="7.8" text-anchor="end" fill="#222" >50</text>
<line x1="42.10" y1="778.77" x2="46.60" y2="778.77" stroke="#111" stroke-width="1.2" />
<text x="40.0" y="781.6" font-size="7.8" text-anchor="end" fill="#222" >100</text>
<line x1="42.10" y1="742.70" x2="46.60" y2="742.70" stroke="#111" stroke-width="1.2" />
<text x="40.0" y="745.5" font-size="7.8" text-anchor="end" fill="#222" >150</text>
<line x1="62.70" y1="850.90" x2="62.70" y2="854.90" stroke="#111" stroke-width="1.2" />
<line x1="88.00" y1="850.90" x2="88.00" y2="854.90" stroke="#111" stroke-width="1.2" />
<line x1="113.00" y1="850.90" x2="113.00" y2="854.90" stroke="#111" stroke-width="1.2" />
<line x1="137.70" y1="850.90" x2="137.70" y2="854.90" stroke="#111" stroke-width="1.2" />
<text x="99.6" y="742.6" font-size="10" text-anchor="middle" fill="#111" >P12</text>
<text x="0" y="0" font-size="9.6" text-anchor="end" fill="#111" transform="translate(60.6,858.0) rotate(-60)">WT 20ms</text>
<g transform="translate(90.4,859.6) rotate(-60)"><text x="0" y="0" font-size="10.4" text-anchor="end" fill="#111" font-style="italic">Pmca1-CKO</text><text x="-29.2" y="11.7" font-size="10.4" text-anchor="middle" fill="#111">20ms</text></g>
<text x="0" y="0" font-size="9.6" text-anchor="end" fill="#111" transform="translate(123.0,858.0) rotate(-60)">WT 100ms</text>
<g transform="translate(150.8,859.6) rotate(-60)"><text x="0" y="0" font-size="10.4" text-anchor="end" fill="#111" font-style="italic">Pmca1-CKO</text><text x="-29.2" y="11.7" font-size="10.4" text-anchor="middle" fill="#111">100ms</text></g>
<text x="89.2" y="813.2" font-size="8.8" text-anchor="middle" fill="#111" >N.S.</text>
<text x="138.1" y="743.3" font-size="8.8" text-anchor="middle" fill="#111" >N.S.</text>
<path d="M187.10,850.90 L187.10,841.60 L203.20,841.60 L203.20,850.90" fill="none" stroke="#4471a6" stroke-width="1.5"/>
<line x1="195.15" y1="838.50" x2="195.15" y2="843.50" stroke="#4471a6" stroke-width="1.4" />
<line x1="192.55" y1="838.50" x2="197.75" y2="838.50" stroke="#4471a6" stroke-width="1.4" />
<line x1="192.55" y1="843.50" x2="197.75" y2="843.50" stroke="#4471a6" stroke-width="1.4" />
<circle cx="193.10" cy="834.90" r="2.25" fill="none" stroke="#4471a6" stroke-width="1.3" />
<circle cx="188.40" cy="840.40" r="2.25" fill="none" stroke="#4471a6" stroke-width="1.3" />
<circle cx="193.50" cy="840.00" r="2.25" fill="none" stroke="#4471a6" stroke-width="1.3" />
<circle cx="199.80" cy="840.40" r="2.25" fill="none" stroke="#4471a6" stroke-width="1.3" />
<circle cx="201.90" cy="843.00" r="2.25" fill="none" stroke="#4471a6" stroke-width="1.3" />
<circle cx="189.30" cy="845.30" r="2.25" fill="none" stroke="#4471a6" stroke-width="1.3" />
<circle cx="196.80" cy="845.30" r="2.25" fill="none" stroke="#4471a6" stroke-width="1.3" />
<path d="M212.30,850.90 L212.30,839.90 L228.40,839.90 L228.40,850.90" fill="none" stroke="#f0104f" stroke-width="1.5"/>
<line x1="220.35" y1="837.50" x2="220.35" y2="842.00" stroke="#f0104f" stroke-width="1.4" />
<line x1="217.75" y1="837.50" x2="222.95" y2="837.50" stroke="#f0104f" stroke-width="1.4" />
<line x1="217.75" y1="842.00" x2="222.95" y2="842.00" stroke="#f0104f" stroke-width="1.4" />
<circle cx="220.00" cy="834.40" r="2.25" fill="none" stroke="#f0104f" stroke-width="1.3" />
<circle cx="214.00" cy="838.20" r="2.25" fill="none" stroke="#f0104f" stroke-width="1.3" />
<circle cx="217.80" cy="840.00" r="2.25" fill="none" stroke="#f0104f" stroke-width="1.3" />
<circle cx="222.00" cy="840.00" r="2.25" fill="none" stroke="#f0104f" stroke-width="1.3" />
<circle cx="226.20" cy="840.00" r="2.25" fill="none" stroke="#f0104f" stroke-width="1.3" />
<circle cx="220.00" cy="845.80" r="2.25" fill="none" stroke="#f0104f" stroke-width="1.3" />
<path d="M237.40,850.90 L237.40,811.40 L253.10,811.40 L253.10,850.90" fill="none" stroke="#4471a6" stroke-width="1.5"/>
<line x1="245.25" y1="804.20" x2="245.25" y2="816.90" stroke="#4471a6" stroke-width="1.4" />
<line x1="242.65" y1="804.20" x2="247.85" y2="804.20" stroke="#4471a6" stroke-width="1.4" />
<line x1="242.65" y1="816.90" x2="247.85" y2="816.90" stroke="#4471a6" stroke-width="1.4" />
<circle cx="251.40" cy="797.40" r="2.25" fill="none" stroke="#4471a6" stroke-width="1.3" />
<circle cx="238.80" cy="803.00" r="2.25" fill="none" stroke="#4471a6" stroke-width="1.3" />
<circle cx="251.40" cy="804.20" r="2.25" fill="none" stroke="#4471a6" stroke-width="1.3" />
<circle cx="245.20" cy="816.90" r="2.25" fill="none" stroke="#4471a6" stroke-width="1.3" />
<circle cx="245.20" cy="831.00" r="2.25" fill="none" stroke="#4471a6" stroke-width="1.3" />
<path d="M262.30,850.90 L262.30,807.20 L277.70,807.20 L277.70,850.90" fill="none" stroke="#f0104f" stroke-width="1.5"/>
<line x1="270.00" y1="794.10" x2="270.00" y2="818.10" stroke="#f0104f" stroke-width="1.4" />
<line x1="267.40" y1="794.10" x2="272.60" y2="794.10" stroke="#f0104f" stroke-width="1.4" />
<line x1="267.40" y1="818.10" x2="272.60" y2="818.10" stroke="#f0104f" stroke-width="1.4" />
<circle cx="270.20" cy="773.60" r="2.25" fill="none" stroke="#f0104f" stroke-width="1.3" />
<circle cx="270.20" cy="805.50" r="2.25" fill="none" stroke="#f0104f" stroke-width="1.3" />
<circle cx="270.20" cy="816.90" r="2.25" fill="none" stroke="#f0104f" stroke-width="1.3" />
<circle cx="270.20" cy="829.30" r="2.25" fill="none" stroke="#f0104f" stroke-width="1.3" />
<line x1="178.60" y1="742.00" x2="178.60" y2="851.50" stroke="#111" stroke-width="1.4" />
<line x1="177.90" y1="850.90" x2="287.10" y2="850.90" stroke="#111" stroke-width="1.4" />
<line x1="174.10" y1="850.90" x2="178.60" y2="850.90" stroke="#111" stroke-width="1.2" />
<text x="172.0" y="853.7" font-size="7.8" text-anchor="end" fill="#222" >0</text>
<line x1="174.10" y1="823.67" x2="178.60" y2="823.67" stroke="#111" stroke-width="1.2" />
<text x="172.0" y="826.5" font-size="7.8" text-anchor="end" fill="#222" >50</text>
<line x1="174.10" y1="796.45" x2="178.60" y2="796.45" stroke="#111" stroke-width="1.2" />
<text x="172.0" y="799.2" font-size="7.8" text-anchor="end" fill="#222" >100</text>
<line x1="174.10" y1="769.23" x2="178.60" y2="769.23" stroke="#111" stroke-width="1.2" />
<text x="172.0" y="772.0" font-size="7.8" text-anchor="end" fill="#222" >150</text>
<line x1="174.10" y1="742.00" x2="178.60" y2="742.00" stroke="#111" stroke-width="1.2" />
<text x="172.0" y="744.8" font-size="7.8" text-anchor="end" fill="#222" >200</text>
<line x1="195.00" y1="850.90" x2="195.00" y2="854.90" stroke="#111" stroke-width="1.2" />
<line x1="220.30" y1="850.90" x2="220.30" y2="854.90" stroke="#111" stroke-width="1.2" />
<line x1="245.10" y1="850.90" x2="245.10" y2="854.90" stroke="#111" stroke-width="1.2" />
<line x1="270.20" y1="850.90" x2="270.20" y2="854.90" stroke="#111" stroke-width="1.2" />
<text x="230.2" y="738.6" font-size="10" text-anchor="middle" fill="#111" >P18</text>
<text x="0" y="0" font-size="9.6" text-anchor="end" fill="#111" transform="translate(197.9,858.0) rotate(-60)">WT 20ms</text>
<g transform="translate(227.7,859.6) rotate(-60)"><text x="0" y="0" font-size="10.4" text-anchor="end" fill="#111" font-style="italic">Pmca1-CKO</text><text x="-29.2" y="11.7" font-size="10.4" text-anchor="middle" fill="#111">20ms</text></g>
<text x="0" y="0" font-size="9.6" text-anchor="end" fill="#111" transform="translate(260.3,858.0) rotate(-60)">WT 100ms</text>
<g transform="translate(288.1,859.6) rotate(-60)"><text x="0" y="0" font-size="10.4" text-anchor="end" fill="#111" font-style="italic">Pmca1-CKO</text><text x="-29.2" y="11.7" font-size="10.4" text-anchor="middle" fill="#111">100ms</text></g>
<text x="220.3" y="825.5" font-size="8.8" text-anchor="middle" fill="#111" >N.S.</text>
<text x="271.0" y="763.3" font-size="8.8" text-anchor="middle" fill="#111" >N.S.</text>
<path d="M312.60,850.90 L312.60,825.60 L328.20,825.60 L328.20,850.90" fill="none" stroke="#4471a6" stroke-width="1.5"/>
<line x1="320.40" y1="822.30" x2="320.40" y2="829.00" stroke="#4471a6" stroke-width="1.4" />
<line x1="317.80" y1="822.30" x2="323.00" y2="822.30" stroke="#4471a6" stroke-width="1.4" />
<line x1="317.80" y1="829.00" x2="323.00" y2="829.00" stroke="#4471a6" stroke-width="1.4" />
<circle cx="321.50" cy="810.20" r="2.25" fill="none" stroke="#4471a6" stroke-width="1.3" />
<circle cx="316.50" cy="818.90" r="2.25" fill="none" stroke="#4471a6" stroke-width="1.3" />
<circle cx="313.80" cy="822.00" r="2.25" fill="none" stroke="#4471a6" stroke-width="1.3" />
<circle cx="318.80" cy="822.00" r="2.25" fill="none" stroke="#4471a6" stroke-width="1.3" />
<circle cx="316.80" cy="826.50" r="2.25" fill="none" stroke="#4471a6" stroke-width="1.3" />
<circle cx="321.00" cy="826.50" r="2.25" fill="none" stroke="#4471a6" stroke-width="1.3" />
<circle cx="313.80" cy="829.30" r="2.25" fill="none" stroke="#4471a6" stroke-width="1.3" />
<circle cx="318.80" cy="829.30" r="2.25" fill="none" stroke="#4471a6" stroke-width="1.3" />
<circle cx="323.80" cy="829.30" r="2.25" fill="none" stroke="#4471a6" stroke-width="1.3" />
<circle cx="326.90" cy="826.50" r="2.25" fill="none" stroke="#4471a6" stroke-width="1.3" />
<path d="M337.30,850.90 L337.30,849.20 L353.40,849.20 L353.40,850.90" fill="none" stroke="#f0104f" stroke-width="1.5"/>
<circle cx="339.00" cy="850.50" r="2.25" fill="none" stroke="#f0104f" stroke-width="1.3" />
<circle cx="345.30" cy="846.10" r="2.25" fill="none" stroke="#f0104f" stroke-width="1.3" />
<circle cx="345.30" cy="849.50" r="2.25" fill="none" stroke="#f0104f" stroke-width="1.3" />
<circle cx="351.70" cy="849.70" r="2.25" fill="none" stroke="#f0104f" stroke-width="1.3" />
<path d="M363.00,850.90 L363.00,791.20 L378.10,791.20 L378.10,850.90" fill="none" stroke="#4471a6" stroke-width="1.5"/>
<line x1="370.55" y1="785.40" x2="370.55" y2="797.00" stroke="#4471a6" stroke-width="1.4" />
<line x1="367.95" y1="785.40" x2="373.15" y2="785.40" stroke="#4471a6" stroke-width="1.4" />
<line x1="367.95" y1="797.00" x2="373.15" y2="797.00" stroke="#4471a6" stroke-width="1.4" />
<circle cx="370.20" cy="767.20" r="2.25" fill="none" stroke="#4471a6" stroke-width="1.3" />
<circle cx="376.40" cy="789.60" r="2.25" fill="none" stroke="#4471a6" stroke-width="1.3" />
<circle cx="370.20" cy="792.40" r="2.25" fill="none" stroke="#4471a6" stroke-width="1.3" />
<circle cx="363.80" cy="799.10" r="2.25" fill="none" stroke="#4471a6" stroke-width="1.3" />
<circle cx="370.20" cy="797.40" r="2.25" fill="none" stroke="#4471a6" stroke-width="1.3" />
<circle cx="376.40" cy="799.10" r="2.25" fill="none" stroke="#4471a6" stroke-width="1.3" />
<path d="M387.30,850.90 L387.30,847.80 L402.70,847.80 L402.70,850.90" fill="none" stroke="#f0104f" stroke-width="1.5"/>
<circle cx="395.30" cy="844.10" r="2.25" fill="none" stroke="#f0104f" stroke-width="1.3" />
<circle cx="389.00" cy="850.50" r="2.25" fill="none" stroke="#f0104f" stroke-width="1.3" />
<circle cx="401.60" cy="849.20" r="2.25" fill="none" stroke="#f0104f" stroke-width="1.3" />
<circle cx="396.50" cy="849.00" r="2.25" fill="none" stroke="#f0104f" stroke-width="1.3" />
<line x1="303.40" y1="742.00" x2="303.40" y2="851.50" stroke="#111" stroke-width="1.4" />
<line x1="302.70" y1="850.90" x2="412.10" y2="850.90" stroke="#111" stroke-width="1.4" />
<line x1="298.90" y1="850.90" x2="303.40" y2="850.90" stroke="#111" stroke-width="1.2" />
<text x="296.8" y="853.7" font-size="7.8" text-anchor="end" fill="#222" >0</text>
<line x1="298.90" y1="829.23" x2="303.40" y2="829.23" stroke="#111" stroke-width="1.2" />
<text x="296.8" y="832.0" font-size="7.8" text-anchor="end" fill="#222" >20</text>
<line x1="298.90" y1="807.56" x2="303.40" y2="807.56" stroke="#111" stroke-width="1.2" />
<text x="296.8" y="810.4" font-size="7.8" text-anchor="end" fill="#222" >40</text>
<line x1="298.90" y1="785.89" x2="303.40" y2="785.89" stroke="#111" stroke-width="1.2" />
<text x="296.8" y="788.7" font-size="7.8" text-anchor="end" fill="#222" >60</text>
<line x1="298.90" y1="764.22" x2="303.40" y2="764.22" stroke="#111" stroke-width="1.2" />
<text x="296.8" y="767.0" font-size="7.8" text-anchor="end" fill="#222" >80</text>
<line x1="298.90" y1="742.55" x2="303.40" y2="742.55" stroke="#111" stroke-width="1.2" />
<text x="296.8" y="745.3" font-size="7.8" text-anchor="end" fill="#222" >100</text>
<line x1="320.10" y1="850.90" x2="320.10" y2="854.90" stroke="#111" stroke-width="1.2" />
<line x1="345.40" y1="850.90" x2="345.40" y2="854.90" stroke="#111" stroke-width="1.2" />
<line x1="370.30" y1="850.90" x2="370.30" y2="854.90" stroke="#111" stroke-width="1.2" />
<line x1="395.40" y1="850.90" x2="395.40" y2="854.90" stroke="#111" stroke-width="1.2" />
<text x="364.1" y="739.4" font-size="10" text-anchor="middle" fill="#111" >P24</text>
<text x="0" y="0" font-size="9.6" text-anchor="end" fill="#111" transform="translate(322.5,858.0) rotate(-60)">WT 20ms</text>
<g transform="translate(352.3,859.6) rotate(-60)"><text x="0" y="0" font-size="10.4" text-anchor="end" fill="#111" font-style="italic">Pmca1-CKO</text><text x="-29.2" y="11.7" font-size="10.4" text-anchor="middle" fill="#111">20ms</text></g>
<text x="0" y="0" font-size="9.6" text-anchor="end" fill="#111" transform="translate(384.9,858.0) rotate(-60)">WT 100ms</text>
<g transform="translate(412.7,859.6) rotate(-60)"><text x="0" y="0" font-size="10.4" text-anchor="end" fill="#111" font-style="italic">Pmca1-CKO</text><text x="-29.2" y="11.7" font-size="10.4" text-anchor="middle" fill="#111">100ms</text></g>
<text x="345.3" y="832.9" font-size="15.3" text-anchor="middle" fill="#111" >***</text>
<text x="395.4" y="830.9" font-size="15.3" text-anchor="middle" fill="#111" >***</text>
<text x="24.5" y="790.5" font-size="11" text-anchor="middle" fill="#8a8a8a" transform="rotate(-90 24.5 790.5)">&#916;C<tspan font-size="6.5" dy="2">m</tspan><tspan dy="-2">(fF)</tspan></text>
</svg>
</body></html>
